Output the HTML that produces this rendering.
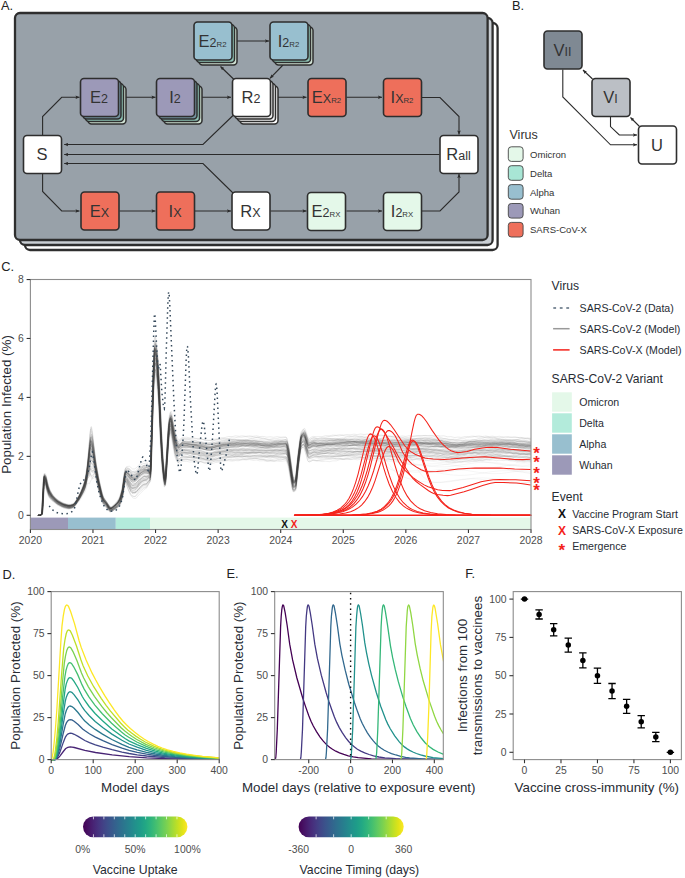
<!DOCTYPE html>
<html><head><meta charset="utf-8"><style>
html,body{margin:0;padding:0;background:#fff;}
svg{display:block;}
text{font-family:"Liberation Sans", sans-serif;}
</style></head><body>
<svg width="685" height="878" viewBox="0 0 685 878">
<rect width="685" height="878" fill="#fff"/>
<rect x="25" y="23" width="472.6" height="227" rx="5" fill="#ffffff" stroke="#2e2e2e" stroke-width="2.3"/>
<rect x="20" y="18" width="472.6" height="227" rx="5" fill="#c9ced3" stroke="#2e2e2e" stroke-width="2.3"/>
<rect x="15" y="13" width="472.6" height="227" rx="5" fill="#98a1a9" stroke="#2e2e2e" stroke-width="2.3"/>
<defs><marker id="ah" viewBox="0 0 10 10" refX="10" refY="5" markerWidth="4.4" markerHeight="4" orient="auto-start-reverse" markerUnits="userSpaceOnUse"><path d="M0,0.5 L10,5 L0,9.5 L2,5 z" fill="#2a2a2a"/></marker></defs>
<path d="M42.6,135L42.6,116.5L61.7,97.3L79.5,97.3" fill="none" stroke="#2a2a2a" stroke-width="1.1" marker-end="url(#ah)"/>
<path d="M42.6,174L42.6,191.5L61.7,211L79.5,211" fill="none" stroke="#2a2a2a" stroke-width="1.1" marker-end="url(#ah)"/>
<path d="M119,97.3L155.5,97.3" fill="none" stroke="#2a2a2a" stroke-width="1.1" marker-end="url(#ah)"/>
<path d="M195,97.3L231,97.3" fill="none" stroke="#2a2a2a" stroke-width="1.1" marker-end="url(#ah)"/>
<path d="M270.5,97.3L306.5,97.3" fill="none" stroke="#2a2a2a" stroke-width="1.1" marker-end="url(#ah)"/>
<path d="M346.5,97.3L382,97.3" fill="none" stroke="#2a2a2a" stroke-width="1.1" marker-end="url(#ah)"/>
<path d="M422,97.5L440,97.5L459,116.5L459,134.5" fill="none" stroke="#2a2a2a" stroke-width="1.1" marker-end="url(#ah)"/>
<path d="M234,79.5L220.5,66.5" fill="none" stroke="#2a2a2a" stroke-width="1.1" marker-end="url(#ah)"/>
<path d="M283,65L270,78.3" fill="none" stroke="#2a2a2a" stroke-width="1.1" marker-end="url(#ah)"/>
<path d="M233,41L269,41" fill="none" stroke="#2a2a2a" stroke-width="1.1" marker-end="url(#ah)"/>
<path d="M119.5,211L155.5,211" fill="none" stroke="#2a2a2a" stroke-width="1.1" marker-end="url(#ah)"/>
<path d="M195,211L231,211" fill="none" stroke="#2a2a2a" stroke-width="1.1" marker-end="url(#ah)"/>
<path d="M270.5,211L306.5,211" fill="none" stroke="#2a2a2a" stroke-width="1.1" marker-end="url(#ah)"/>
<path d="M346.5,211L382,211" fill="none" stroke="#2a2a2a" stroke-width="1.1" marker-end="url(#ah)"/>
<path d="M422,211L440,211L459,192L459,174" fill="none" stroke="#2a2a2a" stroke-width="1.1" marker-end="url(#ah)"/>
<path d="M233,115.5L203,144.5L64.2,144.5" fill="none" stroke="#2a2a2a" stroke-width="1.1" marker-end="url(#ah)"/>
<path d="M439.5,154.5L64.2,154.5" fill="none" stroke="#2a2a2a" stroke-width="1.1" marker-end="url(#ah)"/>
<path d="M233,193L203,163.5L64.2,163.5" fill="none" stroke="#2a2a2a" stroke-width="1.1" marker-end="url(#ah)"/>
<rect x="23.5" y="135.5" width="38" height="38" rx="3.5" fill="#ffffff" stroke="#2e2e2e" stroke-width="1.6"/>
<text x="42" y="160.3" fill="#333333" text-anchor="middle"><tspan font-size="16.5">S</tspan></text>
<rect x="88" y="86" width="38" height="38" rx="3.5" fill="#cddfd1" stroke="#2e2e2e" stroke-width="1.5"/>
<rect x="85.5" y="83.5" width="38" height="38" rx="3.5" fill="#8ec3b5" stroke="#2e2e2e" stroke-width="1.5"/>
<rect x="83" y="81" width="38" height="38" rx="3.5" fill="#728f9b" stroke="#2e2e2e" stroke-width="1.5"/>
<rect x="80.5" y="78.5" width="38" height="38" rx="3.5" fill="#9c99b8" stroke="#2e2e2e" stroke-width="1.6"/>
<text x="99" y="103.3" fill="#333333" text-anchor="middle"><tspan font-size="16.5">E</tspan><tspan font-size="12.5">2</tspan></text>
<rect x="164" y="86" width="38" height="38" rx="3.5" fill="#cddfd1" stroke="#2e2e2e" stroke-width="1.5"/>
<rect x="161.5" y="83.5" width="38" height="38" rx="3.5" fill="#8ec3b5" stroke="#2e2e2e" stroke-width="1.5"/>
<rect x="159" y="81" width="38" height="38" rx="3.5" fill="#728f9b" stroke="#2e2e2e" stroke-width="1.5"/>
<rect x="156.5" y="78.5" width="38" height="38" rx="3.5" fill="#9c99b8" stroke="#2e2e2e" stroke-width="1.6"/>
<text x="175" y="103.3" fill="#333333" text-anchor="middle"><tspan font-size="16.5">I</tspan><tspan font-size="12.5">2</tspan></text>
<rect x="240" y="86" width="38" height="38" rx="3.5" fill="#ffffff" stroke="#2e2e2e" stroke-width="1.5"/>
<rect x="237.5" y="83.5" width="38" height="38" rx="3.5" fill="#f0f0f0" stroke="#2e2e2e" stroke-width="1.5"/>
<rect x="235" y="81" width="38" height="38" rx="3.5" fill="#e8e8e8" stroke="#2e2e2e" stroke-width="1.5"/>
<rect x="232.5" y="78.5" width="38" height="38" rx="3.5" fill="#ffffff" stroke="#2e2e2e" stroke-width="1.6"/>
<text x="251" y="103.3" fill="#333333" text-anchor="middle"><tspan font-size="16.5">R</tspan><tspan font-size="12.5">2</tspan></text>
<rect x="199" y="27" width="38" height="38" rx="3.5" fill="#cddfd1" stroke="#2e2e2e" stroke-width="1.5"/>
<rect x="196.5" y="24.5" width="38" height="38" rx="3.5" fill="#8ec3b5" stroke="#2e2e2e" stroke-width="1.5"/>
<rect x="194" y="22" width="38" height="38" rx="3.5" fill="#98bfcf" stroke="#2e2e2e" stroke-width="1.6"/>
<text x="212.5" y="46.8" fill="#333333" text-anchor="middle"><tspan font-size="16.5">E</tspan><tspan font-size="12.5">2</tspan><tspan font-size="7.8">R2</tspan></text>
<rect x="275" y="27" width="38" height="38" rx="3.5" fill="#cddfd1" stroke="#2e2e2e" stroke-width="1.5"/>
<rect x="272.5" y="24.5" width="38" height="38" rx="3.5" fill="#8ec3b5" stroke="#2e2e2e" stroke-width="1.5"/>
<rect x="270" y="22" width="38" height="38" rx="3.5" fill="#98bfcf" stroke="#2e2e2e" stroke-width="1.6"/>
<text x="288.5" y="46.8" fill="#333333" text-anchor="middle"><tspan font-size="16.5">I</tspan><tspan font-size="12.5">2</tspan><tspan font-size="7.8">R2</tspan></text>
<rect x="308" y="78.5" width="38" height="38" rx="3.5" fill="#ee6f5b" stroke="#2e2e2e" stroke-width="1.6"/>
<text x="326.5" y="103.3" fill="#333333" text-anchor="middle"><tspan font-size="16.5">E</tspan><tspan font-size="12.5">X</tspan><tspan font-size="7.8">R2</tspan></text>
<rect x="383.5" y="78.5" width="38" height="38" rx="3.5" fill="#ee6f5b" stroke="#2e2e2e" stroke-width="1.6"/>
<text x="402" y="103.3" fill="#333333" text-anchor="middle"><tspan font-size="16.5">I</tspan><tspan font-size="12.5">X</tspan><tspan font-size="7.8">R2</tspan></text>
<rect x="440" y="135.5" width="38" height="38" rx="3.5" fill="#ffffff" stroke="#2e2e2e" stroke-width="1.6"/>
<text x="458.5" y="160.3" fill="#333333" text-anchor="middle"><tspan font-size="16.5">R</tspan><tspan font-size="12.5">all</tspan></text>
<rect x="81" y="192" width="38" height="38" rx="3.5" fill="#ee6f5b" stroke="#2e2e2e" stroke-width="1.6"/>
<text x="99.5" y="216.8" fill="#333333" text-anchor="middle"><tspan font-size="16.5">E</tspan><tspan font-size="12.5">X</tspan></text>
<rect x="156.5" y="192" width="38" height="38" rx="3.5" fill="#ee6f5b" stroke="#2e2e2e" stroke-width="1.6"/>
<text x="175" y="216.8" fill="#333333" text-anchor="middle"><tspan font-size="16.5">I</tspan><tspan font-size="12.5">X</tspan></text>
<rect x="232" y="192" width="38" height="38" rx="3.5" fill="#ffffff" stroke="#2e2e2e" stroke-width="1.6"/>
<text x="250.5" y="216.8" fill="#333333" text-anchor="middle"><tspan font-size="16.5">R</tspan><tspan font-size="12.5">X</tspan></text>
<rect x="307.5" y="192.5" width="38" height="38" rx="3.5" fill="#e4f8e9" stroke="#2e2e2e" stroke-width="1.6"/>
<text x="326" y="217.3" fill="#333333" text-anchor="middle"><tspan font-size="16.5">E</tspan><tspan font-size="12.5">2</tspan><tspan font-size="7.8">RX</tspan></text>
<rect x="383.5" y="192.5" width="38" height="38" rx="3.5" fill="#e4f8e9" stroke="#2e2e2e" stroke-width="1.6"/>
<text x="402" y="217.3" fill="#333333" text-anchor="middle"><tspan font-size="16.5">I</tspan><tspan font-size="12.5">2</tspan><tspan font-size="7.8">RX</tspan></text>
<path d="M562.8,69.5L562.8,97L610.5,144.8L637,144.8" fill="none" stroke="#2a2a2a" stroke-width="1.1" marker-end="url(#ah)"/>
<path d="M610.5,117L610.5,126.6L619.3,135L637,135" fill="none" stroke="#2a2a2a" stroke-width="1.1" marker-end="url(#ah)"/>
<path d="M592.5,79L583,70" fill="none" stroke="#2a2a2a" stroke-width="1.1" marker-end="url(#ah)"/>
<path d="M639.5,126.5L630.5,117.5" fill="none" stroke="#2a2a2a" stroke-width="1.1" marker-end="url(#ah)"/>
<rect x="544" y="31" width="38" height="38" rx="3.5" fill="#7f8993" stroke="#2e2e2e" stroke-width="1.6"/>
<text x="562.5" y="55.8" fill="#333333" text-anchor="middle"><tspan font-size="16.5">V</tspan><tspan font-size="12.5">II</tspan></text>
<rect x="592" y="78.5" width="38" height="38" rx="3.5" fill="#bbbfc5" stroke="#2e2e2e" stroke-width="1.6"/>
<text x="610.5" y="103.3" fill="#333333" text-anchor="middle"><tspan font-size="16.5">V</tspan><tspan font-size="12.5">I</tspan></text>
<rect x="638.5" y="126" width="38" height="38" rx="3.5" fill="#ffffff" stroke="#2e2e2e" stroke-width="1.6"/>
<text x="657" y="150.8" fill="#333333" text-anchor="middle"><tspan font-size="16.5">U</tspan></text>
<text x="509.5" y="139" font-size="12.5" fill="#333333" text-anchor="start" >Virus</text>
<rect x="508.3" y="146.8" width="14.8" height="14.6" rx="3" fill="#e4f8e9" stroke="#444" stroke-width="0.9"/>
<text x="530" y="157.7" font-size="9.55" fill="#333333" text-anchor="start" >Omicron</text>
<rect x="508.3" y="165.7" width="14.8" height="14.6" rx="3" fill="#a8e6d5" stroke="#444" stroke-width="0.9"/>
<text x="530" y="176.6" font-size="9.55" fill="#333333" text-anchor="start" >Delta</text>
<rect x="508.3" y="184.6" width="14.8" height="14.6" rx="3" fill="#98bfcf" stroke="#444" stroke-width="0.9"/>
<text x="530" y="195.5" font-size="9.55" fill="#333333" text-anchor="start" >Alpha</text>
<rect x="508.3" y="203.5" width="14.8" height="14.6" rx="3" fill="#9c99b8" stroke="#444" stroke-width="0.9"/>
<text x="530" y="214.4" font-size="9.55" fill="#333333" text-anchor="start" >Wuhan</text>
<rect x="508.3" y="222.4" width="14.8" height="14.6" rx="3" fill="#ee6f5b" stroke="#444" stroke-width="0.9"/>
<text x="530" y="233.3" font-size="9.55" fill="#333333" text-anchor="start" >SARS-CoV-X</text>
<text x="1" y="9.6" font-size="12.8" fill="#222" text-anchor="start" >A.</text>
<text x="512" y="9.6" font-size="12.8" fill="#222" text-anchor="start" >B.</text>
<text x="1.2" y="271.4" font-size="12.8" fill="#222" text-anchor="start" >C.</text>
<text x="2.6" y="578.7" font-size="12.8" fill="#222" text-anchor="start" >D.</text>
<text x="226.5" y="578.2" font-size="12.8" fill="#222" text-anchor="start" >E.</text>
<text x="465.2" y="578.2" font-size="12.8" fill="#222" text-anchor="start" >F.</text>
<g>
<rect x="30.4" y="517.6" width="37.6" height="11.9" fill="#9c99b8"/>
<rect x="68" y="517.6" width="47.8" height="11.9" fill="#98bfcf"/>
<rect x="115.8" y="517.6" width="34.2" height="11.9" fill="#b3ebdb"/>
<rect x="150" y="517.6" width="381" height="11.9" fill="#e4f8e9"/>
<path d="M37.9,515.3L40.4,515.3L41.4,514.9L41.9,514.3L42.4,511.6L43.9,481.6L44.4,476.9L45.4,478L45.9,479.1L47.4,485.9L49.4,492L51.9,496L56.4,500.6L58.4,502.1L63.4,504.7L68.4,506.1L70.4,506.2L73,505.5L74,504.9L75.5,503.1L78.5,498.7L80.5,495L84,487.1L85.5,482.5L87,474.3L90.5,447L91,445.7L91.5,446.4L92,447.9L93.5,453.6L98.5,481.5L102,495.7L103,498.5L104,500.3L107,504.1L109.5,507.9L110.5,508.6L111.5,508.5L112.5,508L116,505L118.5,502.4L120,500L121,497.3L122.5,491.7L124.5,478L125.5,473.5L126,473.4L126.5,473.7L129,475.8L132,479.7L133.5,480.2L134.5,480.2L136,479.5L139,476.2L144,472.5L145,472.3L148.5,473.2L150,474.3L150.5,473.5L151,464.1L153.5,377.6L154.5,357.4L155,353L155.5,353.4L156.1,355.3L157.1,361.4L157.6,366.1L159.1,388.9L161.1,434.3L162.6,459.9L164.1,475.3L164.6,478.7L165.1,480.1L165.6,478L166.1,471.9L169.1,426.1L170.1,420.6L170.6,419.2L171.1,419.3L171.6,420.9L174.6,437.8L175.6,442.2L177.1,445.8L178.1,447.3L178.6,447.7L179.6,447.5L182.1,445.7L186.1,445.4L189.6,446.3L193.1,446.3L196.6,447.3L200.1,447.5L204.1,449L207.1,449.2L210.1,449.9L211.6,449.6L214.6,448.6L217.6,448.2L221.1,447L224.6,446.7L228.1,445.5L231.6,445.5L235.1,444.8L238.6,445.1L242.2,444.6L245.7,445.2L249.2,444.8L252.7,445.4L256.2,445L259.2,445.7L262.7,445.7L266.7,446.7L269.7,446.4L273.2,446.9L276.7,446.3L280.2,446.7L283.7,446.2L286.2,446.5L286.7,446.9L287.2,448.1L288.7,453.8L292.7,480.6L293.2,482.7L293.7,483.5L294.7,483.1L295.7,481.9L296.2,479.6L298.2,460.2L300.7,441L301.2,438.6L301.7,437.5L302.7,436L303.7,435.1L304.2,435L304.7,435.5L305.7,438L307.7,444.6L308.7,446.3L309.2,446.4L311.7,445.1L313.2,444.8L321.2,445.6L325.3,444.9L328.8,445.3L332.3,444.8L335.8,445.4L339.3,444.9L342.8,445.5L346.3,444.9L349.8,445.3L353.3,444.4L356.8,444.5L360.3,443.7L363.8,443.8L367.3,443.2L370.8,443.7L374.3,443.3L377.8,444.1L380.8,443.9L384.3,444.7L387.8,444.5L391.3,445.3L394.8,445L398.3,445.6L401.8,445.2L405.3,445.8L408.9,445.2L412.4,445.6L415.9,445L419.4,445.3L422.9,444.6L425.9,444.9L429.4,444.2L433.4,444.6L436.9,444.1L440.4,444.8L443.4,444.8L446.9,445.9L450.4,446.1L453.9,447.1L457.4,446.8L460.9,447.2L464.4,446.6L467.9,446.8L471.4,446.2L474.9,446.5L478.4,445.9L481.9,446.3L485.4,445.6L488.9,445.7L492.5,444.9L495.5,445.1L499,444.4L502.5,444.8L506,444.4L509.5,445.1L513.5,445.1L516.5,445.9L520,445.9L523.5,446.7L527,446.6L531,447.5" fill="none" stroke="#404040" stroke-opacity="0.104" stroke-width="0.9"/>
<path d="M37.9,515.3L40.9,515.3L41.9,514.9L42.4,514.3L42.9,511.8L44.4,481.3L44.9,476.1L45.4,476.4L46.4,478.2L47.9,485.1L49.9,491.3L52.4,495.4L56.9,500.2L58.9,501.7L63.9,504.4L66.4,505.2L69.4,505.8L71.4,505.7L73.5,505.1L74.5,504.5L76,502.8L79,498.3L81,494.4L84.5,486.3L86,481.5L87.5,473L90.5,446.3L91,442.6L91.5,441.2L92,442L92.5,443.7L93.5,448.1L96,464.1L98.5,478L100,485.1L102.5,495L103.5,497.8L104.5,499.7L107.5,503.6L110,507.4L111,508.2L112,508.2L113,507.6L116.5,504.6L119,501.9L120.5,499.5L121.5,496.7L123,491.2L125,477.4L126,472.6L126.5,472.5L127,472.6L129.5,474.3L132.5,477.9L133,478.2L134,478.3L135,478L136.5,477.2L139.5,473.6L144.5,469.3L145.5,469.1L146.5,469.4L149,471L150.5,472.6L151,472L151.5,462.9L154,373.9L155,353.2L155.5,348.5L156.1,349L156.6,351.1L158.1,362.7L159.6,386.1L161.6,432.4L163.1,458.5L164.6,474.3L165.1,477.8L165.6,479.4L166.1,477.5L166.6,471.5L169.6,425.2L170.6,419.5L171.1,418L171.6,418.1L172.1,419.7L175.1,436.6L176.1,441.1L177.6,444.7L178.6,446.2L179.1,446.5L180.1,446.4L182.6,444.5L186.1,443.9L190.1,444.6L193.6,444.3L197.1,445.1L200.6,445L204.1,446.2L207.1,446.3L210.6,447L214.6,446L217.6,445.9L221.6,445L224.6,445.1L228.1,444.2L231.6,444.4L235.1,443.7L238.6,443.9L242.2,443.1L245.7,443.4L249.2,442.8L252.7,443.2L256.7,442.9L259.7,443.6L263.2,443.6L266.7,444.6L270.2,444.4L273.7,444.9L276.7,444.3L280.2,444.5L284.2,444L286.7,444.3L287.2,444.8L287.7,445.9L289.2,451.8L292.7,476.2L293.7,481.4L294.2,482.3L295.2,481.9L296.2,480.7L296.7,478.5L299.2,454.9L300.7,443.2L301.7,437.4L303.2,434.5L304.2,433.6L304.7,433.5L305.7,435L308.2,442.9L309.2,444.6L309.7,444.6L312.2,443.5L313.7,443.2L321.7,444L325.3,443.3L329.3,443.6L332.8,443L336.3,443.2L339.8,442.5L343.3,442.7L346.3,442L349.8,442.2L353.3,441.5L356.8,442L360.3,441.5L363.8,442.2L367.3,441.9L370.8,442.7L374.3,442.4L377.8,443.1L381.3,442.6L384.8,443.1L388.3,442.6L391.8,443.1L395.3,442.5L398.8,443L402.3,442.4L405.8,442.9L408.9,442.4L412.4,442.9L416.4,442.5L419.4,443.1L422.9,442.8L426.4,443.4L429.9,443L433.4,443.5L436.9,443L440.4,443.5L443.4,443.2L447.4,444L450.4,443.8L453.9,444.6L457.9,444.3L460.9,444.8L464.4,444.3L467.9,444.7L471.4,444.1L474.9,444.5L478.4,443.9L481.9,444.2L485.4,443.4L488.9,443.6L492.5,442.8L496,443.2L499.5,442.6L503,443.2L506.5,442.9L510,443.6L513.5,443.5L517,444.3L520,444.1L523.5,444.9L527,444.8L531,445.5" fill="none" stroke="#404040" stroke-opacity="0.125" stroke-width="0.9"/>
<path d="M37.9,515.3L40.9,515.2L41.9,514L42.4,509.1L43.9,484L44.4,482.3L45.4,483.5L45.9,484.9L47.4,491.4L48.9,495.7L49.9,497.3L51.4,499.1L56.9,503.8L61.9,506.5L63.9,507.4L66.9,508.1L68.9,508.4L70.4,508.4L73.5,507.3L75,505.8L79,500.4L83,493.6L84.5,490.6L85.5,487.9L87,480.5L88,477.5L89,477L90,474.9L90.5,474.4L91.5,475.9L92,476.1L92.5,475.8L93.5,474L94,473.7L94.5,473.7L95.5,475.1L96,476.7L99,490.6L101,497.8L102.5,502.2L104,504.6L107,507.7L109.5,511.1L110.5,511.7L112,511.2L117.5,507.4L119,506L120,504.5L121,502L122.5,497L124.5,483.9L125,481.8L125.5,481.3L131,492L132,493.3L133,493.7L134.5,493.5L136,492.7L139,489.3L143.5,485.2L144.5,484.8L146.5,484.9L147,484.5L148.5,482L150,480.7L150.5,478L153,401.1L154,381.2L154.5,374.4L155,372.4L155.5,373.1L156.6,376.9L157.6,383.8L159.1,405.4L160.6,438.4L162.1,463.2L163.6,478.9L164.6,485.3L165.1,485.9L165.6,482.4L166.1,475.9L168.6,439.9L169.6,433.8L170.1,432.2L170.6,431.5L171.1,432.3L171.6,434.5L175.1,454.4L175.6,456.2L177.1,459.6L178.1,461L178.6,461.3L179.6,461.1L182.1,459.3L185.6,458.8L189.1,459.5L192.6,459.3L196.1,460.1L199.6,459.9L203.1,460.8L206.6,460.8L209.6,461.2L210.6,461.1L213.6,459.9L217.1,459.5L220.1,458.5L224.1,458.4L227.6,457.6L231.1,457.9L234.6,457.5L238.1,458L241.2,457.6L244.7,458.3L248.2,458L251.7,458.6L255.2,458.3L258.7,459L262.2,458.9L265.7,459.6L269.2,459.2L272.7,459.4L276.2,458.5L279.7,458.7L283.2,458L286.2,458.3L287.2,459.9L288.7,464.5L292.2,486L293.2,490.3L293.7,490.7L295.2,489.7L295.7,488.7L296.2,486L298.2,466.8L300.7,449L301.2,447.1L301.7,446.4L303.2,445L303.7,445L304.2,445.4L304.7,446.3L307.7,456.8L308.2,457.9L308.7,458.5L309.2,458.6L313.2,457.6L317.2,457.9L320.7,458.4L324.8,457.8L328.3,458.3L331.8,457.9L334.8,458.5L338.8,458.1L342.3,458.6L345.8,458.1L349.3,458.4L352.8,457.7L356.3,458L359.8,457.2L363.3,457.5L366.3,456.9L369.8,457.2L373.3,456.6L376.8,457.1L380.3,456.5L383.8,457L387.3,456.5L390.8,457.1L394.3,456.8L397.8,457.5L401.3,457.1L404.8,457.7L408.4,457.3L411.9,457.8L415.4,457.4L418.4,458.1L421.9,457.8L425.4,458.5L428.9,458.3L432.4,458.9L435.9,458.6L439.4,459.2L442.9,459L446.4,459.8L449.9,459.5L453.4,460.1L456.9,459.4L460.4,459.5L463.9,458.6L467.4,458.6L470.9,457.7L474.4,457.9L477.9,457.3L481.4,457.6L484.9,457.1L487.9,457.6L491.5,457.2L495,457.9L498.5,457.6L502,458.4L505.5,458.2L509,459L512.5,458.7L516,459.4L519.5,459.1L523,459.8L526.5,459.4L529.5,460L531,459.9" fill="none" stroke="#404040" stroke-opacity="0.106" stroke-width="0.9"/>
<path d="M37.9,515.3L40.4,515.2L41.4,514.2L41.9,511.3L43.4,484.5L43.9,481.5L44.9,482.8L45.4,484L46.9,490.6L48.4,495.2L49.4,497L50.9,498.8L56.4,503.5L61.9,506.4L63.9,507.2L67.9,508L69.4,508L70.9,507.7L73,506.9L75,504.8L79,499.1L83.5,490.9L84.5,488.5L85.5,485.1L87.5,474.2L89.5,469.1L90,468.3L90.5,469.1L91.5,471.9L92,472.5L93,472.3L94,472.8L95.5,475.5L99,490.9L101,498.1L102.5,502.1L104,504.2L106.5,506.7L109,510.2L110,510.9L110.5,510.9L112,510.2L117,506.6L118.5,505.2L119.5,503.8L120.5,501.4L122,496.5L124,483.8L124.5,481.2L125,480.1L126,481.3L131,491.7L132,492.7L133,492.9L134.5,492.6L136,491.6L143,483.9L144,483.3L146.5,483.3L148.5,480.8L149.5,480L150,478.6L150.5,468.7L153,388.6L154,371.6L154.5,368.2L155,368.9L155.5,370.6L156.6,375.6L157.6,385.5L158.6,400.5L160.1,433.6L161.6,459.8L163.1,476.7L164.1,483.7L164.6,485L165.1,482.7L165.6,476.8L168.1,439.6L168.6,434.7L169.6,430.4L170.1,429.4L170.6,429.8L171.1,431.7L174.1,449.1L175.1,453.5L176.6,457L177.6,458.5L178.1,458.8L179.1,458.7L182.1,456.4L185.1,455.8L188.6,456.3L192.1,456L195.6,457L198.6,457.1L202.6,458.6L205.6,459.1L208.6,460L209.6,460.1L213.1,459.1L216.1,458.9L220.1,457.5L223.1,457.3L226.6,456L230.1,455.9L233.6,455.1L237.1,455.5L240.7,455.1L244.2,455.9L247.7,455.8L251.2,456.5L254.7,456.1L257.7,456.6L261.7,456.3L265.2,456.8L268.7,456.1L272.2,456.2L275.7,455.4L279.2,455.8L282.2,455.6L285.7,456.5L286.2,456.9L286.7,458L288.2,463L292.2,487.5L292.7,489.4L293.2,490.1L294.2,489.7L295.2,488.6L295.7,486.4L297.7,467.7L300.2,449.1L300.7,446.9L301.2,445.8L302.2,444.5L303.2,444L303.7,444.2L304.7,446.2L306.7,453.3L307.7,456L308.2,456.7L308.7,456.8L312.7,455.5L315.7,455.4L320.2,455.9L324.3,455.3L327.3,456L331.3,455.8L334.3,456.4L338.3,455.8L341.3,456.1L344.8,455.2L348.8,455.1L351.8,454.3L355.3,454.5L358.8,453.9L362.3,454.6L365.8,454.5L369.3,455.4L372.8,455.3L376.3,456.1L379.8,455.6L383.3,456L386.8,455.3L390.3,455.5L393.8,454.9L397.3,455.3L400.8,454.9L404.3,455.6L407.4,455.3L411.4,456L414.9,455.7L417.9,456.2L421.4,455.7L424.9,456L428.4,455.3L431.9,455.6L435.4,455L438.9,455.6L442.4,455.6L445.9,456.8L449.4,457.1L452.9,458.1L456.4,457.9L459.4,458.3L463.4,457.3L466.9,457.2L470.4,456.1L473.4,456.1L477.4,455.2L480.4,455.6L483.9,455.2L487.4,455.9L491,455.7L494.5,456.5L498,456.2L501.5,456.8L505,456.2L508.5,456.5L512,455.8L515.5,456.1L519,455.6L522.5,456.3L526,456.3L529,457.3L531,457.3" fill="none" stroke="#404040" stroke-opacity="0.091" stroke-width="0.9"/>
<path d="M37.9,515.3L40.9,515.1L41.9,513.7L42.4,507.9L43.9,479L44.4,477.9L45.4,479.4L47.4,487.6L48.9,492L50.4,494.7L51.9,496.7L55.4,500.1L57.9,502L60.4,503.5L63.9,505L67.4,506L69.9,506.1L72.5,505.5L73.5,505.1L75,503.5L78.5,498.3L80.5,494.7L83.5,488.1L85,483.8L86.5,476.8L89,459.8L90,451.1L90.5,448.4L91,448L91.5,449L93,454.3L98.5,482.9L102,496.8L103.5,500.1L107,504.5L109,507.7L110,508.7L111,508.7L112,508.2L116,505.2L118.5,502.4L120,499.8L121,497.1L122.5,491.6L124.5,477.5L125,475L125.5,474.2L126,474.5L127,475.4L131,480.8L132,481.4L132.5,481.4L135,481.2L136,480.8L137,479.6L139.5,475.6L144.5,472.1L146,471.7L147.5,472L150,474.1L150.5,470.4L151,456.9L153.5,371.2L154.5,353.3L155,351.9L156.1,356.3L157.1,363.7L158.1,376.8L159.1,394.1L160.6,429.2L162.6,463.6L164.1,477.8L164.6,480.5L165.1,480.6L166.1,469.3L168.6,430L169.6,423.5L170.1,421.8L170.6,421.2L171.1,422.2L171.6,424.5L175.1,442.9L177.1,448.3L178.1,449.7L178.6,449.9L179.6,449.2L181.1,447.3L182.1,446.6L185.1,446.7L188.1,446.1L191.6,446.7L195.6,446.7L198.6,447.7L202.1,448.2L206.1,449.9L212.1,450.3L216.1,449L219.6,448.7L223.1,447.4L226.6,447L229.6,445.9L233.6,445.8L236.6,445.2L240.7,445.7L243.7,445.5L247.7,446.5L250.7,446.4L254.7,447.2L257.7,446.9L261.7,447.6L264.7,447.2L268.2,447.4L271.7,446.4L275.2,446.3L278.7,445.4L282.2,446L285.2,445.7L286.2,446L287.2,448.5L288.7,455.3L292.2,479.5L293.2,483.7L293.7,484.1L295.2,483.3L295.7,482.3L296.2,479.3L298.2,459.5L300.7,441.1L301.2,439.4L301.7,438.7L302.7,437.6L303.7,437.1L304.2,437.3L305.2,439.1L307.7,446.6L308.2,447.6L308.7,448.1L309.2,448.1L310.2,447.8L312.7,445.8L313.7,445.5L317.2,446.1L320.7,445.3L323.8,445.4L327.3,444.9L330.8,445.6L334.3,445.4L337.8,446.3L341.3,446L344.8,446.4L348.3,445.6L351.8,445.7L355.3,444.6L358.8,444.6L362.3,443.7L365.8,444.2L369.3,443.9L372.3,444.7L376.3,444.9L379.3,445.9L382.8,445.9L386.8,446.7L389.8,446.3L393.3,446.6L396.8,445.8L400.3,445.8L403.8,444.9L407.4,445L410.9,444.4L414.4,445.1L417.9,445L420.9,445.9L424.9,445.9L428.4,446.7L431.9,446.3L434.9,446.7L438.4,446L441.9,446.4L445.4,445.9L448.9,446.6L452.4,446.5L455.9,447.3L459.4,447.1L462.9,447.8L466.4,447.4L469.9,447.9L473.4,447.2L476.9,447.3L480.4,446.4L483.9,446.3L486.9,445.4L491,445.4L494,444.9L498,445.5L501,445.4L504.5,446.4L508,446.5L512,447.4L515,447.2L518.5,447.8L522,447.3L525.5,447.6L529,447L531,447.2" fill="none" stroke="#404040" stroke-opacity="0.120" stroke-width="0.9"/>
<path d="M37.9,515.3L40.4,515.3L40.9,515L41.4,514.4L41.9,512.6L43.9,473.8L44.4,474L45.4,475.9L46.9,483L48.9,489.3L50.4,492.2L52.4,495.2L54.4,497.6L55.9,498.9L58.9,501L61.4,502.4L66.4,504.2L68.4,504.6L70.9,504.2L73.5,503.3L75,501.6L76.5,499.3L79.5,493.9L82,488.2L84,482.6L85.5,476.6L87.5,462L90,432.9L90.5,429.7L91,429.2L91.5,430.6L92.5,436.3L95,459.5L96,466.7L98,477.6L100.5,489L102,494.6L103,497.1L104,498.7L106.5,501.9L109.5,506.6L110.5,506.9L111.5,506.5L115.5,503L117.5,500.6L119.5,497L122,488.5L124.5,471.1L125,469L125.5,468.4L127,468.1L128.5,468.6L131.5,471.6L132,471.7L135.5,470.9L137,469.7L139.5,466.2L141,464.8L143,463.7L146,463.2L146.5,463.2L147.5,464.3L149.5,468.8L150,469.3L150.5,461.3L151,445L153,367.7L154,343.6L154.5,337.4L155,337.4L155.5,339.7L157.1,353.1L158.6,378.1L160.6,425.5L162.1,453.2L163.6,470.7L164.1,474.6L164.6,476.7L165.1,475.3L165.6,469.4L168.6,420.3L169.6,414L170.1,412.4L170.6,412.4L171.1,414.1L172.6,422.8L175.1,434.8L177.1,439.7L178.1,441.2L178.6,441.4L179.6,440.8L181.6,438.6L182.6,438.3L186.1,438.9L189.1,438.5L193.1,439L196.6,438.7L199.6,439.3L203.1,439.4L206.1,440.4L207.6,440.6L210.1,440.3L213.6,440.3L217.1,439.4L220.6,439.6L224.1,438.8L227.6,438.8L231.1,438L234.6,438L238.1,437.1L241.7,437.2L245.2,436.6L248.7,437L252.2,436.7L255.2,437.4L258.7,437.4L262.7,438.7L265.7,438.8L269.2,439.4L272.7,438.7L276.2,438.7L279.7,437.8L283.2,437.8L285.7,437.2L286.2,437.4L286.7,438.6L288.2,445.3L291.7,471.6L292.7,477.1L293.2,478.1L294.2,477.7L295.2,476.8L295.7,474.9L298.2,451.2L299.7,438.9L300.7,432.8L301.2,431.6L302.2,430.2L303.2,429.5L303.7,429.4L304.7,430.6L307.7,438.5L308.2,439.2L308.7,439.4L310.2,439.1L313.7,437.6L314.7,437.6L317.2,438.5L318.2,438.6L321.7,437.5L325.3,437.4L328.8,436.4L331.8,436.4L335.3,435.6L338.8,435.9L342.3,435.4L345.8,436.1L349.3,435.8L352.8,436.5L356.3,436.1L359.8,436.7L363.3,436.1L366.8,436.5L370.3,435.8L373.8,436.1L376.8,435.5L380.8,435.9L383.8,435.5L387.3,436.3L390.8,436.3L394.3,437.3L397.8,437.2L401.3,437.9L404.8,437.3L408.4,437.6L411.9,436.6L415.4,436.6L418.9,435.7L422.4,435.9L425.9,435.4L429.4,436L432.9,435.9L436.4,436.9L439.4,437L443.4,438.4L446.4,438.6L450.4,439.6L453.4,439.3L456.9,439.5L460.4,438.5L464.4,438.2L467.4,437.2L470.9,437.3L474.4,436.6L477.9,437.1L481.4,436.8L484.9,437.5L488.4,437.3L492,438L495.5,437.6L498.5,438L502.5,437.4L505.5,437.8L509,437.1L512.5,437.5L516,437L519.5,437.8L523,437.7L526.5,438.7L529.5,438.8L531,439.1" fill="none" stroke="#404040" stroke-opacity="0.109" stroke-width="0.9"/>
<path d="M37.9,515.3L40.4,515.2L41.4,514.1L41.9,509.8L43.4,481L43.9,478.7L44.9,480L45.4,481.4L46.9,488.2L47.9,491.6L48.9,493.9L51.4,497.4L55.4,501.4L57.4,502.9L61.9,505.4L63.9,506.2L67.4,507L68.9,507.2L70.4,507L73,506L74,505.1L77,500.9L79,497.6L83,489.5L84.5,485.4L85.5,481.5L90,454.4L90.5,454.2L93,460.5L98.5,486.3L100.5,494.3L102,499.2L103,501.2L104,502.7L106.5,505.5L109,509.2L110,509.9L111.5,509.5L116.5,505.6L118.5,503.5L119.5,501.7L122,493.7L124,480.3L124.5,477.7L125,476.6L125.5,476.9L126.5,477.9L128.5,480.5L131,484.6L132,485.3L133.5,485L135.5,483.9L141.5,477.7L143,476.5L144,476.3L146.5,476.8L148,476.3L149.5,476.5L150,474.4L150.5,462.8L153,380L154,362.1L154.5,359.4L155,360.4L156.1,365.3L157.1,373.6L158.6,396.7L160.1,431L161.6,457.5L163.1,474.6L164.1,481.6L164.6,482.5L165.1,479.3L165.6,472.7L168.1,434L169.1,426.6L169.6,424.6L170.1,423.7L170.6,424.4L171.1,426.5L174.6,445.9L175.1,447.6L176.6,450.9L177.6,452.4L178.1,452.8L179.1,452.7L181.6,450.6L184.1,450.1L188.1,451L191.6,450.9L195.1,451.8L198.6,451.8L202.1,452.8L205.1,452.9L208.6,453.6L212.6,452.5L215.6,452.2L219.1,451.2L222.6,451.3L226.1,450.5L229.6,450.8L233.1,450.3L236.6,450.7L240.2,450.2L243.7,450.5L247.2,449.9L250.7,450.1L254.2,449.5L257.7,449.9L260.7,449.6L264.2,450.4L267.7,450.3L271.2,450.9L274.7,450.5L278.2,451L281.7,450.7L285.7,451.2L286.2,451.8L286.7,453L288.2,458.4L291.7,481.6L292.7,486L293.2,486.5L294.2,485.9L295.2,484.4L295.7,481.8L297.7,462.6L300.2,443.8L300.7,441.7L301.2,440.7L302.2,439.4L303.2,438.9L303.7,439.1L304.2,439.9L307.2,449.1L308.2,450.6L312.7,449.6L314.7,449.5L319.7,450.5L323.3,449.9L326.8,450.4L330.3,450L333.8,450.4L337.3,449.7L340.8,450L344.3,449.1L347.8,449.2L351.3,448.4L354.8,448.7L358.3,448.1L361.8,448.6L365.3,448.3L368.8,449L372.3,448.8L375.8,449.6L379.3,449.3L382.8,449.9L386.3,449.5L389.8,450L392.8,449.6L396.3,450.1L399.8,449.7L403.8,450L406.9,449.4L410.4,449.8L413.9,449.1L417.4,449.5L420.9,448.9L424.4,449.4L427.9,449L430.9,449.6L434.4,449.4L438.4,450.2L441.4,450.1L444.9,451.2L448.4,451.3L452.4,452.2L455.4,451.8L458.9,452.1L462.4,451.2L465.9,451.1L469.4,450.1L472.9,450.2L476.4,449.5L479.9,449.9L483.4,449.4L486.9,450L490.5,449.8L493.5,450.4L497.5,450.2L501,450.8L504.5,450.4L508,450.8L511.5,450.2L515,450.5L518,450L521.5,450.5L525,450.2L528.5,451L531,450.9" fill="none" stroke="#404040" stroke-opacity="0.094" stroke-width="0.9"/>
<path d="M37.9,515.3L40.9,515.2L41.9,514.2L42.4,510.9L43.9,483.9L44.4,480.1L45.4,481.2L45.9,482.4L47.4,489.1L49.4,494.7L51.4,497.5L56.4,502.1L58.4,503.5L62.9,505.7L67.9,506.9L69.9,507L71.4,506.7L73.5,505.8L74.5,504.9L78,500L79.5,497.5L83.5,489.3L85,485.4L86.5,478.9L90,457.3L90.5,454.9L91,454.4L93,458.7L94,461.8L99,486.5L101,494.5L102.5,499.4L103.5,501.5L104.5,503L107,505.9L109.5,509.6L110.5,510.3L112,510L117,506.3L119,504.4L120,502.9L121,500.3L122.5,495.2L124.5,481.9L125,479.3L125.5,478.2L126.5,479.1L131.5,486.3L132,486.8L133,487L134.5,486.6L136,485.5L139,481.6L143,477.3L144,476.5L145,476.2L147,476.3L148.5,475.6L150,476L150.5,474.7L151,464.5L153.5,381.1L154.5,362.1L155,358.4L155.5,358.9L156.1,360.7L157.1,366.5L157.6,371.2L159.1,394L161.1,438.5L162.6,463.1L164.1,477.8L164.6,481L165.1,482.3L165.6,479.8L166.1,473.7L168.6,435.3L169.1,430.3L170.1,425.4L170.6,424.3L171.1,424.7L171.6,426.6L174.6,444.1L175.6,448.5L177.1,452.2L178.1,453.7L178.6,454.1L179.6,454.1L182.1,452.4L185.1,452.1L189.1,452.9L192.6,452.7L196.1,453.5L199.6,453.2L203.1,454L206.6,453.9L209.6,454.3L211.1,454L213.6,452.9L217.1,452.5L220.1,451.6L224.1,451.6L227.6,450.9L231.1,451.3L234.6,451L238.1,451.5L241.7,451.2L245.2,451.7L248.2,451.2L252.2,451.5L255.7,450.8L258.7,451.1L262.2,450.7L266.2,451.1L269.2,450.5L272.7,450.7L276.2,449.9L279.7,450.2L283.2,449.9L286.2,450.6L286.7,451.2L287.2,452.3L288.7,457.8L292.2,481.2L293.2,486.2L293.7,486.9L294.7,486.6L295.7,485.4L296.2,483.1L298.2,464.2L300.7,445.9L301.2,443.7L301.7,442.8L302.7,441.6L303.7,441.1L304.2,441.3L305.2,443.4L307.7,452.1L308.7,453.9L309.2,454L312.7,452.9L320.7,452.6L324.8,451.1L328.3,450.8L331.8,449.6L335.3,449.4L338.8,448.4L342.3,448.5L345.8,447.7L349.3,448.1L352.8,447.7L356.3,448.4L359.3,448.3L363.3,449.5L366.8,449.7L370.3,450.9L373.3,450.9L376.8,452L380.3,451.8L383.8,452.5L387.3,452L390.8,452.3L394.3,451.5L397.8,451.5L401.3,450.5L404.8,450.4L408.4,449.3L411.9,449.3L415.4,448.5L418.9,448.9L422.4,448.6L425.9,449.4L428.9,449.2L432.4,450.2L435.9,450.3L439.4,451.3L442.9,451.5L446.4,452.6L449.9,452.6L453.4,453.4L456.9,452.8L460.4,453L463.9,452L467.4,452L470.9,451L474.4,451.1L477.9,450.4L481.4,450.7L484.9,450.2L488.4,450.8L491.5,450.5L495,451.2L498.5,451L502,451.8L505.5,451.5L509,452.1L512.5,451.7L516,452.1L519.5,451.5L523,451.8L526.5,451.2L529.5,451.5L531,451.4" fill="none" stroke="#404040" stroke-opacity="0.091" stroke-width="0.9"/>
<path d="M37.9,515.3L40.4,515.3L41.4,514.9L41.9,514.2L42.4,511.3L43.9,478.8L44.4,474.3L45.4,475.6L45.9,476.9L47.4,483.9L49.4,490L52.4,495.1L53.9,497L55.9,498.9L58.4,500.8L61.4,502.7L64.4,503.9L68.4,505L70.4,504.9L73.5,504L74.5,503.2L76,501.2L79.5,495.2L82,489.7L84.5,482.7L86,476.7L87.5,466L90,438.3L90.5,433.5L91,431.4L91.5,431.9L92.5,436.9L96,465.2L98.5,478.8L101.5,492.2L102.5,495.6L103.5,497.9L110,507.2L111,507.5L112,507L116,503.6L118,501.2L120,497.6L122.5,489L125,471.5L125.5,469.6L126,469.1L127.5,469L129,469.8L131,472.1L132,472.8L136,472.2L137,471.5L139.5,468L141,466.6L143.5,465.5L146,465.1L146.5,465.2L147.5,466L150,470.5L150.5,469.8L151,459.8L153.5,367.6L154.5,345.6L155,341.3L155.5,342.2L156.1,344.8L157.6,358.5L159.1,383.1L161.1,429.6L162.6,456.5L164.1,472.8L164.6,476.3L165.1,477.8L165.6,475.4L166.1,469L169.1,421L170.1,415.4L170.6,414.2L171.1,414.5L171.6,416.3L173.1,424.9L175.6,436.6L177.6,441.4L178.6,442.6L179.1,442.7L179.6,442.4L181.6,440.1L182.6,439.5L186.1,440.1L189.6,439.9L193.1,440.7L196.6,440.7L199.6,441.7L203.1,442L206.1,443L207.6,443.2L213.6,442.6L217.1,441.1L220.6,441L224.1,439.9L227.6,440L231.1,439.3L234.6,439.8L238.1,439.3L241.7,439.8L245.2,439.3L248.7,439.7L251.7,439.1L255.2,439.5L258.7,439.1L262.2,439.9L265.7,439.9L269.7,440.6L272.7,440.1L276.2,440.3L279.7,439.6L283.2,440L286.2,439.5L286.7,440L287.2,441.4L288.7,448.2L292.2,473.8L293.2,478.8L293.7,479.6L294.7,479.2L295.7,478.2L296.2,475.9L298.7,452.1L300.7,436.6L301.2,434.2L301.7,433.1L302.7,431.9L303.7,431.1L304.2,431.1L305.2,432.4L307.7,439.3L308.7,440.9L309.2,441.1L310.7,440.7L313.2,439.1L314.2,438.8L318.2,439.7L321.7,438.8L325.3,438.8L328.3,438.2L331.8,438.7L335.3,438.3L338.8,438.9L342.3,438.3L345.8,438.7L349.3,437.9L352.8,438.1L356.3,437.3L359.8,437.7L362.8,437.2L366.8,438L370.3,437.8L373.8,438.5L377.3,438.2L380.8,438.7L384.3,438.2L387.8,438.6L390.8,438.2L394.3,438.8L398.3,438.5L401.8,439.1L404.8,438.7L408.4,439.2L411.9,438.5L415.4,438.7L418.9,438L422.4,438.4L425.9,437.9L429.4,438.5L432.9,438.4L436.4,439.2L439.9,439.1L442.9,440L446.9,439.9L450.4,440.7L453.4,440.3L457.4,440.6L460.9,440L463.9,440.4L467.4,439.8L470.9,440.2L474.4,439.6L477.9,440L481.4,439.2L484.9,439.4L488.4,438.6L492,438.9L495,438.5L499,439.2L502,439L505.5,439.8L509.5,439.6L512.5,440.2L516.5,439.7L520,440.2L523,439.8L526.5,440.4L529.5,440.2L531,440.5" fill="none" stroke="#404040" stroke-opacity="0.095" stroke-width="0.9"/>
<path d="M37.9,515.3L40.4,515.3L40.9,515.1L41.4,514.5L41.9,513.2L43.9,476.7L44.4,476.1L45.4,477.8L47.4,486.4L48.9,490.8L51.9,495.7L55.4,499.4L58.4,501.7L61.4,503.5L63.9,504.5L67.9,505.7L69.9,505.7L73,504.8L74,504.1L75.5,502.2L79,496.5L81.5,491.3L84,484.8L85.5,479.4L87.5,466L90,442.1L90.5,439L91,438.5L92,441.5L93,447L95,462.4L97,474.1L99,484.1L101.5,494.5L102.5,497.6L103.5,499.5L106.5,503.3L109,507.3L110,508.3L110.5,508.3L111.5,508L116,504.3L118,501.9L119.5,499.3L121,495L122.5,489.1L124.5,474.6L125,472.3L125.5,471.5L126.5,471.5L128,472.5L129,473.4L131,476.2L132,476.8L136,476.2L137,475.4L139.5,472.1L140.5,471.2L142,470.2L144,469.6L146,469.3L147,469.4L148,470.1L149.5,472.3L150,472.6L150.5,467.1L151,452.5L153.5,365.6L154.5,347.9L155,346.9L155.5,348.7L156.6,355.4L157.6,366.5L158.6,382.6L160.6,428L162.1,455.1L163.1,467.7L164.1,476.5L164.6,478.9L165.1,478.5L165.6,473.6L168.6,425.9L169.6,419.4L170.1,417.7L170.6,417.4L171.1,418.7L175.1,439.5L177.1,444.7L178.1,446.2L178.6,446.4L179.6,445.9L181.6,443.6L182.6,443.2L186.1,443.6L189.6,443.2L193.1,443.9L196.1,443.8L200.1,445.1L203.1,445.4L206.1,446.6L207.6,446.9L213.6,446.2L217.1,444.8L220.6,444.5L224.1,443.2L227.6,443.2L231.1,442.5L234.6,443L238.1,442.7L241.7,443.4L245.2,443L248.7,443.5L251.7,442.9L255.2,443.1L258.7,442.5L262.7,443.2L266.2,443.1L269.7,443.8L272.7,443.4L276.2,443.8L279.7,443.3L283.2,443.8L285.7,443.3L286.2,443.4L287.2,446L288.7,452.9L290.7,468.2L292.2,477.7L293.2,481.5L293.7,481.6L295.2,480.5L295.7,479.1L298.2,455.9L300.7,437.3L301.2,435.8L301.7,435L303.2,433.7L303.7,433.6L304.2,434L304.7,434.8L307.7,443.1L308.2,444L309.2,444.4L310.7,444.2L313.7,442.7L314.7,442.7L317.2,443.6L318.2,443.7L321.7,442.7L325.3,442.6L328.8,441.7L331.8,442L335.8,441.5L338.8,442.1L342.3,441.8L346.3,442.4L349.3,441.8L352.8,442.1L356.3,441.3L359.8,441.4L363.3,440.7L366.8,441.2L370.3,440.9L373.8,441.7L376.8,441.6L380.3,442.4L384.3,442.2L387.3,442.7L391.3,442.2L394.8,442.5L398.3,441.9L401.3,442.3L405.3,441.8L408.4,442.3L411.9,441.9L415.4,442.5L418.9,442.1L422.4,442.5L425.9,441.9L429.4,442.2L432.9,441.7L436.4,442.3L439.9,442.1L442.9,443.1L446.9,443.5L450.4,444.6L453.4,444.4L456.9,444.8L460.9,443.9L464.4,443.9L467.9,442.9L470.9,443.1L474.4,442.5L477.9,443.1L481.4,442.7L484.9,443.3L488.4,442.8L492,443.1L495.5,442.4L499,442.6L502.5,442.1L506,442.7L509.5,442.5L512.5,443.3L516,443.3L520,444.2L523,443.9L527,444.5L529.5,444.1L531,444.1" fill="none" stroke="#404040" stroke-opacity="0.090" stroke-width="0.9"/>
<path d="M37.9,515.3L40.4,515.3L40.9,515L41.4,514.5L41.9,512.9L43.4,488L43.9,483L44.4,483.1L45.4,484.7L46.9,491L48.4,495.5L49.9,498.2L51.4,499.9L57.4,504.8L60.9,506.7L63.9,508L66.4,508.6L68.4,508.8L70.4,508.6L73,507.8L74,507L78.5,500.8L81,496.6L83.5,491.9L85,488.4L86,484.7L87.5,477.1L88,476.1L89,475.1L90,473.2L90.5,473.6L91.5,476.6L92,477.4L92.5,477.3L93.5,476.5L94.5,476.1L95,476.3L95.5,476.9L99,492L102,502.2L103.5,504.7L106.5,507.8L109,511.1L110,511.9L111.5,511.5L116.5,508L119,505.7L120,504.1L121.5,500.1L122.5,496.4L124,486.1L125,481.6L125.5,481.8L126,482.7L129,490.5L130.5,493.7L132,495.6L134,496.5L135,496.7L136,496.3L139.5,491.8L141.5,490.4L144,488.1L145,487.6L146.5,487.2L147,486.6L148.5,483.9L150,481.9L150.5,474.8L153,396.4L154,379L154.5,374.4L155,374.5L156.6,380.2L157.6,388.1L158.6,401.4L160.6,442.9L162.1,466.8L163.6,481.2L164.6,486.3L165.1,485.3L165.6,480.2L168.6,438.2L169.1,435.6L170.1,432.7L170.6,432.7L171.1,434.2L175.1,455.8L176.6,460.1L177.6,461.9L178.1,462.3L178.6,462.4L179.1,462.1L181.1,460.2L182.1,459.7L184.1,459.9L187.1,459.6L190.6,460.4L194.1,460.4L197.6,461.4L201.1,461.5L204.1,462.5L205.6,462.6L208.1,462.4L211.1,462.5L215.1,460.9L218.6,460.7L222.1,459.9L225.6,460.2L229.1,459.7L232.6,460.3L236.1,459.8L239.2,460L242.7,459.2L246.2,459.2L250.2,458.2L253.2,458.5L257.2,458.3L260.2,459.3L263.7,459.7L267.7,461L270.7,460.8L274.2,461.1L277.7,460.1L281.2,459.9L284.7,458.8L285.7,458.8L286.2,459L287.2,461.3L288.7,466.5L292.2,487.4L293.2,490.9L293.7,491L295.2,490.2L295.7,488.6L298.2,466L299.7,454.9L300.7,449.4L301.2,448.3L301.7,447.8L303.2,447.1L303.7,447.3L304.2,447.9L304.7,449L307.7,460L308.2,461.2L308.7,461.7L309.2,461.9L310.2,461.7L312.2,460.6L313.2,460.3L316.7,460.6L319.7,459.8L322.8,459.4L326.8,458.3L329.8,458.5L333.3,458.1L336.8,458.9L340.3,458.8L343.8,459.6L347.3,459.1L350.8,459.4L353.8,458.6L357.8,458.6L361.3,457.8L364.8,458.2L367.8,457.8L371.8,458.5L375.3,458.3L378.3,459L381.8,458.7L385.8,459.3L388.8,458.9L392.3,459.5L396.3,459.2L399.3,459.8L402.8,459.4L406.4,459.8L409.9,459.1L413.4,459.2L416.9,458.4L420.4,458.6L423.9,458L427.4,458.6L430.9,458.5L434.4,459.5L437.9,459.7L440.9,460.7L444.4,460.7L447.9,461.4L451.4,460.9L454.9,461L458.4,459.9L461.9,460L465.4,459.3L468.9,459.9L472.4,459.8L475.9,460.7L479.4,460.4L482.9,460.8L486.4,459.8L490,459.6L493.5,458.5L496.5,458.5L500,457.9L504,458.7L507,458.7L510.5,459.9L514,460.1L517.5,461L521,460.7L524.5,461.1L528,460.4L531,460.7" fill="none" stroke="#404040" stroke-opacity="0.106" stroke-width="0.9"/>
<path d="M37.9,515.3L40.9,515.3L41.4,515L41.9,514.5L42.4,513L43.9,484.8L44.4,477.9L44.9,477.6L45.9,479.3L47.4,486.1L49.4,492.3L51.9,496.2L55.9,500.5L58.4,502.3L62.4,504.7L68.4,506.4L70.4,506.4L73.5,505.4L74.5,504.7L75.5,503.5L78.5,499L81.5,493.3L84,487.7L85.5,483.1L87,475.5L90.5,451.1L91,449.1L91.5,449.1L92,450L93.5,454.7L98.5,481.8L101,492.3L102.5,497.6L104,500.8L107,504.3L109.5,508.1L110.5,509L111,509.1L112,508.7L117,504.8L118.5,503.2L120,500.8L121.5,496.6L123,490.9L124.5,480.2L125.5,475L126,474.7L127.5,475.7L129.5,478L131.5,481.3L132.5,482.1L136,480.9L137,480.3L141.5,474.9L143.5,473.4L144.5,473.1L148.5,473.1L150,474.3L150.5,474.5L151,468L151.5,453.1L153.5,382.3L154.5,360.6L155,354.6L155.5,354L156.1,355.7L157.1,361.8L158.1,372.6L159.1,388.4L161.1,433L162.6,458.8L164.1,475.1L165.1,481L165.6,480.2L166.1,475.1L169.1,428.8L170.1,422.8L170.6,421.1L171.1,421L171.6,422.4L173.1,431.2L175.6,443.3L177.6,447.9L178.6,449.3L179.1,449.5L180.1,449.2L182.1,447.2L183.6,446.7L185.1,446.8L187.6,447.6L191.1,447.7L194.6,448.7L198.1,448.8L201.6,449.8L205.1,449.8L208.6,450.5L212.1,449.5L215.1,449.2L219.1,448L222.6,448.2L226.1,447.4L229.6,447.7L232.6,447.2L236.1,447.4L239.7,446.7L243.2,446.9L246.7,446.3L250.2,446.7L253.7,446.4L257.2,447.1L260.2,447L264.7,448.1L267.7,447.8L271.2,448.1L274.7,447.2L278.2,447.2L281.2,446.6L286.7,447.2L287.7,449.6L289.2,456.3L292.2,477.7L293.2,483.1L293.7,484.3L294.7,484L295.7,483.2L296.2,481.6L298.7,458.8L300.7,443.3L301.7,439.1L302.7,437.7L303.7,437.1L304.2,437.1L304.7,437.6L305.2,438.5L307.7,446L308.7,447.8L309.2,448L310.7,447.7L313.7,446.5L315.2,446.2L319.2,447.1L323.3,446.4L326.8,446.9L330.3,446.5L333.8,446.9L336.8,446.2L340.3,446.4L343.8,445.6L347.3,445.8L351.3,445.1L354.3,445.6L358.3,445.2L361.3,445.9L364.8,445.5L368.3,446.1L371.8,445.6L375.3,446L378.8,445.4L382.3,445.9L385.8,445.6L388.8,446.4L392.8,446.3L396.3,447.1L399.8,446.7L403.3,447.1L406.9,446.3L410.4,446.4L413.4,445.6L416.9,445.9L420.4,445.5L423.9,446.3L427.9,446.2L430.9,446.9L434.4,446.6L437.9,447.1L441.4,446.7L444.9,447.4L448.4,447.2L451.9,448.1L455.4,447.9L458.9,448.6L462.4,448.1L465.9,448.4L468.9,447.7L472.4,447.7L475.9,446.8L479.4,447L483.4,446.2L486.4,446.6L490,446.2L494,446.9L497,446.6L500.5,447.2L504,446.8L507.5,447.3L511,446.7L514.5,447.2L518,446.8L521.5,447.6L525,447.6L528.5,448.5L531,448.4" fill="none" stroke="#404040" stroke-opacity="0.118" stroke-width="0.9"/>
<path d="M37.9,515.3L40.4,515.2L40.9,514.9L41.4,514.3L41.9,511.5L43.4,481.2L43.9,476.4L44.4,476.8L45.4,478.9L46.9,486L48.9,492L51.9,496.7L55.4,500.3L58.4,502.5L61.4,504.1L63.9,505L67.9,506L69.9,505.8L73,504.8L75,502.8L78.5,497.2L81,492.3L83.5,486.3L85,481.5L86.5,473.4L90,446.2L90.5,444.6L91,445.1L91.5,446.5L92.5,450.5L95,466L97.5,479.3L101.5,496L102.5,498.8L103.5,500.5L106.5,504L109,507.9L110,508.6L111.5,508.1L116,504.3L118,502L119.5,499.3L122,491.2L124,477.6L125,472.9L125.5,472.7L126,472.8L127,473.6L128.5,475.3L131,479.3L132,479.8L136,479.3L137,478.4L140,474.4L141.5,473.1L143,472.2L147,471.3L148,471.6L149.5,473.3L150,472.7L150.5,463.3L153,374.9L154,353.5L154.5,348.8L155,349.3L155.5,351.4L157.1,363.7L158.6,387.3L160.6,432.7L162.1,458.8L163.6,474.8L164.1,478.3L164.6,479.9L165.1,477.8L165.6,471.7L168.6,425.6L169.6,420.3L170.1,419.1L170.6,419.5L171.1,421.4L172.6,430.4L175.1,442.5L177.1,447.4L178.1,448.7L178.6,448.9L179.6,448.2L181.1,446.4L182.1,445.7L186.1,445.9L189.6,445.2L193.1,445.6L196.6,445.3L200.1,446.2L203.1,446.5L207.1,448.1L210.6,448L213.1,448.2L214.6,448L217.1,447.2L221.1,447L224.1,445.9L227.6,445.6L231.1,444.5L234.6,444.5L238.1,443.7L241.7,444.2L245.2,444L248.7,444.8L252.2,444.8L255.7,445.5L259.2,445.3L262.7,446.1L266.2,445.6L269.2,445.8L272.7,444.8L276.2,444.8L279.7,444.2L283.2,444.8L285.7,444.6L286.2,445L286.7,446.3L288.2,452.6L291.7,477.3L292.7,482.3L293.2,483.1L294.2,482.7L295.2,481.8L295.7,479.6L298.2,456.2L300.2,440.9L300.7,438.5L301.2,437.4L302.2,436.1L303.2,435.5L303.7,435.6L304.2,436.1L305.2,438.4L307.2,444.2L308.2,445.8L308.7,446L310.2,445.7L313.2,444L314.2,443.8L317.7,444.8L321.7,444.1L325.3,444.5L328.8,444.1L332.3,444.6L335.8,444.1L339.3,444.4L342.3,443.7L345.8,443.8L349.3,443L352.8,443.3L356.3,442.7L359.8,443.3L363.3,443L366.8,443.8L370.3,443.5L373.8,444.2L377.3,443.7L380.8,444.1L384.3,443.4L387.8,443.9L391.3,443.4L394.3,444.1L397.8,443.9L401.3,444.7L404.8,444.4L408.4,444.9L411.9,444.3L415.4,444.5L418.9,443.7L422.4,443.8L425.9,443.1L429.4,443.6L432.9,443.3L436.4,444.2L439.9,444.4L443.4,445.7L446.9,445.9L449.4,446.8L450.9,446.9L453.9,446.6L457.4,446.7L460.4,445.7L463.9,445.5L467.9,444.3L470.9,444.5L474.4,444L477.9,444.7L481.9,444.7L484.9,445.4L488.4,445.1L492,445.6L495.5,444.9L499,444.9L502.5,444L506,444.2L509.5,443.6L513,444.3L516.5,444.3L519.5,445.4L523,445.7L527,447L531,447.1" fill="none" stroke="#404040" stroke-opacity="0.099" stroke-width="0.9"/>
<path d="M37.9,515.3L40.9,515.2L41.9,514.1L42.4,510.3L43.9,479.1L44.4,475.7L45.4,477L45.9,478.4L47.4,485.2L49.4,491L52.4,495.9L56.4,500L58.9,501.9L61.4,503.3L64.9,504.8L67.9,505.5L70.4,505.5L73,504.8L74,504.1L75.5,502.3L78.5,497.5L81,492.6L84,485.2L85.5,480.2L87,471.8L90,444.4L90.5,440.6L91,439.4L91.5,440.3L92,442.4L93,447.7L95.5,464.9L98,478.5L101.5,493.7L102.5,496.9L103.5,499L107,503.5L109,506.6L110,507.7L111,507.8L112,507.3L116,504L118.5,501L120,498.4L121,495.7L122.5,490.2L124.5,476.1L125,473.3L125.5,471.8L126,471.7L127,472.3L131,476.8L132,477.5L132.5,477.6L135,477.3L136,476.9L137,475.8L139,472.3L140,471L143.5,468.4L145,467.6L146,467.4L147,467.7L148,468.7L150,471.9L150.5,470.3L151,459.2L153.5,369.5L154.5,349.2L155,346L155.5,347.2L156.1,350L157.6,363.3L159.1,387.5L161.1,433.5L162.6,459.6L164.1,475L164.6,478.2L165.1,479.3L165.6,476.4L166.1,469.7L168.6,428.7L169.6,420.5L170.1,418.3L170.6,417.2L171.1,417.6L171.6,419.5L174.6,435.3L175.6,439.5L177.1,443.3L178.1,444.9L178.6,445.2L179.6,444.8L181.1,443.2L182.1,442.5L185.1,443.2L188.6,443.4L192.1,444.4L195.6,444.4L199.1,444.9L202.6,444.5L206.1,445.2L209.1,444.7L212.6,444.7L216.1,443.9L219.6,444.4L223.1,444.1L227.1,444.5L230.1,443.7L233.6,443.6L237.1,442.3L240.7,442L244.2,441.1L247.7,441.6L251.2,441.5L254.2,442.5L257.7,442.7L260.7,443.6L262.2,443.9L264.7,443.7L268.2,444L271.7,443L275.2,442.9L278.7,442.2L282.2,442.8L286.2,442.7L286.7,443.4L287.2,444.9L288.7,451.7L292.2,476.3L293.2,481.1L293.7,481.8L294.7,481.4L295.7,480.2L296.2,477.6L298.2,457.8L300.7,438.2L301.2,436.1L301.7,435.1L302.7,433.8L303.7,433L304.2,432.9L305.2,434.2L307.7,441.5L308.7,443.2L309.2,443.4L310.2,443.2L312.7,441.8L313.7,441.6L317.7,443.4L320.7,443.2L324.3,443.5L327.8,442.6L330.8,442.5L334.8,441L337.8,440.8L341.8,439.9L344.8,440.5L348.3,440.4L351.8,441.5L355.3,441.6L358.8,442.3L362.3,441.6L365.8,441.7L369.3,440.7L372.8,440.9L376.3,440.3L379.8,441.1L383.3,441.1L386.8,442.1L390.3,441.9L393.3,442.5L397.3,441.8L400.8,442L404.3,441.3L407.4,441.7L410.9,441.4L414.4,442.2L417.9,442L421.4,442.6L424.9,441.9L428.4,442L431.9,440.9L435.4,441.1L438.4,440.6L439.4,440.8L442.4,441.9L445.4,442.4L449.4,444.2L452.4,444.5L455.9,445.4L459.9,444.5L462.9,444.2L466.4,442.7L469.9,442.4L473.4,441.4L476.9,442L480.4,441.8L483.9,442.7L487.4,442.5L490.5,442.9L494.5,442.2L498,442.4L501.5,441.8L505,442.3L508.5,442.2L511.5,443L515,443L519,443.8L522,443.4L526,443.6L529,442.9L531,443.1" fill="none" stroke="#404040" stroke-opacity="0.121" stroke-width="0.9"/>
<path d="M37.9,515.3L40.9,515.2L41.9,514L42.4,509.7L43.9,482.2L44.4,479.8L45.4,481.1L45.9,482.5L47.4,489.1L48.9,493.4L51.4,497.3L54.9,500.8L57.9,503.1L60.4,504.7L62.9,505.8L66.9,507.2L68.9,507.5L70.9,507.2L73.5,506.4L74.5,505.5L80,497.4L83,491.6L84.5,488L86,482.9L87.5,474.5L89,468.4L90.5,460L91,459.4L93,462.4L94.5,466.7L96,472.7L99,487L101,495.1L102.5,499.8L103.5,501.7L107,505.9L109,509L110,510.1L110.5,510.2L112,509.7L117,506.1L119,503.9L120,502.3L121,499.8L122.5,494.9L124.5,481.4L125,478.9L125.5,477.9L126,478.3L127,479.7L130.5,486.2L131.5,487.4L132.5,487.8L135.5,487.6L136.5,487.1L139.5,482.7L141,481.3L142.5,480.3L144.5,479.3L146.5,478.7L148.5,477.5L150,477.7L150.5,475.5L151,464L153.5,382.6L154.5,364.7L155,362.1L155.5,363.1L156.1,365.3L157.1,371.4L157.6,376.2L159.1,398.5L160.6,432L162.6,465.5L164.1,479.6L164.6,482.5L165.1,483.4L165.6,480.1L166.1,473.5L168.6,435.2L169.6,428.3L170.1,426.5L170.6,425.8L171.1,426.6L171.6,428.7L175.1,447.4L177.1,453.1L178.1,454.8L178.6,455.2L179.6,454.8L181.6,452.5L182.6,452.1L185.6,452.7L189.1,452.6L192.6,453.5L196.1,453.6L199.1,454.5L202.6,454.7L205.6,455.7L207.1,455.9L213.1,455.3L216.6,453.8L220.1,453.5L223.6,452.4L227.1,452.4L230.6,451.7L234.1,452.1L237.6,451.7L241.2,452.3L244.7,452.1L248.2,452.7L251.7,452.4L255.2,452.9L258.7,452.4L262.2,453.1L265.7,452.6L269.2,452.9L272.2,452.1L276.2,452.1L279.2,451.4L282.7,451.9L286.2,451.7L286.7,452.3L287.2,453.6L288.7,459.6L292.2,482.4L293.2,486.8L293.7,487.4L295.2,486.8L295.7,486L296.7,479.4L298.2,464.2L300.7,445.7L301.2,443.8L301.7,443L303.2,441.9L304.2,442.1L304.7,442.9L308.2,453.2L308.7,453.9L309.7,454.2L310.7,454L313.7,452.1L314.7,452L317.7,452.7L321.2,451.7L324.8,451.6L328.3,450.9L331.8,451.3L335.3,450.8L338.8,451.5L342.3,451.2L345.8,451.8L349.3,451.4L352.3,451.9L355.8,451.3L359.3,451.6L362.8,450.9L366.3,451.2L369.8,450.6L373.3,451.1L376.8,450.6L380.3,451.2L383.8,450.9L387.3,451.7L390.3,451.4L393.8,452.1L397.8,451.9L400.8,452.4L404.8,451.8L408.4,452.1L411.9,451.4L414.9,451.8L418.9,451.2L421.9,451.7L425.4,451.3L428.9,451.9L432.4,451.5L435.9,452.2L439.4,451.9L442.9,452.7L445.9,452.5L449.9,453.4L453.4,453.1L456.9,453.7L460.4,453.1L463.9,453.4L467.4,452.8L470.4,453.2L473.9,452.6L477.4,453.1L480.9,452.5L484.4,452.7L487.9,452L491.5,452.2L495,451.4L498.5,451.7L502,451.2L505.5,451.7L509,451.5L512.5,452.2L516,452.2L519.5,453.1L523,453.2L526,454L529.5,453.9L531,454.1" fill="none" stroke="#404040" stroke-opacity="0.123" stroke-width="0.9"/>
<path d="M37.9,515.3L41.4,515.2L42.4,514L42.9,508.9L44.4,478.7L44.9,476.9L45.9,478.4L46.4,479.9L47.9,486.8L49.4,491.4L50.9,494.2L52.4,496.4L55.9,500.1L58.9,502.4L61.4,503.8L64.4,505.1L67.9,506.1L69.9,506.1L73,505.4L74,505L75.5,503.4L79,498L81.5,493.2L84,487.3L86,481L87,475.8L88,468.8L90.5,447.9L91,444.8L91.5,444.2L92,445.2L93.5,451.6L98,477.6L99.5,484.9L102,495.2L103,498.3L104,500.2L107.5,504.6L109.5,507.8L110.5,508.8L111.5,508.8L112.5,508.3L116.5,505L118.5,502.7L120.5,499.3L123,490.9L125,476.5L125.5,473.7L126,472.6L127,472.8L128,473.7L132,478.7L132.5,479.1L136,479.5L136.5,479.4L137.5,478.7L139.5,476L140.5,475L145,473.1L147,472.7L148.5,472.9L150.5,474.6L151,472.1L151.5,459.5L154,373.3L155,354.2L155.5,351.9L156.1,353.1L157.1,358.8L158.1,368.1L159.6,391.9L161.1,426.9L162.6,454.3L164.1,472.2L165.1,479.3L165.6,479.9L166.1,476.1L166.6,469L169.1,428.6L170.1,421.4L170.6,419.5L171.1,418.8L171.6,419.6L172.1,421.8L175.6,440.7L177.6,446.6L178.6,448.4L179.1,448.8L180.1,448.5L181.6,446.9L182.6,446.3L185.6,447.1L189.1,447L192.6,447.6L196.1,447.1L199.6,447.5L203.1,447.2L207.1,448L210.1,447.6L213.6,447.7L217.1,446.8L220.6,447.2L224.1,446.7L227.1,447L231.1,446.4L234.1,446.6L238.1,445.7L241.7,445.7L244.7,444.8L248.2,445L251.7,444.4L255.2,444.9L258.7,444.7L262.2,445.9L265.7,446.1L269.2,447L272.7,446.6L276.2,446.9L279.7,446.1L283.2,446.3L286.7,445.5L287.2,446.3L287.7,447.7L289.2,454.1L292.7,478.2L293.7,482.6L294.2,482.9L295.7,482.1L296.2,481.2L296.7,478.4L298.7,458.5L301.2,439.6L301.7,437.8L302.2,437L303.2,436L304.2,435.5L304.7,435.6L305.7,437.4L308.7,446.2L309.2,446.8L310.2,447L314.2,445.4L317.7,446.6L318.7,446.7L321.7,446.1L325.3,446L328.3,445.1L331.8,445L335.3,444L338.8,444.1L342.3,443.3L345.8,443.8L349.3,443.5L352.3,444.3L356.3,444.3L359.8,445.1L363.3,444.8L366.3,445.2L370.3,444.4L373.8,444.5L376.8,443.7L380.3,443.8L383.8,443.2L387.3,443.9L390.8,444L394.3,445.1L397.8,445.3L400.8,446.2L401.8,446.3L404.8,445.9L408.4,446.2L411.9,445.1L415.4,444.9L418.9,443.8L422.4,443.9L425.9,443.3L429.4,444L432.9,444L435.9,445.1L439.9,445.5L442.9,446.6L446.4,446.8L449.9,447.7L453.4,447.2L456.9,447.3L460.4,446.2L463.9,446.1L467.4,445.1L470.9,445.3L473.9,444.8L477.9,445.6L480.9,445.3L484.4,446L488.4,445.7L491.5,446.2L495.5,445.5L499,445.7L502.5,445L505.5,445.3L509,444.7L512.5,445.2L516,444.9L519.5,445.8L523,445.8L526.5,446.9L529.5,446.9L531,447.2" fill="none" stroke="#404040" stroke-opacity="0.087" stroke-width="0.9"/>
<path d="M37.9,515.3L40.9,515.3L41.4,515L41.9,514.3L42.4,512.3L43.9,479.7L44.4,474L44.9,474.4L45.9,476.2L48.4,486.7L50.4,491.7L51.9,494.2L53.4,496.1L55.9,498.7L58.4,500.8L61.4,502.6L64.9,504.2L67.9,504.9L70.4,505L72.5,504.5L74,503.7L75.5,501.9L78,497.9L80.5,493L83,486.6L84.5,482.2L86,476.3L87.5,465.2L90,434.8L90.5,429.8L91,427.6L91.5,428.6L92.5,434.6L96,464.2L98.5,478.5L101,490.1L102.5,495.6L103.5,497.9L109,506.1L110,507.3L111,507.5L112,507.1L115,504.5L118,500.9L120,497.3L121,494.4L122.5,488.5L125,470.5L125.5,468.4L126,467.8L127,467.7L129,468.2L130,468.9L131.5,470.6L132.5,471.4L134.5,471.9L135.5,471.9L136.5,471.4L139.5,468L142,466.8L144,465.5L145.5,465.2L146.5,465.5L147,465.9L150,470.6L150.5,470.5L151,461.8L151.5,445L153.5,368.8L154.5,346.5L155,341.4L155.5,341.9L156.1,344.3L157.6,356.7L159.1,380.6L161.1,427.9L162.6,455.2L164.1,471.9L164.6,475.6L165.1,477.3L165.6,475.6L166.1,469.5L169.1,421.1L170.1,415.1L170.6,413.6L171.1,413.5L171.6,415L175.6,435.8L177.1,439.6L178.1,441.2L178.6,441.5L179.6,441.2L182.1,439L187.1,439L191.1,440.2L194.6,440.5L198.1,441.8L201.1,441.9L204.1,442.9L205.6,443L211.1,442.3L215.6,440.1L218.6,439.5L222.1,438.5L225.6,438.9L229.1,438.8L232.6,439.9L236.1,440L239.7,440.7L243.2,440L246.7,439.9L250.2,438.5L253.7,438.2L257.2,437.3L260.7,438L263.7,438.2L267.7,439.6L270.7,439.7L274.2,440.5L277.7,440L281.2,440.3L284.7,439.5L286.2,439.5L286.7,440L287.2,441.4L288.7,447.8L292.2,472.9L293.2,478.4L293.7,479.4L294.7,479.1L295.7,478L296.2,475.9L298.7,451.8L300.2,439.9L301.2,434.1L301.7,432.9L302.7,431.3L303.7,430.3L304.2,430L304.7,430.3L305.2,431.1L308.2,439.6L308.7,440.3L309.2,440.4L312.2,438.4L313.2,438L316.7,438.6L319.7,438.4L323.3,438.7L326.3,438.3L329.8,439L333.3,438.7L336.8,439.1L340.3,438.3L343.8,438.1L347.3,436.8L350.8,436.5L354.3,435.6L357.8,436.2L361.3,436.3L364.8,437.7L368.3,438.1L370.8,439L372.3,439.2L375.3,438.9L378.8,439L382.3,437.8L385.3,437.7L389.3,436.6L392.8,437L395.8,436.8L399.3,437.9L402.8,438.1L406.9,439.1L409.9,438.8L413.4,439.2L416.9,438.3L420.4,438.4L423.9,437.5L427.4,437.9L430.9,437.4L433.9,438.1L437.9,437.9L441.4,438.7L444.9,438.7L448.4,439.5L451.4,439.4L454.9,440.2L458.4,440L462.4,440.7L465.4,440.3L468.9,440.6L472.4,439.7L475.9,439.6L479.4,438.3L482.9,438L485.4,437.2L486.9,437L490,437.4L493.5,437.3L497,438.6L500,439L503,440.1L504.5,440.4L507.5,440.2L511,440.6L514,439.7L517.5,439.5L521.5,438.4L524.5,438.7L528,438.5L531,439.5" fill="none" stroke="#404040" stroke-opacity="0.123" stroke-width="0.9"/>
<path d="M37.9,515.3L41.4,515.1L42.4,513.7L42.9,507.6L44.4,477.3L44.9,476L45.9,477.4L47.9,485.9L48.9,489.3L49.9,491.7L52.4,495.7L56.9,500.3L58.9,501.7L63.9,504.3L66.9,505.1L69.4,505.6L71.4,505.4L73.5,504.7L74.5,503.9L76,502.1L79,497.4L81,493.4L84.5,484.9L86,479.7L87.5,470L90.5,441.4L91,438.6L91.5,438.6L92.5,442.3L93.5,447.5L96,465L98,476.2L99.5,483.7L102,493.9L103,497L104,499.1L107.5,503.8L109.5,506.9L110.5,508L111.5,508.1L112.5,507.6L116,504.6L119,501.3L120.5,498.5L121.5,495.4L123,489.5L125,475.1L125.5,472.6L126,471.7L127,471.9L129.5,473.4L132,476.5L132.5,476.9L133.5,477.1L134.5,477L136,476.3L139.5,472.5L143.5,469.2L144.5,468.6L145.5,468.6L146.5,469L148.5,470.4L150,472.2L150.5,472.4L151,468.6L151.5,454.8L154,367.6L155,349.3L155.5,347.7L156.6,351.8L157.6,359.3L158.6,372.7L159.6,390.7L161.1,426.8L163.1,461.6L164.6,475.9L165.1,478.5L165.6,478.6L166.6,467L169.1,426.7L170.1,419.5L170.6,417.5L171.1,416.7L171.6,417.6L172.1,419.7L175.6,438.8L176.1,440.4L177.6,443.7L178.6,444.9L179.1,445.1L180.1,444.7L182.6,442.9L186.1,442.5L189.6,443.2L193.1,443.1L196.6,444L200.1,444.1L204.1,445.3L207.1,445.5L210.1,446.1L211.6,445.9L214.1,445L217.6,444.7L221.1,443.8L224.6,443.8L228.1,443L231.6,443.3L235.1,442.7L238.6,443.1L242.2,442.6L245.7,443.1L249.2,442.6L252.7,443.1L256.2,442.6L259.7,443.2L263.2,443L266.7,443.7L269.7,443.2L273.2,443.5L276.7,442.7L280.7,442.8L283.7,442.3L286.7,442.9L287.7,445.4L289.2,451.8L292.7,477.1L293.7,481.4L294.2,481.6L295.7,480.4L296.2,479.2L296.7,476.1L298.7,456.2L301.2,437.8L301.7,436L302.2,435.1L303.2,433.6L304.2,432.9L304.7,433.1L305.2,433.8L308.2,442.7L308.7,443.6L309.2,443.9L312.2,442.4L313.7,442.1L321.7,442.7L325.3,441.9L328.8,442.3L332.8,441.7L335.8,442.2L339.3,441.7L342.8,442.1L346.3,441.6L349.8,442L353.3,441.3L356.8,441.7L359.8,441.1L363.8,441.5L367.3,440.9L370.8,441.5L374.3,441L377.8,441.6L381.3,441.2L384.8,441.8L387.8,441.4L391.3,442L394.8,441.5L398.3,442.1L401.8,441.6L405.3,441.9L408.9,441.3L412.4,441.6L415.9,441L419.4,441.5L422.9,441.2L426.4,441.8L429.9,441.6L433.4,442.3L436.9,442.1L439.9,442.8L443.4,442.7L446.9,443.7L450.4,443.7L454.4,444.4L457.4,444L460.9,444.3L464.4,443.6L467.9,443.8L471.4,443L474.9,443.2L478.4,442.5L481.9,442.8L485.4,442.1L488.9,442.4L492,441.8L496,442.2L499.5,441.7L503,442.3L506.5,441.9L510,442.5L513.5,442.3L517,442.9L520,442.7L523.5,443.5L527.5,443.4L531,444.1" fill="none" stroke="#404040" stroke-opacity="0.090" stroke-width="0.9"/>
<path d="M37.9,515.3L40.9,515.1L41.9,513.9L42.4,508.6L43.9,480.2L44.4,478.7L45.4,480L45.9,481.5L47.4,488.3L48.9,492.9L51.4,496.7L55.9,501.2L57.9,502.6L62.9,505.3L68.4,506.8L70.4,506.8L73,505.9L74,505.3L75,504.2L78,499.9L80,496.3L83.5,489L85,484.8L86,480.7L90.5,452.7L91,452.6L91.5,453.4L93.5,458.7L98.5,484.1L102,497.7L103,500.2L104,501.9L107,505.4L109,508.5L110,509.5L111,509.6L112,509.1L116.5,505.5L118.5,503.5L120,500.9L122.5,492.5L124.5,478.7L125,476.4L125.5,475.6L126.5,476.3L129,479.2L131.5,483.3L132,483.8L133,484.1L134,483.9L136,483.1L142.5,476.8L143.5,476.1L144.5,475.9L146.5,476.2L148.5,475.4L150,475.9L150.5,472.9L151,460L153.5,377.2L154.5,359.3L155,357.2L155.5,358.2L156.6,363.2L157.6,372.1L159.1,396.2L160.6,431L162.1,457.4L163.1,469.9L164.1,478.4L164.6,481.2L165.1,481.7L166.1,471L168.6,432.3L169.6,425.4L170.1,423.5L170.6,422.7L171.1,423.6L171.6,425.9L175.1,445.4L177.1,450.2L178.1,451.6L178.6,451.9L179.6,451.7L182.1,449.6L185.1,448.9L188.6,449.6L192.1,449.4L195.6,450.4L199.1,450.6L202.6,452L205.6,452.2L209.1,453L210.1,452.9L213.1,451.8L216.1,451.3L219.6,450L223.1,449.8L226.6,448.9L230.1,449.2L233.6,448.8L237.1,449.4L240.7,449.1L244.2,449.5L247.7,448.8L251.2,449.1L254.7,448.4L258.2,448.8L261.2,448.6L265.2,449.7L268.2,449.6L271.7,450.2L275.2,449.6L279.2,449.8L282.2,449.1L286.2,449.3L287.2,451.2L288.7,456.8L292.2,480.7L293.2,485.1L293.7,485.3L295.2,484.3L295.7,483.2L296.2,480.3L298.2,461L300.7,442.8L301.2,440.9L301.7,440.1L303.2,438.6L303.7,438.5L304.2,438.9L304.7,439.8L307.2,448L308.2,450.2L308.7,450.6L313.7,449.2L316.2,449L320.2,449.2L324.3,448.1L327.3,448.4L331.3,448L334.3,448.6L337.8,448.3L341.3,448.9L344.8,448.2L348.3,448.4L351.8,447.5L355.3,447.6L358.8,446.9L362.3,447.4L365.8,447.2L369.3,448L372.8,447.9L376.3,448.6L379.3,448.2L382.8,448.6L386.3,448L389.8,448.4L393.3,447.9L396.8,448.6L400.8,448.4L403.8,449.1L407.4,448.6L410.9,449L414.4,448.2L417.9,448.4L421.4,447.6L424.9,448.1L428.4,447.7L431.9,448.5L435.4,448.4L438.9,449.3L442.4,449.3L445.4,450.1L449.4,449.9L452.4,450.5L456.4,449.9L459.9,450.2L462.9,449.6L466.4,450L469.9,449.5L473.4,449.9L476.9,449.3L480.4,449.5L483.9,448.7L487.4,448.8L491,448.1L494.5,448.5L498,448.2L501,449L505,448.9L508.5,449.7L511.5,449.3L515,449.8L518.5,449.2L522,449.7L525.5,449.3L529,450.1L531,450.1" fill="none" stroke="#404040" stroke-opacity="0.095" stroke-width="0.9"/>
<path d="M37.9,515.3L40.4,515.2L40.9,514.9L41.4,514.3L41.9,511.9L43.4,481.1L43.9,475.6L44.4,475.9L45.4,477.9L46.9,484.9L48.9,491L51.9,495.8L55.4,499.6L57.9,501.5L61.4,503.5L63.4,504.3L67.9,505.6L69.9,505.5L73,504.6L74,503.8L75,502.6L78,497.9L81,492.1L83.5,486.1L85,481.1L86,476.2L87,469.3L90,443.2L90.5,441.2L91,441.4L91.5,442.6L92.5,446.8L95,464.1L96.5,472.9L98.5,482.9L101.5,495.2L102.5,498.1L103.5,499.9L106.5,503.5L109,507.5L110,508.2L111.5,507.8L116,504L118,501.5L119.5,498.8L122,490.4L124,476.6L125,471.6L125.5,471.2L126,471.2L127.5,471.7L129,472.9L131,475.7L132,476.2L136,475.1L137,474.3L139,471.7L140.5,470.3L142,469.2L143,468.9L146,469L147,469.2L148,469.9L149.5,472.3L150,472L151,446.9L153,374.3L154,352.5L154.5,347.5L155,347.8L155.5,350L157.1,362.3L158.6,386.1L160.6,431.7L162.1,457.8L163.6,474L164.1,477.6L164.6,479.3L165.1,477.5L165.6,471.5L168.6,424.4L169.6,418.7L170.1,417.3L170.6,417.5L171.1,419.3L172.6,428.2L175.1,440.1L177.1,444.8L178.1,446.2L178.6,446.3L179.6,445.9L181.6,443.7L182.6,443.4L186.6,444.2L189.6,444L193.1,444.7L196.6,444.4L200.6,445.2L203.6,445L207.1,445.8L211.1,444.9L214.1,444.6L217.6,443.4L221.1,443.5L224.6,442.7L228.1,443.1L231.6,442.8L235.1,443.4L238.6,443L242.2,443.6L245.2,443.1L249.2,443.5L252.2,443L255.7,443.3L259.2,443L262.7,443.7L266.2,443.6L269.7,444.1L273.2,443.4L276.7,443.7L280.2,443L283.7,443.4L285.7,443L286.2,443.3L286.7,444.5L288.2,450.7L291.7,475.6L292.7,480.7L293.2,481.5L294.2,481.1L295.2,480L295.7,477.9L298.2,454.4L299.7,442.2L300.7,436.3L301.7,434.3L303.2,433L303.7,433L304.2,433.5L305.2,435.7L307.2,441.5L308.2,443.1L308.7,443.3L310.2,443L313.7,441.7L315.2,441.9L318.2,443.1L322.2,442.6L325.3,443.1L328.8,442.7L332.3,443.2L335.8,442.6L339.8,442.8L342.8,442.1L346.3,442.3L349.8,441.4L353.3,441.6L356.8,440.9L360.3,441.3L363.8,440.8L367.3,441.3L370.8,441L374.3,441.6L377.8,441.2L381.3,441.7L384.8,441.2L387.8,441.7L391.3,441.3L394.8,441.9L398.3,441.5L401.8,442.1L405.3,441.8L408.9,442.4L412.4,442.1L415.9,442.8L419.4,442.4L422.9,443.1L426.4,442.6L429.9,443.1L433.4,442.5L436.9,442.9L440.4,442.4L443.4,443L446.9,442.8L450.4,443.5L453.9,443.3L457.4,443.8L460.9,443.3L464.4,443.6L467.9,442.9L471.4,443.2L474.9,442.5L478.4,442.8L481.9,442.2L485.4,442.5L488.9,442L492.5,442.5L496,442.3L499,443L502.5,442.9L506,443.7L509.5,443.5L513,444.2L516.5,443.9L520.5,444.4L523.5,443.9L527,444.3L531,443.7" fill="none" stroke="#404040" stroke-opacity="0.107" stroke-width="0.9"/>
<path d="M37.9,515.3L40.4,515.1L41.4,513.6L41.9,507.6L43.4,477L43.9,475.3L44.9,476.6L46.9,485.3L48.9,491.3L50.4,494L51.9,496.1L54.4,498.9L56.4,500.7L58.4,502.1L62.9,504.4L65.9,505.2L68.4,505.5L70.4,505.3L72.5,504.5L74,503.2L75.5,501.1L78,497.1L80.5,491.9L83.5,484.4L85,479.1L87,465.9L89.5,441L90,437.7L90.5,437.1L91.5,440.2L92.5,445.4L95,464.2L97,476.3L98.5,483.9L100.5,492.3L102,497.2L103,499.3L106.5,503.9L108.5,507L109.5,508L110.5,508L111.5,507.5L114.5,504.9L117,502.2L119,499.1L120.5,494.7L122,488.6L124,473.9L124.5,471.5L125,470.5L126,470.6L128.5,471.5L131.5,475L133,475.4L134.5,475.1L135.5,474.7L138.5,471.8L143.5,468.7L145,468.9L147.5,470.2L149.5,472.3L150,468.4L150.5,454.8L153,367.8L154,348.9L154.5,346.9L155,348L156.1,353.6L157.1,363.6L158.6,389.3L160.1,425.4L161.6,453L162.6,466L163.6,474.9L164.1,477.6L164.6,477.8L165.6,466.2L168.1,425.5L169.1,418.1L169.6,416L170.1,415.1L170.6,416L171.1,418.2L174.6,437.7L176.6,442.8L177.6,444.2L178.1,444.5L179.1,444.3L181.6,443L185.1,443.1L189.1,444.1L192.1,443.8L195.6,444.3L199.6,443.7L202.6,444.3L206.1,444L209.6,444.3L213.1,443.2L216.6,443.3L220.1,442.8L223.6,443.3L227.1,442.9L230.6,443.4L234.1,442.7L237.6,442.8L240.7,441.8L244.7,441.7L247.7,440.8L251.7,441L254.7,440.6L258.7,441.5L261.7,441.8L265.7,443.1L268.7,443.1L271.7,443.6L273.2,443.5L275.7,442.9L279.2,443L282.7,442.1L285.7,442.3L286.7,444.6L288.2,450.9L291.7,476.3L292.7,480.7L293.2,480.9L294.7,479.7L295.2,478.4L296.2,470.7L297.7,455.4L300.2,437.1L300.7,435.3L301.2,434.4L302.2,433.1L303.2,432.4L303.7,432.6L304.2,433.4L307.2,442.6L307.7,443.4L308.2,443.8L311.7,442.3L320.2,442.6L324.3,441.4L327.8,441.3L331.8,440.3L334.8,440.5L338.3,439.9L341.8,440.5L345.3,440.3L348.8,441L352.3,440.7L355.8,441.2L359.3,440.6L362.8,440.9L366.3,440.1L369.8,440.3L373.3,439.7L376.8,440.2L380.3,439.9L383.3,440.7L387.3,440.8L390.3,441.7L393.8,441.6L397.3,442.3L400.8,441.7L404.3,441.8L407.9,440.8L411.4,440.8L414.9,439.9L418.4,440.3L421.4,440L425.4,440.9L428.9,440.9L432.4,441.9L435.4,441.8L438.9,442.6L442.4,442.3L446.4,443L449.4,442.5L453.4,442.8L456.9,442.1L459.9,442.4L463.4,441.9L466.9,442.4L470.4,442.1L473.9,442.8L477.4,442.5L480.9,442.9L484.4,442.1L487.9,442.1L491.5,441.1L495,441.1L498.5,440.4L501.5,440.8L505.5,440.7L508.5,441.7L512.5,442L515.5,443L519,443.1L522.5,444L526,443.6L529.5,444L531,443.7" fill="none" stroke="#404040" stroke-opacity="0.087" stroke-width="0.9"/>
<path d="M37.9,515.3L40.9,515.1L41.9,513.9L43.9,483.5L44.4,482.3L45.4,483.5L45.9,484.9L47.4,491.2L48.9,495.4L49.9,497L51.4,498.8L57.4,503.9L62.9,506.8L64.9,507.6L67.9,508.2L69.9,508.3L71.4,508L73.5,507.2L75.5,504.9L79.5,499.2L83.5,491.7L85.5,486.6L87.5,476.6L88,475L89,472.9L90,469.4L90.5,468.6L92,471.3L92.5,471.6L93.5,471.3L94,471.5L94.5,472.1L95.5,474.1L99,490.2L101,497.8L102.5,502.1L104,504.5L107,507.7L109,510.6L110,511.5L111,511.5L112,511L116.5,507.7L118.5,505.9L120,503.7L121,501.2L122.5,495.9L124.5,482.4L125,480.2L125.5,479.8L131.5,490.8L132.5,491.8L134,492.4L135,492.4L136,492.1L139,489.1L141,488L144,485.6L145,485.3L146.5,485.4L147,485L148.5,482.5L150,481L150.5,477.6L153,399.5L154,379.8L154.5,373.3L155,371.6L155.5,372.4L156.6,376.2L157.6,383.1L159.1,404.7L160.6,437.8L162.1,462.8L163.1,474.3L164.1,482.2L164.6,484.7L165.1,485.1L165.6,481.3L168.6,438.3L169.6,432.5L170.1,430.9L170.6,430.4L171.1,431.3L171.6,433.6L175.1,453.6L177.1,459L178.1,460.4L178.6,460.6L179.6,460.2L182.1,458.3L186.6,457.4L190.1,457.5L193.6,456.8L197.1,457.3L200.6,457.3L204.1,458.9L207.1,459.5L209.6,460.5L211.1,460.8L214.6,460.2L218.1,460.3L221.1,459.4L224.6,459L228.1,457.6L231.6,457.3L235.6,456.2L238.6,456.5L242.2,456.1L245.7,456.9L249.2,456.9L252.7,457.6L256.2,457.1L259.2,457.4L263.2,456.8L266.7,457.1L270.2,456.3L273.2,456.6L276.7,456.3L280.7,457.4L283.7,457.6L286.2,458.5L287.2,460.5L288.7,465.6L292.2,486.8L293.2,491L293.7,491.3L295.2,490.4L295.7,489.3L296.2,486.4L298.2,466.9L300.7,448.9L301.2,447.2L301.7,446.4L302.7,445.2L303.7,444.7L304.2,444.9L304.7,445.8L307.7,455.7L308.7,457.3L309.7,457.2L312.2,455.9L313.2,455.7L321.7,457.3L325.3,457L329.3,457.6L332.8,456.9L335.8,457L339.3,456.1L342.8,456.1L346.3,455.4L349.8,456L353.3,455.9L356.8,456.9L360.3,456.8L363.3,457.5L364.3,457.5L367.3,457L370.8,457L374.3,455.8L377.8,455.6L380.3,454.8L381.8,454.7L384.8,455.1L388.3,455L391.8,456.2L395.3,456.6L398.3,457.7L401.8,457.7L405.3,458.2L408.9,457.3L412.4,457.2L415.9,456.1L419.4,456.2L422.9,455.8L426.4,456.6L429.9,456.6L433.4,457.7L436.9,457.5L439.9,458.1L443.9,457.6L447.4,457.9L450.4,457.2L454.4,457.4L457.9,456.8L460.9,457.4L464.4,457.3L467.9,458.3L471.4,458.3L474.9,459.1L478.4,458.6L481.9,458.6L485.4,457.4L488.9,457.1L492,456.1L493,455.9L496,456.2L499.5,455.8L503,456.8L506.5,456.8L510,457.8L513.5,457.5L517,457.9L520,457.3L523.5,457.4L527,456.8L531,457.5" fill="none" stroke="#404040" stroke-opacity="0.116" stroke-width="0.9"/>
<path d="M37.9,515.3L40.4,515.3L40.9,515L41.4,514.5L41.9,513.1L43.9,477.9L44.4,477.5L45.4,479.1L46.9,485.6L48.9,491.7L51.4,495.8L54.9,499.4L57.4,501.4L59.9,502.9L63.9,504.7L66.9,505.6L69.4,505.8L71.4,505.5L73,505.1L74.5,503.8L78,498.8L80,495.3L83,488.8L85,483.3L86.5,476L90,450.5L90.5,448.5L91,448.7L91.5,450L93,455.5L98.5,483.6L101.5,495.6L102.5,498.4L103.5,500.2L106.5,503.9L109,507.7L110,508.5L111,508.5L112,507.9L116,504.7L118.5,501.7L120,499L121.5,494.4L122.5,490.2L124.5,475.8L125,473.7L125.5,473.2L126.5,473.8L131.5,479.4L132,479.6L133.5,479.7L135,479.5L136,479L139.5,474L144.5,470.4L146,470.2L147,470.6L148,471.2L149.5,473.1L150,473.3L150.5,467.2L151,452.3L153,379.1L154,356.7L154.5,350.6L155,350.1L155.5,352.1L156.6,358.6L157.6,369.3L158.6,385.1L160.6,430.5L162.1,457.5L163.6,474.3L164.6,480.4L165.1,479.7L165.6,474.7L168.6,428.7L169.6,422.9L170.1,421.4L170.6,421.2L171.6,424.9L175.1,443.7L176.6,447.9L177.6,449.8L178.1,450.2L178.6,450.3L179.1,450L181.1,447.8L182.1,447.1L184.6,447.1L187.6,446.3L191.1,446.4L194.6,445.7L198.1,446.2L201.1,446L205.1,447.4L208.6,447.6L211.6,448L215.6,447.1L219.1,447.2L222.6,446.4L226.1,446.4L229.6,445.4L232.6,445.5L236.6,444.7L239.7,445L243.2,444.6L246.7,445.4L250.2,445.4L253.7,446.4L257.2,446.5L260.7,447.5L264.2,447.5L267.2,447.9L268.2,447.8L271.2,446.7L274.7,446.3L278.2,444.8L281.7,444.5L284.2,443.8L285.7,443.6L286.2,443.9L286.7,445L288.2,451.1L292.2,478.3L293.2,482.2L293.7,482.4L295.2,481.5L295.7,480L298.2,456.8L299.7,445.1L300.7,439.1L301.2,437.8L301.7,437.1L302.7,436.1L303.7,435.7L304.2,436.1L305.2,438.2L307.7,446.3L308.2,447.3L308.7,447.7L309.2,447.7L313.2,445.8L316.2,446.5L317.2,446.5L319.7,445.9L323.3,445.7L326.8,444.7L330.3,444.9L333.8,444.4L337.3,445L340.8,444.7L344.3,445.5L347.8,445.1L351.3,445.4L354.8,444.6L357.8,444.6L361.3,443.4L364.8,443.3L368.3,442.2L371.8,442.4L375.3,441.9L378.8,442.8L382.3,442.9L385.8,444.2L389.3,444.7L392.8,446L396.3,446.1L399.8,446.9L403.3,446.3L406.9,446.3L409.9,445.3L413.4,445.1L416.9,444.1L420.4,444.3L423.9,443.8L427.4,444.6L431.4,444.5L434.4,445.3L437.9,445.2L441.4,446L444.9,445.7L448.4,446.2L451.9,445.6L455.4,445.8L458.9,444.9L462.4,445.1L465.9,444.6L469.4,445.3L472.9,445.3L475.9,446.3L479.4,446.4L483.4,447.3L486.4,446.9L490.5,447.1L493.5,446.3L497,446.2L500.5,445.1L504,445.1L507.5,444.3L511,444.7L514,444.4L518,445.3L521.5,445.3L525,446.4L528.5,446.4L531,447" fill="none" stroke="#404040" stroke-opacity="0.117" stroke-width="0.9"/>
<path d="M37.9,515.3L41.4,515.2L42.4,514L42.9,509.6L44.4,480.8L44.9,478.9L45.9,480.3L46.4,481.9L47.9,488.7L49.4,493.1L51.9,496.9L55.4,500.6L57.9,502.5L61.9,504.9L67.9,506.7L69.4,506.9L71.4,506.6L74,505.8L75,504.9L78.5,500L80.5,496.6L83.5,490.8L85,487.1L86.5,481.8L89.5,467.4L91,457.7L91.5,456.8L92,456.9L92.5,457.5L93.5,459.1L94,460.4L99,484.4L102.5,498L104,501.3L107.5,505.3L109.5,508.5L110.5,509.6L111,509.7L112,509.4L117,505.8L119,503.8L120.5,501.3L123,493.5L125,480L125.5,477.6L126,476.7L127.5,478.1L131.5,484.6L132.5,485.5L133,485.5L136.5,484.5L137,484.2L138,483.1L140.5,479.5L143,477.2L144.5,476.6L146.5,476.2L148.5,475.1L149,475.1L150.5,476.1L151,473.9L151.5,461.8L154,379.2L155,360.5L155.5,358.1L156.1,359.1L157.1,364.4L158.1,373.3L159.6,396.9L161.1,431.1L162.6,457.5L164.1,474.8L165.1,481.9L165.6,482.7L166.1,479.3L166.6,472.6L169.1,433.9L170.1,427L170.6,425.1L171.1,424.3L171.6,425.3L172.1,427.5L173.6,436.4L175.6,446.2L177.6,451.3L178.6,453L179.1,453.3L180.1,453L182.6,450.2L183.6,449.9L187.1,450.3L190.6,450.1L194.1,451L197.1,451.1L201.1,452.4L204.1,452.7L208.1,454L214.6,453L218.1,451.5L221.6,451.1L225.1,449.9L228.6,449.9L232.1,449.3L235.6,449.9L239.2,449.6L242.7,450.4L246.2,450.3L249.7,450.9L253.2,450.4L256.7,450.6L260.2,450.1L263.7,450.6L267.2,450.2L270.7,450.6L274.2,450L277.2,450.4L281.2,450.1L284.7,450.8L286.7,450.5L287.2,451L287.7,452.3L289.2,458.1L292.7,481.5L293.7,485.8L294.2,486.1L295.7,485.2L296.2,484.3L296.7,481.6L298.7,462.2L301.2,443.2L301.7,441.2L302.2,440.4L303.7,439.1L304.2,439L304.7,439.3L305.2,440.1L307.7,447.5L308.7,449.8L309.2,450.4L310.2,450.5L311.7,450.2L313.7,449.3L314.7,449.1L315.7,449.2L318.2,450.3L319.2,450.6L322.8,450.1L326.3,450.6L329.8,450L333.3,450.3L336.3,449.6L339.8,449.7L343.3,448.8L346.8,449L350.3,448.3L353.8,448.8L357.8,448.5L360.8,449.1L364.3,448.8L367.8,449.5L371.3,449L374.8,449.3L378.3,448.6L381.8,448.9L385.3,448.3L388.8,448.9L392.3,448.7L395.3,449.5L399.3,449.5L402.8,450.3L405.8,449.9L409.9,450.3L412.9,449.6L416.4,449.7L419.9,448.9L423.4,449.2L426.9,448.7L430.4,449.4L433.9,449.2L437.4,450.1L440.9,450.2L444.4,451.2L447.9,451.2L451.4,451.9L454.9,451.4L458.4,451.5L461.4,450.6L464.9,450.6L468.9,449.7L471.9,450.1L475.4,449.7L479.4,450.4L482.4,450L485.9,450.6L489.5,450L493,450.3L496.5,449.6L500,449.9L503.5,449.3L507,449.9L510.5,449.7L514,450.5L517,450.4L520.5,451.4L524.5,451.3L527.5,452L531,451.6" fill="none" stroke="#404040" stroke-opacity="0.123" stroke-width="0.9"/>
<path d="M37.9,515.3L40.4,515.2L41.4,514.1L41.9,509.8L43.4,479.7L43.9,477L44.9,478.3L45.4,479.7L46.9,486.5L48.9,492.2L51.4,496.3L55.4,500.3L57.9,502.3L60.4,503.8L63.9,505.3L66.9,506.2L69.4,506.3L71.9,505.8L73,505.3L74.5,503.8L78,498.6L80,495L83,488.3L85,482.3L86.5,474L89.5,451L90,447.9L90.5,447.2L91,448.1L92.5,453.7L98,482.4L101.5,496.5L102.5,499L103.5,500.6L106.5,504.4L108.5,507.5L109.5,508.6L110.5,508.7L111.5,508.2L115.5,505.1L118,502.2L119.5,499.7L120.5,497L122,491.5L124,477.4L124.5,474.6L125,473.4L125.5,473.5L126.5,474.3L131,479.8L132,480.3L134,480.6L135,480.6L136,480L139,476L144,473.2L145,473.1L146.5,473.3L148,473.9L149.5,475L150,472.9L150.5,461.2L153,375.6L154,356.9L154.5,354.2L155,355.4L155.5,357.8L156.6,364.4L157.1,369.6L158.6,392.7L160.1,427.4L162.1,462.4L163.6,477L164.1,480L164.6,480.8L165.1,477.5L165.6,470.7L168.1,430.8L169.1,423.2L169.6,421.1L170.1,420.2L170.6,420.8L171.1,422.7L174.1,438.7L175.1,442.9L176.6,446.7L177.6,448.2L178.1,448.4L179.1,447.9L181.1,445.7L182.1,445.5L184.1,445.8L187.1,445.6L191.1,446.6L194.1,446.6L197.6,447.7L201.1,448.1L205.1,449.7L211.1,450.1L212.6,449.8L215.1,448.9L218.6,448.8L222.1,447.9L225.6,447.8L229.1,446.9L232.6,447L236.1,446.1L239.7,446.3L242.7,445.5L246.7,445.7L250.2,445L253.7,445.4L257.2,444.9L260.7,445.7L264.2,445.8L267.7,446.6L270.7,446.3L274.7,446.8L277.7,446.4L281.2,447.1L284.2,446.9L285.7,447L286.7,449.3L288.2,455.5L291.7,479.1L292.7,483.8L293.2,484.4L294.7,483.6L295.2,482.8L295.7,480.1L297.7,460.4L300.2,441.6L300.7,439.6L301.2,438.7L302.2,437.5L303.2,436.8L303.7,436.9L304.2,437.4L305.2,439.8L307.2,446.1L308.2,447.8L308.7,447.9L309.7,447.6L312.2,445.7L313.2,445.4L316.7,446L319.7,445.3L323.3,445.2L326.3,444.5L329.8,444.8L333.3,444.3L336.8,444.9L340.8,444.5L343.8,445.2L347.3,444.8L350.8,445.5L354.3,445.1L357.8,445.7L361.3,445.3L364.8,445.8L368.3,445.4L371.3,445.8L375.3,445.3L378.8,445.7L381.8,445L385.8,445.4L388.8,444.8L392.3,445.2L396.3,444.7L399.3,445.1L403.3,444.6L406.4,445.1L409.9,444.6L413.4,445.2L416.9,444.9L420.4,445.7L423.9,445.5L427.4,446.3L430.9,446.1L434.4,446.8L437.4,446.5L441.4,447.2L444.9,446.9L448.4,447.6L451.4,447.2L455.4,447.5L458.4,446.8L461.9,446.8L465.4,445.9L468.9,446L472.4,445.3L475.9,445.7L479.4,445.3L482.9,445.8L486.4,445.5L490,446.2L493.5,446L497,446.7L500.5,446.5L504,447.2L507.5,446.9L511,447.4L514.5,446.9L517.5,447.4L521.5,446.8L524.5,447.3L528,446.7L531,447.2" fill="none" stroke="#404040" stroke-opacity="0.100" stroke-width="0.9"/>
<path d="M37.9,515.3L40.9,515.3L41.9,514.6L42.4,513.7L43.4,502.3L44.4,485.1L44.9,483.9L45.9,485.1L46.4,486.6L47.4,491.1L48.9,495.7L49.9,497.6L51.9,499.9L57.9,504.6L62.9,507.1L64.9,507.8L67.9,508.5L69.9,508.7L71.4,508.5L73.5,507.8L74.5,507.1L80,500.1L85,491.8L86,489.2L87.5,483.5L88,483L89.5,483.8L91,480.1L92,479.2L92.5,478.3L94,473.8L94.5,473.1L95,473.1L95.5,473.9L96,475.4L99,489.2L102.5,501.3L103.5,503.3L104.5,504.7L107.5,507.8L110,511.2L111,511.6L112.5,511.1L118,507.6L119.5,506.4L120.5,505L121.5,502.6L123,497.8L125,485.1L125.5,483.4L126,483.5L129,491.2L131.5,496.2L132.5,497.6L134,498.4L135.5,498.4L136.5,497.8L139.5,494.1L141.5,492.4L144,489.5L145,488.8L146.5,488.2L147.5,486.6L149,483.1L149.5,482.4L150.5,481.9L151,478.4L153.5,403.1L154.5,383.2L155,376.3L155.5,374.3L156.1,374.7L157.1,377.8L158.1,384.7L159.6,406.7L161.1,439.3L162.6,463.8L163.6,475.2L164.6,483.1L165.1,485.6L165.6,485.8L166.1,481.9L169.1,440L170.1,434.4L170.6,432.7L171.1,432.2L171.6,433.3L172.1,435.7L175.6,455.9L177.6,461.4L178.6,462.8L179.1,463.1L180.1,462.8L181.6,461.8L182.6,461.4L186.6,461.3L190.1,462.1L193.6,461.7L197.6,462.1L200.6,461.6L204.1,462.3L207.6,462.1L210.6,462.4L215.1,461.2L218.1,461.3L221.6,460.7L225.1,461.1L228.1,460.7L232.1,461.2L235.6,460.6L238.6,460.8L242.7,459.8L246.2,459.8L249.2,459L252.7,459.1L256.2,458.5L260.2,459.4L263.2,459.5L266.7,460.7L270.2,460.8L273.7,461.5L277.2,461.1L280.7,461.5L284.2,460.9L286.7,460.8L287.7,462.3L289.2,466.7L293.2,490L293.7,491.6L294.2,491.8L295.7,490.9L296.2,489.6L297.2,482.1L298.7,467.2L301.2,449.7L301.7,448.1L302.7,446.9L303.7,446.2L304.2,446.2L304.7,446.7L305.2,447.7L308.2,458.5L309.2,460.3L310.2,460.3L313.2,459.5L316.2,460.4L322.2,461.6L325.8,461.2L329.3,461.7L332.8,460.9L336.3,460.9L339.8,459.6L343.3,459.3L346.8,458.1L350.3,458L353.8,457.2L357.3,457.7L360.8,457.6L364.3,458.7L367.8,458.9L370.8,460L374.3,460.1L378.3,461L381.3,460.5L384.8,460.8L388.3,459.9L391.8,459.9L395.3,459L398.8,459.2L402.3,458.5L405.8,459L409.4,458.7L412.9,459.5L416.4,459.4L419.9,460.3L423.4,460.1L426.4,460.7L430.4,460.1L433.9,460.4L437.4,459.6L440.4,459.9L443.9,459.4L447.4,460.2L450.9,460.2L454.4,461.2L457.9,461.2L461.4,462L464.9,461.7L468.4,462.2L471.9,461.5L475.4,461.6L478.9,460.5L482.4,460.3L485.9,459.1L489.5,459L493,458.1L496,458.5L500,458.4L503,459.3L507,459.7L510,460.9L513.5,461.1L517,462.1L520.5,461.9L524,462.3L527.5,461.6L531,461.7" fill="none" stroke="#404040" stroke-opacity="0.097" stroke-width="0.9"/>
<path d="M37.9,515.3L40.9,515.3L41.4,515.1L41.9,514.6L42.4,513.3L44.4,475.8L44.9,475L45.9,476.7L47.9,485.5L49.4,490L52.4,495.1L53.9,497L55.9,499L58.4,500.9L61.9,503L64.4,504L68.4,505.2L70.4,505.2L73.5,504.3L74.5,503.6L76,501.8L79,496.8L82,490.6L84.5,484.1L86,478.5L87.5,468.7L90.5,438.9L91,435.9L91.5,435.7L92,437.1L93,442.4L95.5,461.8L97,470.7L99,481.1L102,493.9L103,497L104,499L107,502.9L109.5,506.9L110.5,507.9L111.5,507.9L112.5,507.3L116.5,503.9L118.5,501.5L120,498.8L121.5,494.5L123,488.5L125,473.9L125.5,471.4L126,470.4L127,470.2L128.5,470.8L129.5,471.6L131.5,474.2L132.5,474.7L136,473.7L137,473.1L140,469.1L142,467.4L143.5,466.7L146,466.4L147,466.7L148,467.6L150,470.9L150.5,471.3L151,466L151.5,451.3L154,362.3L155,344.4L155.5,343.5L156.1,345.4L157.1,352.6L158.1,364L159.1,380.4L161.1,426.3L162.6,453.8L163.6,466.7L164.6,475.5L165.1,478L165.6,477.6L166.1,472.8L169.1,424.2L170.1,417.4L170.6,415.6L171.1,415.2L171.6,416.5L172.1,418.9L173.1,425L175.6,437.2L177.6,442.3L178.6,443.9L179.1,444.2L180.1,443.8L182.1,441.6L183.1,441.3L186.6,442.1L190.6,442.1L193.6,442.9L197.1,442.9L200.6,443.9L204.1,444.1L207.6,445L211.1,444.4L214.1,444.2L217.6,442.8L221.6,442.5L225.1,441.4L228.1,441.5L232.1,440.6L235.6,440.9L238.6,440.3L242.2,440.7L245.7,440.2L249.2,440.7L252.7,440.3L256.2,440.9L259.2,440.7L263.2,441.7L266.7,441.6L270.2,442.2L273.7,441.7L277.2,442L280.2,441.4L283.7,441.9L286.2,441.7L286.7,441.8L287.7,444.5L289.2,451.7L291.2,467.3L292.7,477L293.7,480.8L294.2,480.9L295.7,479.8L296.2,478.4L297.2,470.7L298.7,455.3L301.2,436.5L301.7,434.9L302.2,434L303.2,432.9L304.2,432.4L304.7,432.6L305.2,433.4L308.2,441.2L308.7,442L309.2,442.3L310.7,442.1L313.7,440.4L314.7,440.2L318.7,441L322.2,440.1L325.8,440.2L329.3,439.5L332.8,439.9L336.3,439.4L339.8,439.8L343.3,439.3L346.8,439.7L350.3,439.2L353.8,439.7L356.8,439.2L360.3,439.7L364.3,439.4L367.8,440L370.8,439.7L374.3,440.4L377.8,440.1L381.3,440.7L384.8,440.3L388.3,440.8L391.8,440.4L395.3,440.9L398.8,440.3L402.3,440.6L405.8,439.9L409.4,440.2L412.9,439.4L416.4,439.8L419.9,439.2L423.4,439.7L426.4,439.3L429.9,439.9L433.4,439.7L436.9,440.4L440.4,440.3L443.9,441.3L447.4,441.4L450.9,442.5L454.4,442.4L457.9,443L461.4,442.4L464.9,442.6L468.4,441.9L471.9,442.1L474.9,441.4L478.4,441.6L481.9,440.9L485.4,441.2L488.9,440.5L492.5,440.8L496,440.2L499.5,440.6L503.5,440.2L506.5,440.7L510,440.3L513.5,440.9L517,440.7L520.5,441.4L524,441.3L527.5,442.1L531,442" fill="none" stroke="#404040" stroke-opacity="0.118" stroke-width="0.9"/>
<path d="M37.9,515.3L40.9,515.2L41.9,514.2L42.4,511.4L43.9,483.4L44.4,479L45.4,480.1L45.9,481.3L47.4,487.9L49.4,493.7L51.9,497.5L56.4,501.8L58.4,503.3L61.9,505.1L64.4,506.2L66.9,506.9L68.9,507.2L70.9,507.1L73.5,506.2L74.5,505.3L78,500.5L80,497.1L83.5,489.8L85,486L86.5,479.7L90.5,454.6L91,453.5L91.5,454.1L93,457.6L94,460.9L99,485.4L101,493.6L102.5,498.5L104.5,502.1L107,505.1L109.5,508.8L110.5,509.5L112,509.2L116,506.3L118.5,504L120,502L121,499.5L122.5,494.4L124.5,481.2L125,478.4L125.5,477.2L126.5,478.1L131.5,486.1L132.5,486.9L134.5,487.3L136,486.8L139.5,482.3L144.5,478L147,477.6L148.5,476.7L150,476.8L150.5,475.8L151,466.3L153.5,382.6L154.5,363.5L155,359.3L155.5,359.7L156.1,361.4L157.1,366.9L157.6,371.2L159.1,393L161.1,437.3L162.6,462.3L164.1,477.2L164.6,480.4L165.1,481.8L165.6,479.6L166.1,473.5L168.6,434.5L169.1,429.1L170.1,424.1L170.6,422.8L171.1,423L171.6,424.7L175.6,446.2L177.1,450.1L178.1,451.7L178.6,452.1L179.6,451.9L181.6,450.4L182.6,450.2L187.1,450.5L190.1,451.6L194.1,451.9L197.6,452.9L201.1,453L204.6,454.2L207.6,454L210.6,454.2L212.1,453.8L215.1,452.5L218.6,452.1L221.6,451L225.1,450.9L228.6,450.1L232.1,450.4L235.6,449.9L239.2,450.3L242.7,449.9L246.2,450.4L249.7,450L253.2,450.4L256.7,449.8L260.2,450.3L263.7,450.1L267.2,450.6L270.7,450L274.2,450.2L277.7,449.5L280.7,450L284.2,449.8L286.2,450.2L286.7,450.8L287.2,452L288.7,457.6L292.7,483.6L293.2,485.7L293.7,486.6L294.7,486.4L295.7,485.4L296.2,483.2L298.2,464.1L300.7,445.5L301.2,443.3L301.7,442.3L302.7,441.1L303.7,440.5L304.2,440.6L305.2,442.3L307.7,450.9L308.7,452.9L309.2,453L313.2,451L316.7,451.2L319.2,450.7L322.2,450.4L326.3,449L329.3,449L333.3,448L336.3,448.2L340.3,447.5L343.3,448.1L347.3,447.8L350.8,448.5L353.8,448.4L357.3,449.3L360.8,449.3L364.3,450.2L367.8,450.1L371.3,450.9L374.8,450.5L378.3,450.9L381.8,450.2L385.3,450.4L388.8,449.6L392.3,449.7L395.3,449L398.8,449.2L402.3,448.5L405.8,448.8L409.4,448.3L412.9,448.8L416.4,448.5L419.9,449.3L423.4,449.1L426.9,450L430.4,449.8L433.9,450.6L437.4,450.3L440.9,451L443.9,450.7L447.4,451.5L451.4,451.3L454.9,451.9L458.4,451.4L461.9,451.7L465.4,451L468.9,451.2L471.9,450.6L475.4,451L478.9,450.4L482.4,450.8L485.9,450.1L489.5,450.3L493,449.6L496.5,449.8L500,449.1L503.5,449.5L507,449L510,449.5L513.5,449.2L517.5,450.1L520.5,450L524,451.1L528,451.4L531,452.4" fill="none" stroke="#404040" stroke-opacity="0.118" stroke-width="0.9"/>
<path d="M37.9,515.3L40.4,515.2L41.4,514L41.9,509.6L43.4,478.8L43.9,476.1L44.9,477.4L45.4,478.9L46.9,485.8L48.9,491.5L51.9,496.4L55.4,500L57.9,501.9L60.9,503.7L63.9,504.9L67.4,505.9L69.4,505.9L72.5,505.1L73.5,504.4L75,502.6L78,497.8L80.5,493L83,487L85,480.6L87,468.4L90,442.5L90.5,441.3L91,442L92,446.1L96.5,473.9L98.5,484L101,494.4L102,497.6L103,499.6L106.5,504.1L108.5,507.3L109.5,508.3L110.5,508.4L111.5,507.9L115.5,504.6L117.5,502.3L119.5,498.8L122,490.5L124,476.2L124.5,473.4L125,472.1L126,472.2L127,473L131,477.8L132,478.2L135,478.3L135.5,478.3L136.5,477.4L139.5,473.5L141.5,472.2L144.5,470.9L146,470.6L147,470.8L148,471.5L149.5,473.3L150,471.2L150.5,459.3L153,371.4L154,351.4L154.5,348.5L155,349.6L155.5,352.1L156.6,359.4L157.1,365L158.6,389.2L160.1,424.5L162.1,460.3L163.6,475.6L164.1,478.7L164.6,479.5L165.1,476.2L165.6,469.3L168.1,428.8L169.1,421.2L169.6,419.2L170.1,418.3L170.6,419L171.1,421.1L174.6,439.9L176.6,445.6L177.6,447.3L178.1,447.6L179.1,447.2L181.1,445L182.1,444.5L184.6,444.9L188.1,444.5L191.6,445L195.1,444.7L198.6,445.7L202.1,446L206.1,447.6L211.6,447.8L213.1,447.6L216.1,446.5L219.6,446.3L223.1,445L226.6,444.6L229.6,443.6L233.6,443.6L236.6,443L240.7,443.6L244.2,443.5L247.7,444.4L250.7,444.3L254.7,445L258.2,444.6L261.2,445.1L264.7,444.6L268.2,444.8L271.7,443.9L275.2,444L278.2,443.5L279.2,443.5L282.2,444.2L285.7,444.1L286.2,444.9L286.7,446.4L288.2,453.1L291.7,477.6L292.7,482.3L293.2,482.8L294.7,482L295.2,481.1L295.7,478.5L297.7,458.7L300.2,439.5L300.7,437.4L301.2,436.6L302.2,435.3L303.2,434.7L303.7,434.7L304.2,435.3L305.2,437.5L307.2,443.4L308.2,444.9L308.7,445L309.7,444.8L312.2,443.1L313.2,442.8L314.2,442.9L317.2,444L320.7,443.7L324.3,444.2L327.3,443.9L330.8,444.4L334.3,443.7L337.8,443.8L341.3,442.7L344.8,442.7L348.3,441.8L351.8,442L354.8,441.6L358.8,442.4L362.3,442.3L365.8,443.3L369.3,443.1L372.3,443.7L376.3,443.1L379.8,443.4L382.8,442.7L386.3,443L389.8,442.5L393.3,443.2L396.8,443.1L400.3,443.9L403.8,443.7L407.4,444.2L410.9,443.4L414.4,443.5L417.9,442.7L421.4,442.8L424.9,442.2L428.4,442.8L431.9,442.7L435.4,443.8L438.9,443.9L442.4,445.1L445.4,445.1L449.4,446L452.4,445.5L455.9,445.6L459.4,444.6L462.9,444.5L466.4,443.7L469.9,444L473.4,443.7L476.9,444.4L480.4,444.2L483.9,444.7L487.4,444.1L491,444.4L494.5,443.5L498,443.7L501.5,443.1L504.5,443.6L508.5,443.4L511.5,444.3L515,444.3L519,445.3L522,445.1L525.5,445.8L529,445.3L531,445.5" fill="none" stroke="#404040" stroke-opacity="0.121" stroke-width="0.9"/>
<path d="M37.9,515.3L40.4,515.3L40.9,515L41.4,514.4L41.9,512.5L43.4,483.2L43.9,477.6L44.4,477.9L45.4,479.6L46.9,486.2L48.9,492.3L51.4,496.1L55.9,500.6L58.4,502.3L62.9,504.6L64.9,505.3L67.9,506L69.9,506.1L72.5,505.5L73.5,504.9L75,503.2L78,498.8L80,495.1L83.5,487.3L85,482.7L86.5,474.7L90,446.2L90.5,444.4L91,444.8L91.5,446.2L93,452.1L98,480.8L101.5,495.3L102.5,498.1L103.5,500L106.5,504L109,507.9L110,508.7L111,508.7L112,508.2L115.5,505.5L118,503L119.5,500.7L120.5,498.1L122,492.8L124.5,476.1L125,474.3L125.5,474.1L126,474.4L129,477L131.5,479.7L132.5,480L134,479.7L135.5,478.8L139,474.4L143,471.4L144,470.9L145,471L146,471.4L148,472.5L149.5,474L150,474L150.5,465.8L153,378.9L154,358.5L154.5,353.5L155,353.9L156.1,358.6L157.1,366.3L157.6,372.6L158.6,388.5L160.6,433.9L162.1,459.7L163.6,475.3L164.1,478.8L164.6,480.6L165.1,479L165.6,473.2L168.6,426.9L169.6,421.1L170.1,419.5L170.6,419.3L171.6,423.2L175.1,441.5L176.6,445.1L177.6,446.6L178.1,446.9L179.1,446.7L181.6,444.9L185.6,445L189.6,446.6L193.1,447.1L196.6,448.5L200.1,448.6L204.1,449.7L207.1,449.3L210.1,449.3L214.1,447.5L217.6,446.9L221.1,445.9L224.6,446.1L227.6,445.7L231.1,446.4L234.6,446.2L238.6,446.6L241.7,445.9L245.2,446L248.7,444.9L252.2,444.8L255.7,444L259.2,444.6L262.7,444.8L266.2,446L269.7,446.2L273.2,447.1L276.7,446.7L280.2,447.2L283.7,446.4L285.7,446.5L286.2,446.9L286.7,448L288.7,456L292.2,480L292.7,482.3L293.2,483.4L294.2,483L295.2,482L295.7,479.9L298.2,456.3L300.2,441.3L300.7,438.9L301.2,437.7L302.2,436.2L303.2,435.4L303.7,435.3L304.2,435.8L304.7,436.8L307.2,445.1L308.2,447.2L308.7,447.4L312.2,446.1L315.7,446.6L321.2,446.4L325.3,445L328.8,444.7L332.3,443.6L335.8,443.7L339.3,443.1L342.8,443.9L346.3,443.8L349.8,444.8L352.8,444.7L356.8,445.4L359.8,444.9L363.3,445.1L366.8,444.2L370.3,444.3L373.8,443.6L377.3,444.1L380.8,443.8L384.3,444.8L387.8,445L391.3,446L394.8,445.9L397.8,446.4L401.8,445.5L404.8,445.4L408.9,444L411.9,443.9L415.9,443L419.4,443.6L422.4,443.5L425.9,444.6L429.9,445L432.9,446.1L436.4,446L439.9,446.7L443.4,446.3L446.9,446.7L450.4,446.2L453.9,446.6L457.4,446L460.9,446.6L464.4,446.3L467.4,446.9L471.4,446.6L474.4,447L478.4,446.2L481.4,446.2L484.9,445L488.4,444.8L492,443.8L495.5,444.1L498.5,443.8L500,444L502.5,444.8L506,445.1L509.5,446.3L513,446.4L516.5,447.3L520,446.9L523.5,447.2L527,446.5L531,446.7" fill="none" stroke="#404040" stroke-opacity="0.101" stroke-width="0.9"/>
<path d="M37.9,515.3L40.9,515.3L41.4,515L41.9,514.3L42.4,512.4L43.9,481.9L44.4,476.4L44.9,476.7L45.9,478.6L47.4,485.6L49.4,491.6L52.4,496.4L55.9,500L58.4,502L61.4,503.7L64.4,505L67.9,506L69.9,506L73,505.3L74,504.7L75.5,503L78.5,498.3L81,493.6L83.5,487.8L85.5,481.7L87,473.8L89,458.6L90.5,444.8L91,442.8L91.5,443.2L92,444.7L93,449.2L95.5,465L98,478.5L102,495.7L103,498.5L104,500.2L107,503.9L109.5,507.9L110.5,508.6L112,508.2L116.5,504.5L118.5,502.1L120,499.6L121.5,495.3L123,489.2L124.5,477.9L125.5,472.8L126,472.4L127,472.8L129,474.9L131.5,478.2L132.5,478.6L136,478.5L136.5,478.3L137.5,477.3L140,473.8L142,472.5L145,471.3L146.5,471.1L147.5,471.3L148.5,471.9L150,473.6L150.5,473.6L151,465.2L153.5,376.6L154.5,355.3L155,350.2L155.5,350.6L156.1,352.8L157.6,364.4L159.1,387.1L161.1,432.3L162.6,458.5L164.1,474.7L164.6,478.3L165.1,480.1L165.6,478.4L166.1,472.6L169.1,425.8L170.1,420.4L170.6,419L171.1,419.2L171.6,420.8L173.1,429.4L175.6,441.5L177.6,446.7L178.6,448L179.1,448.1L179.6,447.8L181.6,445.6L182.6,445L185.6,445.5L189.1,445.2L192.6,445.9L196.1,445.6L199.6,446.5L203.1,446.6L206.1,447.7L207.6,447.9L210.1,447.6L213.1,447.8L217.1,446.6L220.1,446.7L224.1,445.7L227.1,445.7L231.1,444.8L234.6,445L237.6,444.3L241.2,444.6L244.7,444.2L248.2,444.8L251.7,444.4L255.2,445.1L258.7,444.8L262.2,445.6L265.7,445.4L268.7,445.8L272.7,444.9L276.2,445L279.2,444.2L283.2,444.7L286.2,444.3L286.7,444.7L287.2,446L288.7,452.3L292.2,476.6L293.2,481.8L293.7,482.8L294.7,482.6L295.7,481.8L296.2,479.9L298.7,456.3L300.7,441L301.2,438.6L301.7,437.4L302.7,436.2L303.7,435.6L304.2,435.5L304.7,435.9L305.2,436.8L307.7,444.1L308.7,446L309.2,446.3L310.7,446L313.2,444.3L314.2,444L317.7,444.9L321.2,444.2L324.8,444.3L328.3,443.8L331.3,444.4L335.3,444L338.8,444.4L342.3,443.8L345.8,444.1L349.3,443.2L352.8,443.3L355.8,442.6L359.3,442.9L362.8,442.4L366.3,443L369.8,442.8L373.3,443.7L376.8,443.5L380.3,444.2L383.8,443.9L387.3,444.4L390.8,443.9L394.3,444.3L397.8,443.8L401.3,444.3L404.3,443.8L408.4,444.3L411.9,443.8L415.4,444.3L418.9,443.9L421.9,444.3L425.4,443.8L428.9,444.1L432.4,443.6L435.9,444L439.4,443.7L442.9,444.6L446.4,444.7L449.9,445.8L453.4,445.8L456.9,446.6L460.4,446L463.9,446.2L466.9,445.4L470.9,445.3L473.9,444.5L477.4,444.8L481.4,444.2L484.4,444.6L488.4,444.2L491.5,444.8L495,444.4L498.5,445L502,444.5L505.5,445L509,444.4L512.5,444.9L516,444.4L519.5,445L523,444.8L526.5,445.7L529.5,445.6L531,446" fill="none" stroke="#404040" stroke-opacity="0.119" stroke-width="0.9"/>
<path d="M37.9,515.3L40.9,515.2L41.9,514.1L42.4,510L43.9,479.2L44.4,476.2L45.4,477.5L45.9,479L47.4,485.9L49.4,491.6L52.4,496.3L55.4,499.4L58.4,501.7L61.4,503.4L64.4,504.6L67.9,505.6L69.9,505.7L73,504.9L74,504.3L75.5,502.5L78.5,497.8L81,493.1L83.5,487.2L85.5,480.8L86.5,475.7L87.5,468.6L90.5,442.8L91,441.5L91.5,442.2L92,443.8L93,448.5L95.5,465.4L97,473.6L99,483.6L101.5,494L102.5,497.2L103.5,499.3L107,503.8L109,507.1L110,508.2L111,508.3L112,507.8L116,504.5L118,502.3L120,498.8L122.5,490.4L124.5,476.2L125,473.3L125.5,471.9L126.5,471.8L127.5,472.4L129,473.8L131,476.5L132,477.2L135.5,476.9L136.5,476.6L140,472.2L142,470.9L144,470.2L146,470L147.5,470.4L148.5,471.2L150,473.2L150.5,471.4L151,460L153.5,372.1L154.5,352L155,348.9L155.5,350L156.1,352.5L157.6,365.4L159.1,389.5L160.6,424.5L162.6,460.2L164.1,475.5L164.6,478.6L165.1,479.6L165.6,476.5L166.1,469.7L168.6,428.8L169.6,420.7L170.1,418.5L170.6,417.6L171.1,418.2L171.6,420.2L175.1,438.5L177.1,444L178.1,445.7L178.6,446.1L179.6,445.8L181.6,443.5L182.6,443L186.1,443.7L189.6,443.8L193.1,444.8L196.1,444.9L199.6,446L203.1,446.3L207.1,447.6L213.6,446.9L217.1,445.5L220.6,445.3L224.1,444.1L227.6,444L231.1,443.1L234.6,443.4L237.6,442.8L241.7,443.2L245.2,442.8L248.7,443.4L252.2,443.1L255.7,443.8L258.7,443.6L262.2,444.6L265.7,444.5L269.2,445.1L272.7,444.4L276.2,444.5L279.7,443.7L283.2,443.9L286.2,443.4L286.7,444L287.2,445.4L288.7,452L292.2,476.6L293.2,481.3L293.7,481.8L295.2,481L295.7,480.2L296.2,477.7L298.2,458.1L300.7,438.7L301.2,436.6L301.7,435.7L302.7,434.5L303.7,434L304.2,434.1L304.7,434.7L307.7,442.9L308.7,444.6L309.2,444.7L310.7,444.5L313.7,443L314.7,443.1L317.2,444.1L318.2,444.3L321.7,443.6L325.3,443.8L328.3,443.2L332.3,443.5L335.3,442.8L338.8,443L342.3,442.2L345.8,442.4L349.3,441.6L352.8,441.8L356.3,441.2L359.8,441.7L363.3,441.3L366.8,442L370.3,441.8L373.8,442.7L376.8,442.5L380.3,443.2L383.8,442.9L387.8,443.5L390.8,443.1L394.3,443.5L397.8,442.9L401.3,443.2L404.8,442.4L408.4,442.6L411.9,441.9L415.4,442.2L418.9,441.8L422.4,442.4L425.9,442.2L429.4,443L432.9,442.9L436.4,443.7L439.9,443.6L442.9,444.4L446.4,444.3L450.4,445.2L453.4,444.8L456.9,445.1L460.4,444.3L463.9,444.4L467.4,443.5L470.9,443.6L474.4,442.9L477.9,443.3L481.4,442.9L484.9,443.4L488.4,443L491.5,443.6L495.5,443.4L498.5,444L502.5,443.6L505.5,444.2L509,443.7L513,444.1L516,443.6L519.5,444.1L523,443.7L526.5,444.3L529.5,444L531,444.2" fill="none" stroke="#404040" stroke-opacity="0.115" stroke-width="0.9"/>
<path d="M37.9,515.3L40.4,515.3L40.9,515L41.4,514.4L41.9,512.7L43.4,486.6L43.9,482L44.4,482.3L45.4,483.9L46.9,490.5L48.4,495.1L49.4,496.9L51.4,499.1L56.4,503.3L61.9,506.4L63.9,507.1L67.9,508L69.4,508.1L70.9,507.8L73.5,506.7L75.5,504.5L79,499.3L83.5,491.2L85.5,485.4L87.5,474.6L90,467.7L90.5,467.6L91.5,469.7L92,470.2L93,470.2L94,471.2L95.5,474.6L99,490.4L101,497.8L102.5,502.1L104,504.4L107,507.6L109,510.6L110,511.4L110.5,511.4L111.5,511.1L117.5,506.8L119,505.2L120,503.4L121.5,499L122.5,495.2L124,484.9L125,480.5L125.5,480.7L126.5,482.2L131,491.5L132,492.5L132.5,492.6L133.5,492.5L136,491.6L142,485.4L143,484.6L144,484.3L146.5,484.1L148.5,481.2L150,479.9L150.5,472.1L153,391.9L154,373.8L154.5,369L155,369L155.5,370.4L156.6,375.1L157.6,384.2L158.6,398.7L160.6,441.2L162.1,465L163.6,479.6L164.6,484.8L165.1,483.5L165.6,478.2L168.6,435L169.6,430.2L170.1,429L170.6,429.1L171.1,430.8L174.1,448.3L175.1,452.9L177.1,457.6L178.1,459L178.6,459.2L179.6,458.9L182.1,456.8L184.1,456.5L187.6,457.2L191.1,457L194.6,457.9L198.1,458.1L201.6,459.4L205.1,459.9L208.6,460.9L212.1,459.9L215.1,459.5L218.6,458L222.6,457.5L225.6,456.4L229.6,456.4L232.6,455.8L236.6,456.3L240.2,455.8L243.7,456.3L246.7,455.8L250.7,456.1L253.7,455.4L257.2,455.8L260.2,455.6L264.2,456.6L267.7,456.7L271.2,457.4L274.7,457L278.2,457.5L281.7,456.9L286.2,457.4L287.2,459.5L288.7,464.9L292.2,486.9L292.7,489L293.2,490L294.2,489.6L295.2,488.7L295.7,487L298.2,464.5L300.2,449.8L300.7,447.3L301.2,446.1L302.7,444.6L303.7,444.8L304.2,445.5L307.7,456.8L308.2,457.6L309.2,457.9L310.7,457.7L314.7,456.7L316.2,456.6L319.2,456.9L323.3,455.5L326.8,455.6L330.3,455L333.8,455.5L337.3,455.2L340.8,455.8L344.3,455.4L347.8,455.7L350.8,455.1L354.8,455.3L358.3,454.6L361.8,455.2L365.3,455L368.3,455.9L371.8,455.8L375.3,456.7L378.8,456.4L382.3,456.8L385.8,456.2L389.3,456.5L392.8,455.9L396.3,456.4L399.8,455.9L403.3,456.4L406.9,455.9L410.4,456.2L413.4,455.4L417.4,455.5L420.4,454.8L424.4,455.1L427.4,454.7L431.4,455.5L434.9,455.5L438.4,456.6L441.4,456.6L444.9,457.7L448.4,457.7L451.9,458.4L455.4,457.9L458.9,458.3L462.4,457.6L465.9,458L469.4,457.4L472.9,457.8L476.4,457.2L479.4,457.4L483.4,456.4L486.9,456.4L490,455.5L494,455.7L497,455.2L500.5,455.9L504.5,455.7L507.5,456.5L511,456.2L514.5,456.7L518,456.3L521.5,456.8L525,456.5L528.5,457.3L531,457.3" fill="none" stroke="#404040" stroke-opacity="0.108" stroke-width="0.9"/>
<path d="M37.9,515.3L40.4,515.3L40.9,515.1L41.4,514.5L41.9,513.3L43.9,477.4L44.4,476.8L45.4,478.5L47.4,487.1L48.9,491.5L51.4,495.8L54.9,499.6L57.9,501.9L60.4,503.4L63.4,504.7L67.4,505.8L69.9,505.8L73,505L74,504.2L75,503.1L78.5,497.6L80.5,493.9L83,488.2L85,482.4L86,478L87,471.6L90,447.2L90.5,444.6L91,444.4L91.5,445.6L92.5,449.6L97.5,477.9L101.5,495.2L102.5,498.1L103.5,500L106.5,503.7L109,507.6L110,508.5L110.5,508.5L111.5,508.2L116,504.7L118.5,501.7L120,498.9L121.5,494.3L122.5,490.3L124.5,476L125,473.8L125.5,473.1L126,473.2L127,474L130.5,478.5L131.5,479.4L132,479.6L135.5,479.1L136,478.9L137,477.8L139,474.5L140,473.4L142,471.9L144.5,470.5L146,470.2L147,470.3L148,470.9L149.5,472.9L150,473.2L150.5,467.9L151,453.4L153.5,367.5L154.5,350.2L155,349.4L155.5,351.2L156.6,357.9L157.6,368.6L158.6,384.4L160.6,429.5L162.1,456.5L163.1,469L164.1,477.6L164.6,480L165.1,479.6L165.6,474.8L168.6,427.9L169.6,421.7L170.1,420L170.6,419.7L171.1,420.9L171.6,423.3L175.1,441.5L177.1,446.6L178.1,448L178.6,448.2L179.6,447.5L181.6,445.1L182.6,444.7L185.1,445.1L188.6,444.8L192.1,445.6L195.6,445.8L199.1,447L202.6,447.5L205.6,448.7L206.6,448.9L212.6,448.4L216.6,446.6L220.1,446.1L223.1,444.9L227.1,444.7L230.1,444L234.1,444.6L237.6,444.4L241.2,445.2L244.7,445L247.7,445.6L251.2,445.1L254.7,445.3L258.2,444.6L261.7,445.1L265.2,444.8L268.7,445.4L272.2,444.9L275.7,445.4L279.2,445.1L282.7,445.8L285.7,445.4L286.2,445.5L287.2,448.2L288.7,454.9L292.2,479L293.2,482.8L293.7,482.9L295.2,481.9L295.7,480.5L296.7,472.6L298.2,457.1L300.7,438.6L301.2,437L301.7,436.3L302.7,435.2L303.7,434.7L304.2,434.9L305.2,436.8L307.7,444.1L308.2,445.1L308.7,445.5L309.2,445.6L310.2,445.4L312.7,444.1L313.7,443.9L317.7,445.4L321.2,445L324.3,445.3L327.8,444.6L331.3,444.8L334.8,443.9L338.3,443.9L341.8,443.1L345.3,443.5L348.8,443L352.3,443.6L355.3,443.3L358.8,443.9L362.8,443.5L365.8,444L369.3,443.3L373.3,443.5L376.3,442.9L379.8,443.2L383.3,442.8L386.8,443.6L390.3,443.6L393.8,444.7L397.3,444.6L400.8,445.3L404.3,444.7L407.9,444.9L411.4,443.9L414.9,443.9L418.4,443.1L421.9,443.6L425.4,443.3L428.9,444.1L432.4,444.1L435.4,445L438.9,444.8L442.4,445.6L445.9,445.3L449.4,445.9L452.9,445.3L456.4,445.7L459.9,445L463.4,445.4L466.9,445L469.9,445.5L473.9,445.2L477.4,445.8L480.9,445.2L484.4,445.3L487.4,444.5L491,444.5L495,443.8L498,444.2L501.5,443.9L505,444.7L509,444.8L512,445.6L515.5,445.4L519,446.1L522.5,445.6L526,446L529,445.4L531,445.6" fill="none" stroke="#404040" stroke-opacity="0.098" stroke-width="0.9"/>
<path d="M37.9,515.3L40.9,515.2L41.9,514.1L42.4,509.9L43.9,483.1L44.4,480.5L45.4,481.7L45.9,483.1L47.4,489.9L48.9,494.2L50.9,497.2L53.9,500.3L57.9,503.4L60.9,505.1L63.4,506.2L68.9,507.5L70.4,507.4L73,506.6L74,506L75,505L78.5,500L81.5,494.9L84,489.9L85.5,485.5L87.5,475.4L89,470.5L90.5,463.4L91,462.9L93,464.3L93.5,465L94.5,467.6L96,473.3L99,487.4L101,495.2L102.5,500L104,502.7L107,506L109.5,509.8L110.5,510.5L112,509.9L117,506.5L118.5,505.1L120,502.9L122.5,495.4L124.5,482.3L125,479.8L125.5,478.8L126,479.2L127,480.5L131,487.7L132,488.6L132.5,488.6L136.5,487.1L137.5,486.1L140,482.6L142.5,480.4L144,479.9L146.5,479.6L148.5,478L150,478.2L150.5,476.2L151,465.1L153.5,385.1L154.5,367.3L155,364.5L155.5,365.2L156.1,367.2L157.1,373L157.6,377.8L159.1,400L160.6,433.2L162.1,459L163.6,476L164.6,483L165.1,484L165.6,480.9L166.1,474.5L168.6,436.3L169.6,429.2L170.1,427.3L170.6,426.5L171.1,427.2L171.6,429.3L173.1,438.3L175.1,448.2L177.1,453.4L178.1,455.1L178.6,455.6L179.6,455.4L182.1,452.8L183.1,452.6L187.1,453.4L190.6,453.5L194.1,454.5L197.1,454.6L200.6,455.8L204.1,456.1L207.6,457.1L214.1,455.9L218.1,454.2L221.6,453.9L225.6,452.9L228.6,453.1L232.1,452.7L235.1,453.4L239.2,453.2L242.7,453.9L246.2,453.4L249.7,453.6L252.7,452.8L256.2,452.8L259.7,452.2L263.2,453L266.7,453L270.7,453.9L273.7,453.6L277.2,454.2L280.7,453.7L284.2,454.1L286.2,453.6L286.7,454L287.2,455.1L288.7,460.4L292.2,482.8L293.2,487.2L293.7,487.6L295.2,486.7L295.7,485.9L296.2,483.4L298.2,464.3L300.7,445.5L301.2,443.5L301.7,442.6L302.7,441.7L303.2,441.5L304.2,441.8L304.7,442.7L308.2,453.2L308.7,453.9L310.2,454.3L311.2,454.2L314.2,453.1L315.7,453.3L318.2,454.2L319.2,454.2L322.2,453.4L325.8,453.4L329.3,452.6L332.8,452.8L336.3,452L339.8,452.3L343.3,451.7L346.8,452.1L350.3,451.7L353.8,452.2L357.3,451.9L360.8,452.5L364.3,452L367.3,452.5L371.3,451.9L374.3,452.2L377.8,451.5L381.3,451.9L384.8,451.6L388.3,452.4L392.3,452.5L395.3,453.5L398.8,453.3L402.3,453.9L405.8,453.1L409.4,453.1L412.9,452L416.4,452L419.9,451.3L423.4,451.9L426.9,451.9L429.9,452.8L433.9,452.9L436.9,453.7L440.4,453.5L444.4,454.2L447.4,453.9L450.9,454.4L454.4,453.9L457.9,454.3L461.4,453.7L464.9,454.1L468.4,453.6L471.9,454L475.4,453.5L478.9,453.9L482.4,453.2L485.9,453.4L488.9,452.7L493,452.9L496.5,452.2L500,452.7L503.5,452.3L507,453L510,452.8L513.5,453.7L517,453.7L520.5,454.5L524,454.2L527.5,454.8L531,454.2" fill="none" stroke="#404040" stroke-opacity="0.094" stroke-width="0.9"/>
<path d="M37.9,515.3L40.9,515.2L41.9,514.1L42.4,510L43.9,483.8L44.4,481.2L45.4,482.4L45.9,483.8L47.4,490.3L48.9,494.8L50.4,497.3L52.4,499.6L57.9,504.2L62.9,506.5L65.4,507.3L67.9,507.7L69.9,507.7L71.9,507.2L73.5,506.6L74.5,505.6L78,500.8L80.5,496.7L84,489.8L85.5,485.9L87.5,476.1L89,471.7L90.5,466L91,466.2L92.5,468.7L93.5,469.1L94,469.6L95.5,472.8L99,488.9L101,496.6L102.5,501.1L104,503.5L107,506.8L109,509.7L110,510.7L110.5,510.8L112,510.3L116.5,507.1L118.5,505.2L120,503.2L121,500.7L122.5,495.7L124.5,482.3L125,479.9L125.5,479L126.5,480.3L128.5,484.4L131,488.5L132.5,489.8L134.5,490.2L136,489.8L139.5,485.3L144,482.2L145,481.7L146.5,481.8L147,481.6L148.5,480.1L150,479.6L150.5,477.5L151,466.4L153.5,388.1L154.5,371.4L155,368.8L155.5,369.6L156.6,373.8L157.6,380.7L159.1,401.8L160.6,434.8L162.6,467.5L164.1,481L164.6,483.9L165.1,484.7L165.6,481.6L166.1,475.2L168.6,437.7L169.6,430.8L170.1,428.9L170.6,428L171.1,428.5L171.6,430.3L174.6,446.6L175.6,450.8L177.1,454.5L178.1,455.9L178.6,456.1L179.6,455.6L181.6,453.8L182.6,453.7L187.1,454.3L190.6,455.8L194.1,456.5L197.6,457.9L201.1,458.1L205.1,459.1L211.1,458.3L215.6,456.1L218.6,455.7L222.6,454.5L225.6,454.7L229.1,454.2L232.6,454.8L236.1,454.5L239.7,455.1L242.7,454.6L246.7,455.1L249.7,454.7L253.7,455.3L256.7,454.9L260.2,455.7L263.7,455.5L267.2,456L270.7,455.1L274.2,454.9L277.7,453.8L281.2,454L284.7,453.5L286.2,453.8L287.2,455.8L288.7,461.4L292.7,486.5L293.2,488.4L293.7,489.1L294.7,488.9L295.7,487.9L296.2,485.4L298.2,466.3L300.7,448.3L301.2,446.5L301.7,445.7L302.7,444.8L303.7,444.4L304.2,444.6L305.2,446.6L308.2,456.5L308.7,457.1L309.2,457.3L310.2,456.9L313.2,454.7L316.7,454.7L319.7,453.9L322.8,453.7L326.3,453L329.8,453.7L333.3,453.6L336.8,454.6L340.3,454.5L343.8,455.1L347.3,454.5L350.8,454.7L354.3,453.8L357.8,454L361.3,453.3L364.8,453.8L368.3,453.3L371.8,453.8L374.8,453.2L378.8,453.6L382.3,453.1L385.3,453.6L389.3,453.5L392.3,454.5L396.3,454.7L399.3,455.7L402.8,455.6L406.4,456.1L409.9,455.2L413.4,455L416.9,453.6L420.4,453.4L422.9,452.6L424.4,452.5L427.4,452.9L430.9,452.8L434.4,454L437.9,454.4L441.4,455.9L444.4,456.1L448.4,457.2L451.4,456.9L454.9,457.2L458.4,456.2L462.4,456L465.4,455.1L468.9,455.2L472.4,454.5L475.9,454.8L479.4,454.3L482.9,454.6L486.4,454L490,454.5L493.5,454.1L497,454.9L500.5,454.9L504,455.8L507,455.5L510.5,456.1L514,455.5L517.5,455.5L521.5,454.6L524.5,454.8L528,454.2L531,454.9" fill="none" stroke="#404040" stroke-opacity="0.106" stroke-width="0.9"/>
<path d="M37.9,515.3L40.9,515.1L41.9,513.8L42.4,508.3L43.9,478L44.4,476.6L45.4,478L45.9,479.6L47.4,486.6L48.9,491.2L50.4,493.9L51.9,496L55.9,500.2L58.4,502L62.4,504.2L68.4,505.9L70.4,505.8L73,505L74,504.3L75.5,502.5L78.5,497.8L81,492.9L83.5,487.2L85,482.6L86,478.3L87,471.8L90,447L90.5,444L91,443.4L92,445.8L93,449.9L95.5,466.2L97.5,477.3L99,484.4L101.5,494.6L102.5,497.7L103.5,499.8L107,504.2L109,507.4L110,508.5L111,508.6L112,508L116,504.7L118,502.6L119.5,500.2L121,496L122.5,490.3L124.5,476.2L125,473.6L125.5,472.6L127,473L128.5,474L131,477.5L132,478.4L133,478.3L136.5,476.9L141,472.1L143,470.7L144.5,470.6L148,471.3L150,473.4L150.5,470.3L151,457.1L153.5,371.1L154.5,352.2L155,350.2L155.5,351.4L156.6,357.4L157.6,367.4L159.1,392.5L160.6,427.8L162.1,454.8L163.1,467.7L164.1,476.6L164.6,479.4L165.1,479.8L166.1,468.7L168.6,428.4L169.6,421.1L170.1,419L170.6,418.3L171.1,419.2L171.6,421.5L173.1,430.4L175.1,440.2L177.1,445L178.1,446.6L178.6,446.9L179.6,446.7L182.1,444.3L183.6,444L187.6,444.8L191.1,444.8L194.6,445.8L197.6,445.8L201.1,446.9L204.6,447.3L207.1,448.1L208.6,448.3L211.6,447.6L215.1,447.2L218.6,446L222.1,445.9L225.6,444.8L229.1,444.8L232.6,444.1L236.1,444.3L239.2,443.8L243.2,444.2L246.7,443.7L250.2,444.3L253.7,444L256.7,444.6L260.2,444.5L263.7,445.4L267.2,445.2L270.2,445.7L274.2,444.9L277.7,445.1L281.2,444.4L284.2,444.8L286.2,444.6L286.7,445.3L287.2,446.7L288.7,453.1L292.2,478.1L293.2,482.3L293.7,482.5L295.2,481.4L295.7,480.4L296.2,477.4L298.2,457.9L300.7,439L301.2,437.1L301.7,436.2L302.7,435L303.7,434.6L304.2,434.8L304.7,435.6L307.2,442.9L308.2,445L308.7,445.4L310.2,445.2L314.7,444L319.2,444.9L323.3,444.1L326.3,444.4L330.3,443.8L333.3,444.1L336.8,443.4L340.3,443.7L343.8,443L347.3,443.3L350.8,442.5L354.3,442.9L357.8,442.3L361.3,442.7L364.8,442.4L368.3,443L371.8,442.8L374.8,443.5L378.3,443.3L381.8,443.9L385.3,443.6L388.8,444.2L392.3,443.8L395.8,444.3L399.3,443.7L402.8,444L406.4,443.3L409.9,443.6L413.4,442.9L416.9,443.3L420.4,442.9L423.9,443.5L426.9,443.2L430.9,444L433.9,443.7L437.4,444.5L440.9,444.3L444.4,445.2L447.9,445.1L451.9,445.9L454.9,445.5L458.4,445.9L461.9,445.1L465.4,445.2L468.9,444.4L472.4,444.6L475.9,444L479.4,444.4L482.9,443.8L485.9,444.3L490,443.9L493.5,444.4L496.5,444.1L500,444.6L503.5,444.3L507.5,444.8L510.5,444.4L514,444.9L517.5,444.5L521,445L524.5,444.7L528,445.4L531,445.2" fill="none" stroke="#404040" stroke-opacity="0.090" stroke-width="0.9"/>
<path d="M37.9,515.3L40.9,515.3L41.4,515L41.9,514.4L42.4,512.6L43.9,482.5L44.4,476.6L44.9,476.8L45.9,478.4L47.9,487L48.9,490.2L49.9,492.4L52.4,496L56.9,500.6L63.4,504.5L66.9,505.6L69.4,506L71.4,505.8L73.5,505L74.5,504.2L76,502.2L78.5,498.3L81,493.3L84,486.2L85.5,481.3L87,473L90,446.1L90.5,442.2L91,440.4L91.5,441.1L92,442.8L93,447.4L95.5,464L98,478.3L99.5,485.5L102,495.4L103,498.3L104,500.2L107,504L109.5,507.7L110.5,508.5L111.5,508.4L112.5,507.8L116,504.7L118.5,501.9L120,499.4L121.5,494.9L123,488.6L124.5,477.5L125.5,472.5L126,472.3L126.5,472.4L129,474.3L132,478.6L132.5,479L133.5,479.2L135,478.8L136.5,477.8L143,470.8L144.5,469.8L146,469.8L148,470.5L148.5,470.8L150,472.4L150.5,472.5L151,464.3L153.5,375.1L154.5,353.6L155,348.2L155.5,348.4L156.1,350.4L157.6,362L159.1,385.4L161.1,431.9L162.6,458.2L164.1,474.3L164.6,478L165.1,479.9L165.6,478.5L166.1,472.8L169.1,426.5L170.1,420.6L170.6,419L171.1,418.9L171.6,420.4L174.6,437.1L175.6,441.5L177.1,444.7L178.1,446.1L178.6,446.5L179.6,446.3L182.6,443.8L185.1,443.3L186.6,443.5L189.1,444.3L192.6,444.6L196.1,446.1L199.6,446.6L202.6,447.7L204.1,447.9L210.1,447.7L213.6,446L220.6,444.2L224.1,444.5L227.6,444.2L231.1,445L234.1,444.6L237.6,445L241.2,444L245.2,443.8L248.2,443L251.7,443.3L254.7,443L256.2,443.3L258.7,444.2L262.2,444.6L264.7,445.6L266.2,445.9L269.2,445.5L272.7,445.5L276.2,444.2L279.7,443.9L282.7,443.1L286.2,443.6L286.7,444L287.2,445.2L288.7,451.2L292.7,479.3L293.2,481.7L293.7,482.8L294.7,482.5L295.7,481.5L296.2,479.5L298.7,456.3L300.2,444.7L301.2,438.7L301.7,437.4L302.7,435.8L303.7,434.9L304.2,434.8L304.7,435.2L305.2,436.2L307.7,443.7L308.7,445.2L309.2,445.2L312.7,443.2L316.2,442.8L321.2,443.5L324.8,443.2L328.3,444.2L331.8,444L334.8,444.4L338.8,443.4L342.3,443.2L345.8,442.1L349.3,442.2L352.3,441.6L356.3,442.5L359.8,442.5L363.3,443.4L366.3,443.1L369.8,443.4L373.3,442.5L376.8,442.5L380.3,441.8L383.8,442.3L387.3,442.3L390.8,443.6L394.3,443.8L397.8,444.7L401.3,444.1L404.3,444.2L408.4,442.9L411.4,442.8L415.4,441.9L418.9,442.6L421.9,442.6L425.4,443.8L428.9,443.8L432.4,444.6L435.9,443.9L439.4,444L442.9,443.3L446.4,443.8L449.4,443.7L453.4,445L456.9,445.1L460.4,446.1L463.9,445.6L467.4,445.6L470.9,444.4L473.9,444.2L477.9,443L480.9,443.3L484.9,443L487.9,443.8L491.5,443.9L495.5,444.8L498.5,444.4L502,444.6L505.5,443.7L509,443.7L512.5,443.1L516,443.8L519,443.9L523,445.2L526,445.4L529.5,446.3L531,446.3" fill="none" stroke="#404040" stroke-opacity="0.098" stroke-width="0.9"/>
<path d="M37.9,515.3L40.9,515.3L41.4,515.1L41.9,514.6L42.4,513.5L44.4,474.1L44.9,473.1L45.9,474.6L48.4,485.2L49.4,488.4L50.4,490.6L51.9,493.2L53.4,495.2L55.4,497.5L57.9,499.7L64.4,503.3L67.9,504.2L70.4,504.5L73,503.9L74.5,502.9L78,497.9L80.5,493L84,484.1L85.5,479L86.5,474.2L87.5,466.1L90,435.3L91,426.6L91.5,426.7L92.5,432L96,462.1L98.5,476.5L101,488.2L102.5,493.9L104,497.5L109.5,505.7L110.5,506.7L111.5,506.8L112.5,506.3L116,503L119,499.1L120.5,495.9L123,486.2L125,471L125.5,468.2L126,467L127,466.5L129.5,466.3L132.5,468.9L134.5,468.9L136.5,467.8L139.5,464.2L143.5,461.4L145,460.8L146,461.1L147,462.2L149.5,467.4L150,468.4L150.5,468.8L151,464.1L151.5,449.3L154,356.6L155,338.1L155.5,337L156.1,338.9L157.1,346.3L158.1,357.7L159.6,384.7L161.1,422.2L162.6,450.9L163.6,464.2L164.6,473.2L165.1,475.8L165.6,475.6L166.1,470.9L169.1,421.4L170.1,413.9L170.6,411.9L171.1,411.2L171.6,412.1L172.1,414.2L175.6,433.2L177.6,438.2L178.6,439.4L179.1,439.6L182.6,437.4L186.6,437.2L190.1,438L193.6,437.9L197.1,438.8L200.6,438.8L204.6,440.1L207.6,440.1L210.6,440.5L212.1,440.2L214.6,439.2L218.1,438.8L221.6,437.7L225.1,437.5L228.6,436.5L232.1,436.6L235.6,435.9L239.2,436.3L242.2,435.8L245.7,436.3L249.7,435.9L252.7,436.3L256.7,435.9L259.7,436.5L263.2,436.4L266.7,437.2L270.2,436.8L273.7,437.3L277.2,436.7L280.7,437.2L284.2,436.9L286.2,437.3L286.7,437.7L287.2,438.8L288.7,445.2L289.7,451.3L292.7,474L293.7,478.3L294.2,478.5L295.7,477.2L296.2,475.8L297.2,467.9L298.7,452.4L301.2,433.7L302.2,431L303.2,429.4L304.2,428.5L304.7,428.5L305.2,429.2L308.2,437.5L308.7,438.3L309.2,438.5L311.7,437L313.2,436.4L316.2,436.7L321.7,436.7L325.8,435.7L329.3,435.8L332.8,435.1L336.3,435.3L339.8,434.7L343.3,435.1L346.8,434.5L350.3,434.8L353.8,434.2L357.3,434.6L360.8,434L363.8,434.5L367.8,434.1L371.3,434.7L374.3,434.5L377.8,435.3L381.3,435.1L384.8,435.9L388.3,435.7L391.8,436.4L395.3,436L398.8,436.5L402.3,436L405.8,436.4L408.9,435.8L412.9,436.1L416.4,435.5L419.4,436L423.4,435.5L426.9,435.9L429.9,435.4L433.9,435.9L436.9,435.4L440.4,436L443.9,435.8L447.4,436.8L450.9,436.7L454.9,437.5L457.9,437.1L461.4,437.4L464.9,436.6L468.4,436.8L471.9,436.1L475.4,436.4L478.9,435.9L482.4,436.5L485.9,436L488.9,436.6L492.5,436.2L496,436.7L499.5,436.3L503,436.9L507,436.6L510,437.2L513.5,436.9L517,437.6L520.5,437.4L524,438.1L527.5,437.8L531,438.4" fill="none" stroke="#404040" stroke-opacity="0.119" stroke-width="0.9"/>
<path d="M37.9,515.3L41.4,515.2L42.4,514L42.9,508.9L44.4,477.4L44.9,475.1L45.9,476.5L46.4,477.9L47.9,484.8L49.9,490.8L51.4,493.6L52.9,495.7L56.9,499.8L59.4,501.7L62.9,503.6L65.4,504.6L68.4,505.3L70.9,505.3L73.5,504.6L74.5,503.9L76,502L79,497.3L81,493.3L84,485.8L86,479.2L87.5,469.7L90.5,438.4L91,435L91.5,434.5L92.5,438.8L93.5,445.1L96,463.9L99,480.4L101.5,491.5L103,496.6L104,498.7L107.5,503.5L109.5,506.7L110.5,507.8L111.5,507.9L112.5,507.4L116,504.4L118.5,501.5L120.5,498L121.5,495L123,489.1L125,474.3L125.5,471.4L126,470.1L127,469.9L129.5,471.3L132.5,474.3L135.5,474.6L136.5,474.3L137,473.8L140,470.1L144.5,467.6L146,467.3L147.5,468.3L150.5,472L151,469.5L151.5,456.9L154,367L155,347.6L155.5,345.3L156.1,346.6L156.6,349.4L158.1,362.6L159.6,387.2L161.1,423.4L162.6,451.8L164.1,470.3L165.1,477.5L165.6,478.1L166.1,474.5L166.6,467.4L169.1,426.2L170.1,418.5L170.6,416.4L171.1,415.5L171.6,416.1L172.1,418.1L175.1,434.6L176.1,438.9L177.6,442.7L178.6,444.2L179.1,444.5L180.1,444L181.6,442.6L182.6,442.1L184.6,442.3L188.1,442.1L191.6,442.7L195.1,442.4L198.6,443L201.6,442.9L205.6,444.1L208.6,444.1L211.6,444.5L212.6,444.4L216.1,443.4L219.1,443.5L222.6,442.7L226.1,442.7L229.6,441.7L233.1,441.7L236.6,440.8L240.2,441L243.2,440.5L247.2,441L250.7,440.8L254.2,441.6L257.2,441.3L260.7,442.2L264.2,442.1L267.7,442.7L271.2,441.9L274.7,441.9L278.2,440.9L281.7,441.2L285.2,440.8L286.7,441.2L287.7,443.8L289.2,450.7L292.7,475.9L293.7,480.6L294.2,481.1L294.7,481L295.7,480.3L296.2,479.3L296.7,476.5L298.7,456.6L301.2,437.8L301.7,435.8L302.2,434.9L303.2,433.5L304.2,432.7L304.7,432.6L305.7,434.1L308.2,441.6L309.2,443L310.2,442.8L312.7,440.9L313.7,440.4L317.2,440.9L320.2,440.5L323.8,440.6L326.8,440.1L330.3,440.8L333.8,440.5L337.8,441.1L340.8,440.6L344.3,440.9L347.8,440L351.3,440L354.8,439.1L358.3,439.4L361.8,438.8L364.8,439.5L368.8,439.4L371.8,440.3L375.8,440.2L379.3,440.9L382.8,440.4L386.3,440.8L389.8,440.2L393.3,440.5L396.3,440L399.8,440.5L403.8,440.2L406.9,440.8L410.4,440.4L413.9,441L417.4,440.5L420.9,440.9L424.4,440.3L427.9,440.6L431.4,439.9L434.9,440.4L437.9,440.1L441.9,441L445.4,441.3L448.9,442.5L451.9,442.5L455.4,443.3L458.9,442.8L462.4,442.9L465.9,441.9L469.4,441.8L472.9,440.8L476.4,441.1L479.9,440.6L483.4,441.2L486.9,440.9L490,441.5L494,441.1L497,441.6L501,441L504,441.4L507.5,440.8L511,441.2L514.5,440.8L518,441.6L521.5,441.5L525.5,442.6L528.5,442.6L531,443.2" fill="none" stroke="#404040" stroke-opacity="0.122" stroke-width="0.9"/>
<path d="M37.9,515.3L40.4,515.2L41.4,514.1L41.9,510.5L43.4,480.9L43.9,477.6L44.9,478.8L45.4,480L46.9,486.7L48.9,492.5L51.4,496.4L55.9,500.9L58.4,502.7L62.4,504.8L64.4,505.6L67.4,506.3L69.9,506.4L71.9,505.9L73,505.5L74.5,503.9L78,498.9L80,495.2L83.5,487.3L85,482.7L86.5,474.5L89.5,451.6L90,448.5L90.5,447.7L91.5,450.2L93,455.8L98,482.3L101.5,496.4L102.5,499L103.5,500.7L109.5,508.7L110.5,508.9L111.5,508.6L115,505.9L118,502.9L119.5,500.6L120.5,498L122,492.6L124,478.7L124.5,476L125,474.7L126,475.2L131,481.3L132,481.9L133,482L134.5,481.8L135.5,481.2L139,476.4L144,472.4L145.5,472.3L147.5,473L149.5,474.4L150,472.8L150.5,462L153,375.8L154,356.5L154.5,353.3L155,354.2L155.5,356.5L156.6,362.9L157.1,368L158.6,391.2L160.6,436.5L162.1,461.9L163.6,476.8L164.1,479.9L164.6,481L165.1,478.2L165.6,471.7L168.1,432.4L169.1,424.6L169.6,422.5L170.1,421.5L170.6,421.9L171.1,423.7L174.1,440.5L175.1,444.9L176.6,448.6L177.6,450L178.1,450.2L179.1,449.8L181.6,447.7L186.1,447.2L190.1,447.7L193.6,447.3L197.1,448.1L200.1,448L204.1,449.4L207.1,449.6L210.6,450.2L214.6,449.2L218.1,449.2L221.6,448.4L224.6,448.5L228.1,447.5L231.6,447.6L235.1,446.7L238.6,446.8L242.2,446L245.2,446.3L249.2,445.8L252.7,446.4L256.2,446.2L259.2,447.1L262.7,447.3L266.7,448.3L270.2,448L273.2,448.3L276.7,447.5L280.2,447.7L283.7,446.9L285.7,447.1L286.2,447.7L286.7,449L288.2,454.8L291.7,478.4L292.7,483.3L293.2,484L294.2,483.6L295.2,482.3L295.7,479.8L297.7,460.2L300.2,441.5L300.7,439.4L301.2,438.4L302.2,437.1L303.2,436.4L303.7,436.4L304.2,437L305.2,439.6L307.2,446.4L308.2,448.2L308.7,448.3L311.7,446.9L312.7,446.7L315.7,447.5L321.7,447.6L325.3,446.8L328.8,446.9L332.3,446.1L336.3,446.2L339.3,445.4L342.8,445.6L346.3,444.9L349.8,445.3L353.3,444.9L356.8,445.5L360.3,445.2L363.8,445.9L367.3,445.7L370.8,446.4L374.3,446L377.8,446.5L381.3,445.9L384.8,446.2L388.3,445.7L391.8,446.1L394.8,445.6L398.3,446.2L401.8,445.8L405.3,446.4L408.9,446L412.4,446.5L415.9,446.1L419.4,446.7L422.9,446.3L426.4,446.7L429.9,446.2L433.4,446.6L436.9,446L440.4,446.6L443.9,446.4L446.9,447.3L450.9,447.3L453.9,448.2L457.9,447.9L460.9,448.5L464.4,447.9L468.4,448.2L471.4,447.5L474.9,447.8L478.4,447L481.9,447.1L485.4,446.2L488.9,446.4L492.5,445.7L496,446.2L499,445.8L503,446.6L506.5,446.5L510,447.3L513.5,447.2L517,448L520,447.8L523.5,448.5L527,448.1L531,448.6" fill="none" stroke="#404040" stroke-opacity="0.111" stroke-width="0.9"/>
<path d="M37.9,515.3L40.9,515.2L41.9,514.2L42.4,511L43.9,483.9L44.4,480.1L45.4,481.3L45.9,482.6L47.4,489.4L48.9,494L50.9,497.2L53.4,500L57.4,503.5L62.4,506.3L68.4,507.8L69.9,507.8L71.4,507.3L73.5,506.5L75.5,504.4L79.5,498.3L83.5,490.8L85.5,485.4L88,473.5L89,470.7L90.5,464.1L91,463.5L93.5,465.7L94.5,468.1L96,473.6L99,487.9L101,495.6L102.5,500.5L104,503.1L107,506.2L109.5,509.9L110.5,510.6L112,510.1L117,506.6L118.5,505.2L120,503L122.5,495.8L124.5,483L125,480.4L125.5,479.3L126,479.6L127,481.1L131,489.1L132,490.2L132.5,490.3L136.5,488.8L137.5,487.8L141,482.8L143,480.8L144,480.3L146.5,479.7L148.5,477.8L150,477.9L150.5,476.7L151,466.9L153.5,386.2L154.5,367.8L155,364.1L155.5,364.6L156.1,366.5L157.1,372.3L157.6,376.9L159.1,398.9L161.1,441.8L162.6,465.7L164.1,480.1L164.6,483.3L165.1,484.6L165.6,482.3L166.1,476.4L168.6,438.8L169.1,433.8L170.1,429.3L170.6,428.3L171.1,428.8L171.6,430.7L173.1,439.7L175.1,449.6L175.6,451.3L177.1,454.6L178.1,456.3L178.6,456.7L179.6,456.5L182.1,453.6L183.1,453.1L184.1,453L187.1,453.5L190.6,453.4L194.1,454.6L197.6,455.1L201.1,456.5L204.1,456.9L208.1,457.9L211.6,456.9L214.6,456.4L218.6,454.8L221.6,454.8L225.6,454L228.6,454.5L232.6,454.3L235.6,454.8L239.2,454.3L242.7,454.4L246.2,453.4L249.7,453.3L253.7,452.3L256.7,452.6L260.2,452.6L263.7,454L267.2,454.5L270.7,455.6L274.2,455.3L277.7,455.6L280.7,454.8L284.2,454.7L286.2,454L286.7,454.3L287.7,456.6L288.7,460.2L292.2,482.5L293.2,487.1L293.7,487.7L294.7,487.3L295.7,486.3L296.2,484L298.2,465.3L300.7,446.4L301.2,444.3L301.7,443.3L302.7,442.4L303.2,442.2L304.2,442.6L304.7,443.4L308.2,454.2L308.7,455L310.2,455.4L311.2,455.2L314.7,454L318.7,454.6L319.7,454.4L322.8,453.3L326.3,453.4L329.3,452.8L333.3,453.5L336.8,453.3L340.3,454.2L343.8,453.8L346.8,454.1L350.8,453L354.3,452.8L357.3,451.6L360.8,451.5L364.3,450.9L367.8,451.7L371.3,451.9L374.8,453.3L378.3,453.6L380.8,454.4L382.3,454.6L385.3,454.3L388.8,454.6L391.8,453.7L395.8,453.6L399.3,452.7L402.8,453L406.4,452.5L409.4,453.2L412.9,452.9L416.9,453.6L419.9,453.2L423.4,453.6L426.9,452.9L430.4,453.2L433.9,452.7L437.4,453.4L440.9,453.6L444.4,455L447.9,455.4L450.4,456.2L451.9,456.5L454.9,456.1L458.4,456.1L461.4,454.9L464.9,454.4L468.9,453L472.4,453.1L474.9,452.8L476.4,452.9L479.4,453.7L482.4,453.7L486.4,454.8L489.5,454.5L493,454.9L496.5,454.1L500,454.1L503.5,453.2L507,453.4L510,453L514,453.8L517.5,453.8L521,454.8L524.5,454.8L528,455.4L531,455" fill="none" stroke="#404040" stroke-opacity="0.116" stroke-width="0.9"/>
<path d="M37.9,515.3L40.4,515.2L41.4,514.2L41.9,510.8L43.4,482.9L43.9,480.2L44.9,481.6L45.4,482.9L46.9,489.5L48.4,493.9L50.4,497.1L52.4,499.4L57.9,503.8L60.4,505.2L62.9,506.3L65.9,507.2L67.9,507.6L69.9,507.5L72.5,506.8L73.5,506.2L74.5,505.1L78.5,499.2L81,494.8L84,488.3L85.5,483.3L87.5,471.9L90,461L90.5,460.9L93,466.7L95.5,473.7L99,489.6L101,497.3L102,500.3L103.5,502.9L106.5,506.2L109,509.9L110,510.5L111.5,510L116,506.8L118,504.8L119.5,502.6L120.5,500.2L122,495.3L124,482L124.5,479.3L125,478L125.5,478.2L126.5,479.7L130,486.7L131,488L132,488.5L135,488.6L135.5,488.5L136.5,487.7L139,484L140.5,482.7L144,480.8L146.5,480.1L148,479.2L149.5,478.9L150,477.2L150.5,466.6L153,384.6L154,367L154.5,364L155,365.1L155.5,367.2L157.1,377.5L158.6,398.6L160.6,441.4L162.1,465.5L163.6,479.7L164.1,482.7L164.6,483.8L165.1,481.2L165.6,474.8L168.1,436.5L168.6,431.7L169.6,427.4L170.1,426.6L170.6,427.2L171.1,429.2L172.6,437.9L175.1,450L177.1,455.1L178.1,456.3L179.1,456L181.1,453.8L182.1,453.4L185.1,454L188.6,453.8L192.1,454.6L195.6,454.4L198.6,455.2L202.1,455.3L205.1,456.3L206.6,456.5L209.1,456.2L212.6,456.1L216.1,454.9L219.6,454.8L223.1,453.9L226.6,454L230.1,453.3L233.6,453.6L237.1,453L240.7,453.3L244.2,452.8L247.7,453.2L250.7,452.8L254.2,453.3L257.7,452.9L261.2,453.7L264.7,453.6L268.2,454.2L271.7,453.6L275.7,453.7L278.7,453.1L282.2,453.6L285.7,453.2L286.2,453.7L286.7,454.9L288.2,460.7L291.7,482.7L292.7,487.2L293.2,487.9L294.2,487.6L295.2,486.7L295.7,484.4L297.7,465.2L300.2,446.3L300.7,444.3L301.2,443.4L302.2,442.4L303.2,442.1L303.7,442.2L304.7,444L307.7,453.4L308.2,454.2L309.2,454.6L310.2,454.4L313.2,452.7L314.2,452.8L317.2,453.7L320.7,453L324.3,453.1L327.3,452.6L330.8,453.1L334.3,452.6L337.8,453L341.3,452.5L344.8,452.9L348.3,452.1L351.8,452.4L355.3,451.7L358.8,452L362.3,451.4L365.8,452L369.3,451.6L372.8,452.4L376.3,452.1L379.8,452.8L383.3,452.5L386.8,453.1L390.3,452.7L393.3,453.3L396.8,452.8L400.8,453.2L403.8,452.6L407.4,453L410.9,452.3L414.4,452.7L417.9,452.2L421.4,452.7L424.9,452.3L428.4,452.9L431.9,452.5L435.4,453.2L438.9,452.9L442.4,453.8L445.9,453.8L448.9,454.6L452.4,454.5L455.9,455.1L459.4,454.5L462.9,454.7L466.4,453.8L469.9,454L473.4,453.2L476.9,453.5L480.4,452.9L483.9,453.3L487.4,452.8L491,453.3L494.5,452.8L498,453.4L501.5,453L505,453.5L508,453.1L511.5,453.6L515.5,453.2L518.5,453.8L522,453.5L525.5,454.3L529,454.1L531,454.6" fill="none" stroke="#404040" stroke-opacity="0.088" stroke-width="0.9"/>
<path d="M37.9,515.3L40.9,515.2L41.9,514.1L42.4,510.5L43.9,478.9L44.4,475.2L45.4,476.4L45.9,477.7L47.4,484.8L49.4,490.8L52.4,495.5L54.4,497.9L56.4,499.7L58.4,501.1L62.9,503.7L68.9,505.3L70.9,505.2L73.5,504.3L74.5,503.4L76,501.5L78.5,497.5L81.5,491.4L84,485.3L85.5,480.1L87,471.2L90,442.5L90.5,438.5L91,437L91.5,437.6L92,439.3L93,444.1L95.5,463.2L96.5,469.2L98.5,480L101.5,492.7L102.5,496L103.5,498.3L110,507.5L111,507.7L112,507.3L116,503.9L118.5,501.1L120,498.3L122.5,489.7L124.5,475.7L125,472.8L125.5,471.3L126,471.1L127,471.2L129,472.1L131.5,475.5L132.5,476L134,475.5L136.5,474L142,467.9L143.5,466.8L145,466.7L147,467.3L148.5,468.7L150,471L150.5,469.7L151,458.8L153.5,368.5L154.5,347.4L155,343.7L155.5,344.5L156.1,346.9L157.6,360.3L159.1,385.5L160.6,421.6L162.1,450.4L163.6,469.4L164.6,477.2L165.1,478.4L165.6,475.7L166.1,469.1L168.6,428L169.6,419.4L170.1,417L170.6,415.9L171.1,416.3L171.6,418.3L175.1,437.6L175.6,439.3L177.1,442.6L178.6,444.6L179.6,444.6L182.6,442.1L184.6,441.7L188.1,442.2L191.6,441.7L195.1,442.4L198.6,442.2L202.1,443.3L205.1,443.5L209.1,444.7L212.6,444L215.6,444L219.1,443.1L223.1,443.2L226.6,442.2L229.6,442.3L233.1,441.4L236.6,441.5L240.2,440.6L243.7,440.8L247.2,440.3L250.7,440.8L254.2,440.5L257.7,441.3L261.2,441.5L264.7,442.6L268.2,442.5L271.2,442.9L275.2,442.1L278.7,442.1L281.7,441.4L286.2,441.4L286.7,442L287.2,443.2L288.7,449.5L292.2,475.1L293.2,480L293.7,480.6L294.7,480L295.7,478.6L296.2,476.1L298.2,456.8L300.7,437.5L301.2,435.2L301.7,434.1L302.7,432.6L303.7,432L304.2,432.1L304.7,432.7L307.7,441.3L308.7,442.7L314.2,441.5L316.2,441.5L319.7,442.2L323.8,441.1L327.3,441.1L330.8,440.2L333.8,440.3L337.3,439.5L341.3,439.8L344.3,439.2L347.8,439.8L351.3,439.4L354.8,440.1L358.3,439.8L361.8,440.4L365.3,440L368.8,440.5L372.3,439.9L375.8,440.3L379.3,439.6L382.8,440L386.3,439.5L389.8,440.1L393.3,439.9L396.8,440.7L400.3,440.6L403.8,441.3L406.9,440.9L410.9,441.3L414.4,440.6L417.4,440.9L420.9,440.1L424.4,440.4L427.9,439.7L431.4,440.2L434.9,439.8L438.4,440.5L441.9,440.6L445.4,441.8L448.9,442L452.4,443.1L455.9,442.9L458.9,443.4L462.9,442.5L465.9,442.6L469.4,441.5L472.9,441.4L476.4,440.6L479.9,440.8L483.4,440.2L486.9,440.7L490.5,440.4L494,441.2L497.5,441L501,441.8L504.5,441.5L508,442.1L511.5,441.6L515,441.9L518.5,441.3L522,441.8L525.5,441.4L528.5,442L531,441.9" fill="none" stroke="#404040" stroke-opacity="0.094" stroke-width="0.9"/>
<path d="M37.9,515.3L40.4,515.3L41.4,514.9L41.9,514.3L42.4,511.8L43.9,485.6L44.4,480.9L45.4,481.9L45.9,483L47.4,489.5L48.9,494.1L50.4,496.8L52.4,499.1L57.9,503.8L63.4,506.5L68.4,507.7L70.4,507.7L71.9,507.3L73.5,506.7L74.5,505.8L78,501.2L80.5,497.2L84,490.5L85.5,486.6L88,475.1L89,472.4L90.5,466.2L91,465.6L92.5,467.1L93.5,467L94,467.5L95,469.7L96,473.3L99,487.8L101,495.4L102.5,500.1L104,502.9L107,506.3L109.5,509.8L110.5,510.6L112,510.2L117,506.8L119,505L120,503.7L121,501.3L122.5,496.4L124.5,483.5L125,480.9L125.5,479.7L126.5,480.9L128.5,484.8L131.5,489.4L132.5,490.2L133.5,490.4L134.5,490.2L136,489.3L139,485.3L144,480.7L145,480.4L146.5,480.6L147,480.5L148.5,479.1L150,478.7L150.5,478L151,469.1L153.5,389.5L154.5,371.7L155,367.5L155.5,367.8L156.1,369.3L157.1,374.1L158.1,383.7L159.1,398.8L161.1,441.7L162.6,465.6L164.1,479.8L164.6,483.1L165.1,484.5L165.6,482.6L166.1,476.9L169.1,434L170.1,429.1L170.6,427.8L171.1,427.9L171.6,429.5L174.6,446.1L175.6,450.6L177.1,454.1L178.1,455.6L178.6,455.9L179.6,455.7L182.1,454L185.6,454L187.1,454.3L190.1,455.6L193.6,456L196.6,457L200.6,457L204.1,457.7L207.1,457.3L210.6,457.2L214.6,455.6L217.6,455.4L220.6,454.8L224.6,455.3L228.1,455L232.1,455.6L235.1,455L238.6,455L242.2,454L245.7,453.9L249.2,453.1L252.7,453.6L256.2,453.4L259.2,454.4L262.7,454.8L266.7,456L269.7,455.6L273.2,455.7L276.7,454.6L280.2,454.5L283.7,453.7L286.2,453.9L286.7,454.3L287.2,455.3L288.7,460.4L292.7,485.5L293.2,487.7L293.7,488.6L294.7,488.4L295.7,487.4L296.2,485.3L298.2,466.5L300.7,448.1L301.2,445.9L301.7,444.9L302.7,443.7L303.7,443.2L304.2,443.3L304.7,444L305.7,446.8L307.7,454L308.7,456L309.2,456.2L313.2,454.4L321.7,454.3L325.3,453.6L328.8,454.1L332.8,453.8L336.3,454.3L339.3,453.8L342.8,454.1L346.3,453.3L349.8,453.5L353.3,452.8L356.8,453.2L360.3,452.7L363.3,453.3L367.3,453L370.8,453.6L374.3,453.2L377.3,453.7L380.8,453.2L384.8,453.8L387.8,453.5L391.3,454.2L394.8,454.1L398.8,454.8L401.8,454.3L405.3,454.5L408.9,453.6L412.4,453.7L415.9,452.9L419.4,453.4L422.4,453.1L426.4,454L429.9,454L433.4,454.8L436.9,454.5L440.4,455L443.9,454.5L447.4,455L450.4,454.6L453.9,455.3L457.4,455.1L460.9,455.9L464.4,455.6L467.9,456.2L471.4,455.5L474.9,455.5L478.4,454.4L481.9,454.2L485.4,453.2L488.9,453.4L492,453L496,454L499.5,454.2L503,455.2L506.5,455L510,455.5L513,454.8L516.5,454.8L520.5,454L523.5,454.4L527,454.2L531,455.4" fill="none" stroke="#404040" stroke-opacity="0.110" stroke-width="0.9"/>
<path d="M37.9,515.3L40.9,515.3L41.4,515.1L41.9,514.6L42.4,513.5L44.4,480.3L44.9,479.5L45.9,481L47.9,489.3L49.4,493.4L51.9,497.2L55.4,500.8L58.4,503.1L60.9,504.6L63.4,505.7L67.4,506.9L69.4,507.2L71.4,506.9L73.5,506.3L75,505L78.5,500L80.5,496.7L83.5,490.7L85,486.9L86,483.6L89,468.9L90.5,459.1L91,456.8L91.5,456.3L92,456.8L93,458.7L94,461.3L99,485L102.5,498.6L104,501.7L107,505.2L109.5,509L110.5,509.9L111,510L112,509.7L117,506.2L119,504L120.5,501.5L122,497.3L123,493.5L125,479.7L125.5,477.6L126,477.1L127.5,478.8L131,484.5L132,485.5L132.5,485.7L136.5,485.3L137.5,484.3L140,480.6L141.5,479.3L143,478.5L146.5,477.3L148.5,476.3L149,476.3L150.5,477L151,472.5L151.5,459L154,378.5L155,361.8L155.5,360.5L156.1,361.9L157.1,367.3L158.1,376.5L159.6,400.3L161.1,434L162.6,459.8L163.6,471.8L164.6,480.1L165.1,482.6L165.6,482.5L166.1,478L169.1,432.8L170.1,426.8L170.6,425.1L171.1,424.7L171.6,425.9L172.1,428.3L175.6,446.6L177.6,452L178.6,453.5L179.1,453.7L180.1,453.2L182.1,450.9L183.1,450.6L186.1,451.2L189.6,451.1L193.1,452.1L196.6,452.2L199.6,453.2L203.1,453.4L207.1,454.6L213.6,453.9L217.1,452.5L220.6,452.3L224.1,451.2L227.6,451.3L231.1,450.6L234.6,451L238.1,450.6L241.7,451.1L245.2,450.7L248.7,451.2L251.7,450.7L255.2,451.1L258.7,450.6L262.2,451.3L265.7,451.1L269.2,451.7L272.7,451.1L276.2,451.4L279.7,450.8L283.2,451.3L286.7,451L287.7,453.2L289.2,459.4L292.7,482.4L293.7,486.3L294.2,486.5L295.7,485.7L296.2,484.5L297.2,476.9L298.7,461.8L301.2,443.6L301.7,442L302.2,441.4L303.7,440.3L304.2,440.3L304.7,440.6L305.2,441.5L308.2,450.5L308.7,451.5L309.2,452.1L309.7,452.2L311.2,451.9L313.2,450.6L314.2,450.3L315.2,450.4L318.2,451.4L321.7,450.7L325.3,450.9L328.3,450.3L331.8,450.7L335.3,450.1L338.8,450.5L342.3,449.8L345.8,450.2L349.3,449.5L352.8,449.9L356.3,449.3L359.8,449.7L363.3,449.2L366.8,449.8L369.8,449.4L373.8,450L376.8,449.6L380.8,450.2L384.3,449.8L387.3,450.4L390.8,450.1L394.3,450.8L397.8,450.4L401.3,450.9L404.8,450.4L408.4,450.7L411.9,450L415.4,450.3L418.9,449.7L422.4,450.2L425.9,449.7L429.4,450.3L432.9,450L436.4,450.8L439.4,450.5L443.4,451.5L446.9,451.5L449.9,452.4L453.4,452.2L456.9,452.6L460.4,451.9L463.9,452.1L467.4,451.3L470.9,451.4L474.4,450.8L477.9,451.2L481.4,450.6L484.9,451.1L488.4,450.6L492,451L495,450.5L499,450.9L502.5,450.4L505.5,450.9L509,450.5L512.5,451.1L516,450.8L519.5,451.5L523,451.3L526.5,452.2L529.5,452L531,452.2" fill="none" stroke="#404040" stroke-opacity="0.115" stroke-width="0.9"/>
<path d="M37.9,515.3L40.9,515.2L41.9,514L42.4,509.1L43.9,478.6L44.4,476.7L45.4,478.1L45.9,479.6L47.4,486.4L49.4,492.3L51.9,496.3L56.4,500.9L58.9,502.7L62.4,504.5L64.4,505.3L67.4,506L69.9,506.1L71.9,505.7L73.5,505L75,503.4L78.5,498.2L80.5,494.4L84,486.3L85.5,481.5L87,472.9L90,448.2L90.5,445.2L91,444.7L91.5,445.8L93,451.7L98,479.7L101.5,494.6L102.5,497.6L103.5,499.6L107,504.2L109,507.4L110,508.4L111,508.5L112,508.1L115.5,505.4L118.5,502.2L120,499.7L121,497L122.5,491.5L124.5,477.3L125,474.8L125.5,473.8L126.5,474.4L131.5,480L132.5,480.6L133.5,480.7L135,480.4L136,479.8L139.5,474.9L144.5,471L145.5,470.9L147,471.3L148,471.9L150,473.7L150.5,471.1L151,458.5L153.5,372L154.5,353.3L155,351.1L155.5,352.4L156.6,358.1L157.6,367.3L159.1,391.5L160.6,427.1L162.1,454.7L163.6,472.5L164.6,479.5L165.1,480.1L165.6,476.5L166.1,469.5L168.6,429.6L169.6,422.3L170.1,420.2L170.6,419.3L171.1,420L171.6,422L174.6,438.5L175.6,442.6L177.1,446.2L178.1,447.6L178.6,447.8L179.1,447.7L181.1,446L182.1,445.5L187.1,445.8L190.6,447L193.6,447.1L197.6,448.2L201.1,448.2L203.6,448.9L205.1,449.1L207.6,448.7L211.1,448.5L215.1,446.7L218.6,446.3L222.1,445.4L225.1,445.6L228.6,445.1L232.1,445.7L235.6,445.3L239.2,445.7L242.7,445.2L246.2,445.6L249.7,445.1L253.2,445.6L256.7,445.3L260.2,446.2L263.7,446.2L267.2,447L270.7,446.3L274.2,446.3L277.7,445.2L281.2,445.1L284.2,444.4L286.2,444.6L287.2,447L288.7,453.3L292.2,477.9L293.2,482.5L293.7,483L294.2,482.9L295.2,482.2L295.7,481.3L296.2,478.4L298.2,458.7L300.7,440.4L301.2,438.6L301.7,437.8L302.7,436.6L303.7,435.9L304.2,436L305.2,437.9L307.7,446L308.7,447.6L309.7,447.4L312.2,445.8L313.2,445.5L316.7,445.9L319.2,445.5L322.8,445.5L326.3,444.6L329.8,445L332.8,444.5L336.3,444.9L340.3,444.3L343.3,444.5L346.8,443.6L350.3,443.7L354.3,442.9L357.3,443.3L361.3,442.9L364.3,443.8L367.8,443.8L371.3,444.9L374.8,444.8L378.3,445.5L381.8,445L385.3,445.3L388.8,444.6L392.3,444.8L395.8,444.2L398.8,444.7L402.8,444.3L406.4,444.7L409.4,444.2L412.9,444.6L416.4,443.9L419.9,444.3L423.9,443.8L426.9,444.4L430.4,444.2L434.4,445.2L437.4,445.2L440.9,446.3L444.4,446.4L447.9,447.3L451.4,446.9L454.9,447.2L458.4,446.2L461.9,446.1L464.9,445.2L468.9,445.3L471.9,444.7L475.9,445.3L479.4,445L482.4,445.5L485.9,445L489.5,445.4L493,444.8L496.5,445.3L500,444.9L503.5,445.6L507,445.5L510.5,446.3L514,446L517.5,446.6L521,446.1L524.5,446.4L528,445.8L531,446.2" fill="none" stroke="#404040" stroke-opacity="0.119" stroke-width="0.9"/>
<path d="M37.9,515.3L40.9,515.3L41.4,515L41.9,514.4L42.4,512.8L44.4,481.7L44.9,481.7L45.9,483.5L47.4,490.1L48.9,494.6L50.4,497.1L52.9,499.9L56.9,503.3L61.9,506.2L67.9,508L69.4,508.1L71.4,507.7L73.5,507L75,505.7L78.5,500.8L81.5,496L83.5,492.2L85,488.7L86,485.5L87.5,478.4L89.5,473.8L90.5,469.3L91,468L92.5,468.2L93.5,468L94.5,469.3L95.5,472L99,488L102.5,500.8L104,503.6L107,506.7L109.5,510.4L110.5,511.2L111,511.2L112,510.8L117.5,507L119.5,504.8L120.5,503L122,498.8L123,495.1L124.5,484.7L125.5,480.2L126,480.3L127,481.8L131,490L132,491.2L132.5,491.4L136.5,491.2L137.5,490.3L140,487L141.5,485.6L143.5,484.5L146.5,483.6L149,480.3L150.5,480L151,473.1L153.5,394.3L154.5,375.1L155,369.6L155.5,369.2L156.1,370.5L157.1,375.1L158.1,384.2L159.1,398.6L161.1,440.3L162.6,464.4L164.1,479.4L165.1,484.9L165.6,483.8L166.1,478.6L169.1,435.1L170.1,430.1L170.6,428.8L171.1,428.9L171.6,430.5L173.1,439.4L175.6,451.7L177.6,456.8L178.6,458.3L179.1,458.6L180.1,458.1L181.6,456.5L182.6,455.8L183.6,455.9L186.6,456.7L190.1,456.8L193.6,457.8L197.1,457.8L200.1,458.6L203.6,458.6L207.6,459.4L211.1,458.6L214.1,458.2L217.6,456.8L221.1,456.8L225.1,456L228.1,456.3L231.6,456L235.1,456.6L238.6,456.2L242.2,456.7L245.7,456.1L249.2,456.3L252.7,455.5L255.7,455.7L259.7,455.2L262.7,455.8L266.7,455.7L269.7,456.4L273.2,456L276.7,456.5L280.7,456.3L283.7,456.9L286.7,456.7L287.7,458.8L289.2,464.6L292.7,486.4L293.2,488.6L293.7,489.7L294.7,489.5L295.7,488.7L296.2,487L298.7,464.2L300.2,452.4L301.2,446.5L302.2,444.7L303.2,444L303.7,443.9L304.2,444.1L304.7,444.7L305.2,445.7L308.2,455L308.7,456L309.2,456.4L310.2,456.5L311.2,456.4L313.7,455.1L314.7,455L318.7,456.4L322.2,455.9L325.3,456.4L329.3,456.1L332.3,456.6L336.3,456L339.3,456.2L342.8,455.3L346.8,455.2L349.8,454.3L353.3,454.4L356.8,453.7L360.3,454.2L363.8,454L367.3,454.9L370.8,454.9L374.3,455.9L377.8,455.7L380.8,456.3L384.8,455.8L388.3,456.1L391.8,455.3L395.3,455.5L398.3,454.9L401.8,455.2L405.8,454.7L408.9,455.2L412.9,455L416.4,455.7L419.4,455.6L422.9,456.3L426.4,456L429.9,456.5L433.4,455.8L436.9,456L440.4,455.4L443.9,455.9L446.9,455.7L450.9,456.6L453.9,456.5L457.4,457.4L461.4,457.2L464.4,457.8L467.9,457.4L471.9,457.6L475.4,456.8L478.4,456.9L481.9,455.9L485.4,455.8L488.9,454.8L492.5,455L496,454.5L499.5,455.2L503,455.1L506,456.1L510,456.3L513.5,457.2L517,457L520,457.6L524,457.1L527.5,457.4L531,456.8" fill="none" stroke="#404040" stroke-opacity="0.102" stroke-width="0.9"/>
<path d="M37.9,515.3L40.9,515.1L41.9,513.8L42.4,508.4L43.9,481.5L44.4,480.2L45.4,481.6L47.4,489.8L48.9,493.9L50.9,496.9L53.9,500L57.9,503.1L60.9,504.8L63.4,505.9L67.4,507.1L68.9,507.3L70.4,507.1L73,506.4L74,505.8L75,504.7L78.5,499.6L81.5,494.4L84,489.3L85.5,484.8L87.5,474.3L89,469L90.5,462.2L91,462.2L93,464.5L94.5,468.2L96,473.8L99,487.9L101,495.6L102.5,500.3L104,502.8L106.5,505.3L109,509L110,510L110.5,510.1L111.5,509.8L117,505.7L119,503.4L120,501.6L122.5,493.8L124.5,480.3L125,478L125.5,477.3L126.5,478.3L127.5,479.9L131,486.9L132,488L132.5,488.1L135.5,488L136.5,487.7L137.5,486.8L140,483.6L142,481.7L143.5,481L146.5,480.2L148.5,478.3L150,478.1L150.5,474.9L151,462L153.5,381.8L154.5,364.5L155,362.5L155.5,363.5L156.6,368.4L157.6,376.9L159.1,400L160.6,433.5L162.1,459.2L163.1,471.4L164.1,479.8L164.6,482.5L165.1,482.9L166.1,472L168.6,433.5L169.6,426.9L170.1,425.1L170.6,424.6L171.1,425.6L171.6,428L173.1,437L175.1,446.9L177.1,452.2L178.1,454L178.6,454.4L179.6,454.3L181.6,452.3L182.6,451.9L184.1,452.2L187.1,453.2L190.6,453.6L193.6,454.7L197.1,454.8L200.6,455.7L204.1,455.6L207.1,456.1L208.1,456L211.1,454.9L214.1,454.2L218.1,452.4L221.6,452.3L225.1,451.4L228.6,451.8L231.6,451.5L235.1,452.3L238.6,452.2L242.2,453L245.7,452.7L249.2,453.3L252.7,452.8L256.2,453.1L259.7,452.5L263.7,453L266.7,452.3L270.2,452.4L273.7,451.4L277.2,451.4L280.2,450.9L284.2,451.7L286.2,451.7L287.2,453.7L288.7,459.7L292.2,483.1L293.2,487.3L293.7,487.6L295.2,486.8L295.7,485.9L296.2,483.1L298.2,464L300.7,445.7L301.2,443.9L301.7,443.2L302.7,442.3L303.2,442.1L303.7,442.2L304.2,442.6L304.7,443.5L307.7,452.6L308.2,453.5L308.7,454L309.2,454.1L310.7,453.9L313.7,452.2L314.7,452L318.7,452.4L322.2,451.2L325.8,451.2L329.3,450.5L332.8,450.9L336.3,450.5L339.8,451.2L343.3,451L346.3,451.7L350.3,451.6L353.3,452.3L357.3,451.9L360.3,452.3L363.8,451.6L367.8,451.6L371.3,450.6L374.3,450.7L378.3,449.9L381.3,450.3L384.8,450L388.3,450.9L391.8,451L395.3,452.1L398.8,452.1L402.3,453L405.8,452.6L409.4,453L412.9,452.2L415.9,452.5L419.4,451.7L422.9,451.8L426.4,451L429.9,451.2L433.4,450.5L436.9,451L440.4,450.7L443.9,451.8L447.4,452.2L450.9,453.7L454.4,454L457.9,454.9L461.4,454.5L464.9,454.8L468.4,453.7L471.9,453.5L475.4,452.3L478.9,452.1L482.4,451.1L485.4,451.2L488.9,450.6L492.5,451.1L496.5,450.9L499.5,451.7L503.5,451.7L506.5,452.6L510,452.7L513.5,453.6L517,453.5L520.5,454.2L524,453.7L527.5,454L531,453.3" fill="none" stroke="#404040" stroke-opacity="0.105" stroke-width="0.9"/>
<path d="M37.9,515.3L40.9,515.2L41.9,514.2L42.4,510.8L43.9,483.8L44.4,480.2L45.4,481.4L45.9,482.7L47.4,489.3L48.9,493.7L51.4,497.6L54.9,501L57.9,503.4L60.4,504.9L63.4,506.1L66.9,507.2L68.9,507.4L70.9,507.2L73.5,506.4L74.5,505.5L78.5,499.8L80.5,496.4L83.5,490.2L85,486.3L86,482.8L87.5,474.5L89,467.8L90.5,458.9L91,458.1L91.5,458.6L93,461.6L94.5,466.1L96,472.3L99,486.9L101,495L102.5,499.9L104,502.6L107,506.1L109.5,509.8L110.5,510.5L112,510L116.5,507L118.5,505.1L120,503L121,500.6L122.5,495.7L124.5,482.4L125,479.8L125.5,478.6L126.5,479.5L130.5,486.9L131.5,488.1L132.5,488.5L136,488.2L137,487.2L139.5,483.3L141,482L144.5,479.8L146.5,479.1L148.5,477.8L150,478L150.5,476.6L151,466.5L153.5,384.9L154.5,366.5L155,363L155.5,363.7L156.1,365.7L157.1,371.4L157.6,375.9L159.1,397.5L161.1,440.5L162.6,464.8L164.1,479.3L164.6,482.4L165.1,483.6L165.6,481.1L166.1,474.9L168.6,436.6L169.1,431.7L170.1,427.3L170.6,426.3L171.1,426.8L171.6,428.7L173.1,437.3L175.6,449.3L177.6,454.3L178.6,455.4L179.6,455L181.6,452.7L182.6,452.2L185.1,452.6L189.1,452.4L192.6,453.1L195.6,452.9L199.1,453.9L202.6,454.2L206.6,455.6L209.6,455.5L212.6,455.8L216.6,454.7L220.1,454.9L223.1,454.2L227.1,454.4L230.6,453.7L234.1,454L237.1,453.3L240.7,453.4L244.2,452.7L247.7,452.9L251.7,452.1L254.7,452.4L258.2,451.8L261.7,452.6L265.2,452.5L268.7,453.1L272.2,452.6L275.7,453L279.2,452.4L282.7,452.9L286.2,452.4L286.7,452.9L287.2,454.1L288.7,459.7L292.2,481.9L293.2,486.6L293.7,487.3L294.7,487.1L295.7,486.1L296.2,483.8L298.2,464.5L300.7,445.6L301.2,443.5L301.7,442.6L302.7,441.6L303.7,441.2L304.2,441.3L305.2,443L308.2,452.4L308.7,453.2L309.7,453.6L310.7,453.4L312.7,452.2L313.7,451.8L314.7,452L317.7,453.1L320.7,452.7L324.3,453.1L327.8,452.8L331.3,453.4L334.8,453L338.3,453.4L341.8,452.8L345.3,453L348.8,452.2L352.3,452.2L355.3,451.3L359.3,451.3L362.3,450.5L366.3,450.8L369.3,450.3L372.8,450.9L376.8,450.7L379.8,451.4L383.3,451.2L386.8,452L390.3,451.8L393.8,452.5L397.3,452.1L400.8,452.6L404.3,452L407.9,452.3L410.9,451.6L414.9,451.9L417.9,451.3L421.9,451.9L424.9,451.6L428.9,452.4L432.4,452.3L435.4,453.1L438.9,453.1L442.4,454.1L445.9,454.1L449.9,455L452.9,454.7L456.4,455.1L459.9,454.2L463.4,454.1L466.9,453L470.4,452.9L473.4,452L477.4,452L480.9,451.3L484.4,451.7L487.9,451.3L491.5,451.9L494.5,451.6L498,452.3L502,452.2L505,452.9L508.5,452.7L512,453.3L515.5,453L519,453.6L522.5,453.2L526,453.9L529,453.6L531,453.9" fill="none" stroke="#404040" stroke-opacity="0.103" stroke-width="0.9"/>
<path d="M37.9,515.3L40.4,515.1L41.4,513.8L41.9,508.4L43.4,482.6L44.9,484.7L46.9,492.6L47.9,495.5L48.9,497.5L50.9,500L57.4,505L60.9,506.8L63.9,508L66.4,508.7L68.4,508.9L70.4,508.7L73,507.8L74.5,506.2L79,499.9L83,492.8L85,487.9L87.5,475.4L89.5,472.5L90,472.8L91,477L91.5,478.5L92,479.1L94.5,477.7L95,477.8L95.5,478.3L99.5,494.8L101,500.1L102,502.7L103,504.3L106.5,508.1L108.5,511L109.5,511.9L110,512L111.5,511.4L116.5,508.2L118.5,506.5L119.5,505.1L120.5,502.9L122,498.1L124,485L124.5,482.8L125,482.4L126,484.2L130,494.3L131.5,496L133,496.4L134.5,496.4L135.5,495.9L139,490.9L143.5,487.3L145,486.7L146.5,486.7L147,486.3L149.5,482.7L150,478.8L152.5,399.2L153.5,381L154,375.6L154.5,375.3L156.6,384.6L157.6,394.6L158.6,409.4L160.1,441.9L161.6,466.2L162.6,477.3L164.1,486.9L164.6,487L165.1,482.9L168.1,440.1L169.1,435L169.6,433.7L170.1,433.5L170.6,434.6L171.1,436.8L174.6,455.9L176.6,461.3L177.6,462.6L178.1,462.8L178.6,462.6L180.6,460.5L181.6,459.8L183.6,459.8L186.6,459.4L190.6,460.2L194.1,460.2L197.1,461.3L201.1,461.9L204.6,463.5L210.6,464L212.1,463.7L215.1,462.6L218.1,462.3L221.6,461L225.1,460.7L228.6,459.6L232.1,459.7L235.6,459L239.2,459.4L242.7,459.1L246.2,459.8L249.7,459.6L253.2,460.4L256.7,460.1L259.7,460.9L263.2,460.7L266.7,461.3L270.7,460.5L274.2,460.5L277.2,459.7L280.7,459.9L284.2,459.3L285.7,459.6L286.7,461.8L288.2,467L291.7,487.6L292.7,491.5L293.2,491.8L294.7,491.1L295.2,490.1L295.7,487.2L297.7,467.9L300.2,450.5L300.7,448.9L301.7,447.9L302.7,447.3L303.2,447.4L303.7,447.7L304.2,448.7L307.7,460.8L308.2,461.5L309.2,461.8L312.7,460.4L316.7,461.1L319.2,460.6L322.2,460.5L325.8,459.5L329.3,459.6L332.8,458.9L336.3,459.2L340.3,458.7L343.8,459.3L346.8,459L350.3,459.6L353.8,459.3L357.3,459.8L360.8,459.3L364.3,459.7L367.8,459L371.3,459.3L374.8,458.6L378.3,458.9L381.3,458.4L385.3,459.1L388.8,458.9L391.8,459.8L395.3,459.9L398.8,460.8L402.3,460.5L405.8,460.9L409.4,460.1L412.9,460.2L416.4,459.2L419.9,459.3L423.4,458.5L426.9,458.9L430.4,458.5L433.9,459.4L437.4,459.4L440.4,460.5L444.4,461L447.9,462.1L450.9,462.1L454.4,462.6L458.4,461.8L461.4,461.8L464.9,460.6L468.4,460.5L471.9,459.5L475.4,459.8L478.9,459.3L482.4,459.9L485.9,459.6L489.5,460.3L493,460L496.5,460.7L499.5,460.2L503.5,460.6L507,460L510,460.3L513.5,459.7L517,460.2L520.5,459.8L524,460.5L528,460.5L531,461.3" fill="none" stroke="#404040" stroke-opacity="0.103" stroke-width="0.9"/>
<path d="M37.9,515.3L40.9,515.2L41.9,514L42.4,509.2L43.9,480.6L44.4,478.8L45.4,480.2L45.9,481.7L47.4,488.4L48.9,492.7L51.4,496.7L54.4,499.7L57.4,502.1L59.9,503.6L62.9,504.9L66.9,506.2L68.9,506.5L70.9,506.2L73.5,505.5L74.5,504.6L78,499.6L80.5,495.5L83.5,489.1L85,485L86.5,478.4L89,463.9L90.5,453.6L91,453L92,454.8L93.5,459.3L98.5,483.4L102,497.2L103.5,500.5L106.5,504.1L109,508L110,509L110.5,509.2L111.5,508.9L116,505.8L118.5,503.2L120,500.8L121,498.2L122.5,493.1L124.5,479.3L125,476.8L125.5,475.8L126,476.1L127,477.2L130.5,482.7L132,484L135,483.5L136,483.1L137,482L140,477.2L142,475.5L144.5,473.9L146,473.4L148,473.5L150,475L150.5,472.5L151,460.2L153.5,375.4L154.5,357.1L155,355L156.1,359L157.1,366L157.6,371.5L159.1,395.2L160.6,429.8L162.1,456.8L163.6,474.4L164.6,481.4L165.1,482.1L165.6,478.5L166.1,471.6L168.6,432.7L169.6,425.8L170.1,424L170.6,423.3L171.1,424.1L171.6,426.2L175.1,444.4L177.1,449.8L178.1,451.2L178.6,451.5L179.6,450.8L181.1,448.8L182.1,447.8L185.6,447.9L188.1,447.5L189.6,447.7L192.1,448.4L195.6,448.8L199.1,450.3L202.1,451L205.6,452.6L207.1,452.9L212.6,452.5L216.6,450.6L220.1,449.9L223.6,448.3L227.1,447.9L230.6,447L234.1,447.5L237.6,447.4L240.7,448.4L244.2,448.5L248.2,449.5L251.2,449.2L254.7,449.5L258.2,448.7L261.7,448.8L265.2,448.1L268.7,448.2L272.2,447.5L275.7,447.9L279.2,447.7L282.7,448.8L286.2,448.9L287.2,451.2L288.7,457.5L292.2,480.8L293.2,485.2L293.7,485.6L295.2,484.9L295.7,484L296.2,481.2L298.2,461.4L300.7,442.4L301.2,440.5L301.7,439.7L302.7,438.6L303.7,438L304.2,438.1L305.2,439.7L308.2,448.1L308.7,448.7L309.2,448.8L310.2,448.5L312.7,446.9L313.7,446.6L314.7,446.7L317.7,447.9L321.2,447.8L324.3,448.5L327.8,448.4L330.8,449.1L332.3,449L334.8,448.6L337.8,448.7L341.8,447.5L345.3,447.2L348.8,446L352.3,446L355.3,445.5L359.3,446.2L362.3,446.2L365.8,447.4L369.3,447.6L373.3,448.6L376.3,448.2L379.8,448.5L383.3,447.5L386.8,447.5L390.8,446.5L393.8,446.9L397.3,446.5L400.8,447.4L404.3,447.4L407.9,448.4L411.4,448.3L414.9,448.9L418.4,448.3L421.9,448.4L424.9,447.4L428.4,447.4L431.9,446.5L435.4,446.9L438.4,446.7L439.9,447L442.9,448.1L445.9,448.6L449.4,450.1L452.9,450.4L456.4,451.1L459.9,450.4L463.4,450.2L466.9,448.8L470.4,448.3L473.4,447.3L477.4,447.4L480.4,447L484.4,447.9L487.9,447.9L491,448.9L494.5,448.8L498,449.5L501.5,448.8L505,448.9L508.5,447.9L512,448L516,447.2L519,447.8L522.5,447.8L526,449L529,449.4L531,450.1" fill="none" stroke="#404040" stroke-opacity="0.110" stroke-width="0.9"/>
<path d="M37.9,515.3L40.9,515.3L41.4,515.1L41.9,514.6L42.4,513.3L44.4,475.9L44.9,475.1L45.9,476.6L47.9,485.3L48.9,488.7L49.9,491.1L51.4,493.8L52.9,495.8L57.4,500.3L59.4,501.6L63.9,503.9L66.9,504.7L69.4,505.1L71.4,504.9L73.5,504.2L75,502.9L76.5,500.8L79,496.7L81.5,491.4L84.5,483.7L86,478.3L87.5,468.1L90.5,436.4L91,433.8L91.5,434L92.5,438.6L96,464.2L99,480.9L101.5,491.7L103,496.6L104,498.6L109.5,506.6L110.5,507.6L111.5,507.6L112.5,507.1L115.5,504.5L118,501.8L120,498.7L121.5,494.4L123,488.1L125,473.4L125.5,471L126,470.1L127,470.2L129.5,471L132.5,473.9L134.5,473.9L136.5,472.7L139.5,468.9L143.5,465.8L145,465.2L146,465.4L147,466.2L150,470.6L150.5,470.9L151,465.5L151.5,450.6L154,361.8L155,344.4L155.5,343.5L156.1,345.4L157.1,352.1L158.1,363.1L159.1,379.5L161.1,426.1L162.6,453.9L163.6,466.6L164.6,475.3L165.1,477.7L165.6,477.2L166.1,472.4L169.1,424.2L170.1,417.3L170.6,415.4L171.1,414.8L171.6,415.9L172.1,418.1L175.6,437.1L177.6,442L178.6,443.2L179.1,443.3L180.1,442.9L182.1,441.4L186.1,441L190.1,441.9L193.6,441.7L197.1,442.5L200.6,442.3L204.1,443.4L207.6,443.3L210.6,443.7L214.6,442.4L218.1,442.1L221.6,441.1L225.1,441.1L228.6,440.2L232.1,440.5L235.6,440L239.2,440.5L242.2,440.1L245.7,440.8L249.2,440.4L252.7,441L256.2,440.5L259.7,441.1L263.2,440.9L266.7,441.6L270.2,441L273.7,441.2L277.2,440.4L280.7,440.7L284.2,440.2L286.2,440.5L286.7,440.8L287.2,441.9L288.7,448L292.7,476.1L293.7,480.1L294.2,480.3L295.7,479L296.2,477.5L298.7,454.1L301.2,435.9L302.2,433.3L303.2,431.9L304.2,431.1L304.7,431.3L305.2,432L308.2,440.9L308.7,441.7L309.2,441.9L311.7,440.6L313.2,440.1L316.2,440.6L321.7,440.8L325.8,439.9L329.3,440.2L332.8,439.6L336.3,439.9L339.8,439.3L343.3,439.6L346.3,438.9L350.3,439.2L353.3,438.4L356.8,438.7L360.8,438L363.8,438.4L367.3,438L370.8,438.7L374.8,438.6L377.8,439.3L381.3,439.1L384.8,439.9L388.3,439.6L391.8,440.2L395.3,439.8L398.8,440.4L402.3,439.9L405.8,440.3L409.4,439.6L412.9,439.8L416.4,439.1L419.4,439.4L422.9,438.8L426.4,439.3L429.9,438.8L433.4,439.4L436.9,439.2L440.4,440L443.9,440.1L447.4,441.1L450.9,441.2L454.4,442L457.9,441.6L461.4,442L464.9,441.3L468.4,441.5L471.9,440.8L475.4,441.1L478.9,440.4L482.4,440.7L485.9,439.9L488.9,440.1L492.5,439.4L496,439.8L499.5,439.4L503,440L506.5,439.7L510,440.4L513.5,440.2L517,440.9L520.5,440.7L524,441.5L527.5,441.3L531,442.2" fill="none" stroke="#404040" stroke-opacity="0.093" stroke-width="0.9"/>
<path d="M37.9,515.3L40.9,515.2L41.9,513.9L42.4,508.8L43.9,479.1L44.4,477.5L45.4,478.8L45.9,480.3L47.4,487L49.4,492.7L51.9,496.5L56.4,500.9L58.4,502.4L62.9,504.7L64.9,505.5L67.9,506.2L70.4,506.2L72.5,505.7L73.5,505.2L75,503.6L78,499.3L80,495.7L83.5,487.9L85,483.7L86.5,476.6L90,449.6L90.5,446.9L91,446.6L93,453.2L98.5,482.8L101.5,495.1L102.5,498.1L103.5,500.1L107,504.7L109,507.8L110,508.8L111,508.9L112,508.4L115.5,505.6L118.5,502.4L120,499.9L121,497.1L122.5,491.4L124.5,477.2L125,474.6L125.5,473.7L126.5,474.3L129,476.8L132,480.4L134,480.8L135,480.7L136,480.1L139,476.4L144,472.7L145,472.5L146,472.7L148.5,473.5L150,474.5L150.5,471.7L151,458.8L153.5,373.6L154.5,355.3L155,353.3L155.5,354.5L156.6,360L157.6,369L159.1,393.1L160.6,428.5L162.1,455.7L163.6,473.1L164.6,480L165.1,480.5L166.1,469.6L168.6,430.2L169.6,423.2L170.1,421.1L170.6,420.3L171.1,421L171.6,423.1L175.1,442.3L175.6,444L177.1,447.5L178.1,448.8L178.6,449L179.6,448.5L181.1,447.1L182.1,446.6L186.1,446.3L190.1,447.1L193.6,447L197.1,448.1L200.6,448.2L204.6,449.6L207.6,449.7L210.1,450L211.6,449.8L214.6,448.6L218.1,448.2L221.1,447.2L225.1,447L228.6,446.2L232.1,446.5L235.6,446L239.2,446.4L242.7,446L245.7,446.4L249.2,445.9L252.7,446.3L256.2,445.8L259.7,446.5L263.2,446.4L267.2,447.3L270.2,447L273.7,447.3L277.2,446.6L280.7,446.9L284.2,446.3L286.2,446.6L287.2,448.9L288.7,454.9L292.2,479L293.2,483.5L293.7,483.9L295.2,482.9L295.7,481.9L296.2,478.9L298.2,459.1L300.7,440.8L301.2,439L301.7,438.2L302.7,436.9L303.7,436.2L304.2,436.3L304.7,437L307.7,446.4L308.2,447.4L308.7,447.9L309.7,447.6L312.2,446.1L313.2,445.9L316.2,446.3L319.2,446.1L322.2,446.2L325.8,445.5L329.3,445.9L332.8,445.4L336.3,445.9L339.8,445.4L343.3,445.8L346.8,445.1L349.8,445.4L353.3,444.6L357.3,444.8L360.8,444.3L363.8,444.8L367.8,444.5L370.8,445.1L374.3,444.8L377.8,445.5L381.3,445.1L384.8,445.6L388.3,445.2L391.8,445.9L395.3,445.6L398.8,446.2L402.3,445.8L405.8,446.2L409.4,445.6L412.9,445.8L416.4,445.1L419.4,445.4L422.9,444.9L426.4,445.4L429.9,445.1L433.4,445.8L436.9,445.6L440.4,446.4L443.9,446.4L447.4,447.3L450.9,447.1L454.4,447.8L457.9,447.3L461.4,447.7L464.9,447L468.4,447.3L471.9,446.6L475.4,446.9L478.4,446.2L481.9,446.4L485.4,445.7L488.9,446L493,445.4L496,445.9L500,445.6L503,446.3L506.5,446L510,446.7L513.5,446.3L517,446.9L520.5,446.6L524,447.3L527.5,447.1L531,447.9" fill="none" stroke="#404040" stroke-opacity="0.099" stroke-width="0.9"/>
<path d="M37.9,515.3L40.9,515.2L41.9,514.2L42.4,511.2L43.9,481.2L44.4,476.9L45.4,478.1L45.9,479.3L47.4,486.3L49.4,492.2L51.9,496L55.9,500.2L58.4,502L62.4,504.3L68.4,506L70.4,506L73,505.2L74,504.6L75.5,503L78.5,498.4L81.5,492.6L84,486.9L85.5,482L87,473.7L90.5,447.3L91,445.9L91.5,446.3L92,447.5L93,451L98,479.4L102,496L103,498.7L104,500.5L107,504.1L109.5,508L110.5,508.7L112,508.3L117,504.1L118.5,502.4L120,499.7L122.5,491.5L124.5,477.9L125.5,473.4L126,473.2L126.5,473.4L128.5,474.9L129.5,476L131.5,479.2L132.5,479.9L136.5,478.5L141.5,473.4L143.5,472.1L148,472.3L148.5,472.4L150,473.9L150.5,472.9L151,463.1L153.5,376.5L154.5,356L155,351.7L155.5,352.1L156.1,354.2L157.1,360.9L157.6,366L159.1,389.5L161.1,434.6L162.6,460L164.1,475.4L164.6,478.8L165.1,480.2L165.6,477.9L166.1,471.7L169.1,425.6L170.1,420.1L170.6,418.8L171.1,419.2L171.6,421.1L173.1,430L175.6,442L177.6,446.4L178.6,447.7L179.1,447.8L180.1,447.4L182.1,445.5L183.6,445.1L187.6,446.1L191.1,446.1L194.6,447.1L198.1,447.2L201.6,448.2L204.6,448.4L208.6,449.2L212.1,448.2L215.1,447.8L219.1,446.4L222.1,446.3L226.1,445.2L229.1,445.4L232.6,444.9L236.1,445.3L240.2,445L243.2,445.5L246.7,445.2L250.2,445.8L253.7,445.3L257.2,445.8L260.7,445.5L264.2,446.2L267.7,445.8L271.2,446.1L274.2,445.3L278.2,445.4L281.2,444.9L284.7,445.3L286.2,445.3L286.7,445.7L287.2,446.9L288.7,452.9L292.2,477.6L293.2,482.5L293.7,483.3L294.7,482.8L295.7,481.7L296.2,479.4L298.2,460.4L300.7,441.1L301.2,438.7L301.7,437.6L302.7,436.3L303.7,435.8L304.2,435.9L305.2,437.7L307.7,445.2L308.7,446.7L309.2,446.8L315.2,445.1L319.2,445.8L323.3,444.7L326.8,444.8L330.3,444.1L333.8,444.4L337.3,443.8L340.8,444.3L343.8,443.8L347.3,444.3L350.8,443.9L354.3,444.4L357.8,443.9L361.8,444.4L364.8,443.9L368.3,444.4L371.8,443.9L375.3,444.4L378.8,443.8L382.3,444.3L385.8,443.9L389.3,444.5L392.8,444.1L395.8,444.8L399.8,444.5L403.3,445.1L406.9,444.6L410.4,445.1L413.9,444.5L417.4,445L420.4,444.4L423.9,444.9L427.4,444.4L430.9,444.8L434.4,444.3L437.9,444.8L441.4,444.6L444.9,445.5L448.4,445.5L451.9,446.5L455.4,446.3L458.9,446.9L462.4,446.4L465.9,446.7L469.4,446L472.9,446.2L476.4,445.5L479.4,445.7L482.9,445L486.4,445.1L490,444.4L493.5,444.8L497,444.3L500.5,444.9L504,444.6L507.5,445.3L511,445.2L514.5,446L518,445.8L521.5,446.6L525,446.4L528.5,447.1L531,446.8" fill="none" stroke="#404040" stroke-opacity="0.096" stroke-width="0.9"/>
<path d="M37.9,515.3L40.9,515.2L41.9,514L42.4,509.6L43.9,482.3L44.4,480L45.4,481.2L45.9,482.6L47.4,489.4L48.9,493.8L50.9,496.9L54.4,500.5L57.9,503.2L61.4,505.2L63.4,506.1L68.9,507.4L70.4,507.3L73,506.4L74,505.8L75,504.7L78,500.5L81,495.3L84,489.2L86,482.5L87.5,473.9L89,467.7L90,462.2L90.5,460.1L91,459.8L93,462.1L94,464.6L96,472.8L99,487.3L101,495.1L102.5,499.9L104,502.6L107,505.9L109.5,509.7L110.5,510.3L112,509.8L117,506.1L118.5,504.7L120,502.3L122.5,494.6L124.5,481.4L125,479L125.5,478.1L126.5,479L127.5,480.5L131,487L132,488.2L132.5,488.3L136.5,487L141.5,481.4L143,480.2L144,479.9L146.5,479.7L148.5,477.8L150,477.8L150.5,475.6L151,464L153.5,383.5L154.5,365.6L155,362.8L155.5,363.5L156.6,368.1L157.6,376.2L159.1,398.9L160.6,432.6L162.1,458.5L163.6,475.4L164.6,482.4L165.1,483.3L165.6,480.1L166.1,473.5L168.6,435.2L169.6,428.1L170.1,426.2L170.6,425.4L171.1,426.2L171.6,428.4L173.1,437.5L175.1,447.6L177.1,452.7L178.1,454.4L178.6,454.8L179.6,454.7L182.1,452.4L183.6,452L187.6,452.8L191.1,452.6L194.6,453.4L198.1,453.4L201.1,454.3L204.6,454.5L208.6,455.4L212.1,454.6L215.1,454.4L218.6,453.3L222.1,453.3L226.1,452.5L229.1,452.8L232.6,452.3L236.1,452.7L239.7,452.2L243.2,452.7L246.7,452.2L250.2,452.6L253.7,452.1L257.2,452.6L260.7,452.3L264.2,453.1L267.2,452.8L270.7,453.3L274.7,452.6L277.7,452.8L281.2,452.3L284.2,452.7L286.2,452.5L286.7,453L287.2,454.1L288.7,459.6L292.2,482.6L293.2,486.9L293.7,487.3L295.2,486.4L295.7,485.5L296.7,478.8L298.2,463.8L300.7,445.1L301.2,443.1L301.7,442.2L303.2,440.8L303.7,440.8L304.2,441.1L304.7,442L307.7,451.2L308.2,452.2L308.7,452.7L309.2,452.8L311.2,452.6L314.7,451.5L316.2,451.6L319.2,452.3L323.3,451.5L326.8,451.8L330.3,451.3L333.3,451.8L337.3,451.4L340.3,451.9L343.8,451.3L347.3,451.7L350.8,451.1L354.3,451.5L357.8,450.8L361.3,451.3L364.8,450.8L368.3,451.4L371.8,451L375.3,451.7L378.8,451.4L381.8,452L385.3,451.7L388.8,452.3L392.3,451.9L396.3,452.4L399.3,451.9L402.8,452.2L406.4,451.5L409.9,451.7L413.4,450.9L416.9,451.2L420.4,450.7L423.9,451.2L427.4,450.9L430.9,451.6L434.4,451.3L437.9,452L441.4,451.9L444.9,452.9L448.4,452.9L451.4,453.7L455.4,453.4L458.4,453.9L461.9,453.2L465.9,453.4L468.9,452.7L472.4,453L475.9,452.4L479.4,452.8L482.9,452.2L486.4,452.7L490,452.1L493.5,452.6L497,452.1L500.5,452.6L503.5,452.2L507.5,452.7L510.5,452.2L514,452.7L517.5,452.3L521,452.9L524.5,452.5L528,453.2L531,453" fill="none" stroke="#404040" stroke-opacity="0.117" stroke-width="0.9"/>
<path d="M37.9,515.3L40.4,515.3L40.9,515L41.4,514.4L41.9,512.6L43.4,482.5L43.9,476.2L44.4,476.4L45.4,478.1L47.4,486.8L48.4,490.1L49.4,492.3L51.9,496.1L55.9,500.2L57.9,501.7L62.9,504.3L67.9,505.6L69.9,505.6L72.5,504.9L73.5,504.3L75,502.6L78,498.1L80,494.3L83.5,486.2L85,481.5L86.5,473.5L90,443.5L90.5,441.6L91,442.1L91.5,443.6L92.5,447.8L97.5,477.9L99,485.1L101.5,494.9L102.5,497.8L103.5,499.7L106.5,503.5L109,507.3L110,508.1L111,508.1L112,507.5L115,505L117.5,502.4L119.5,499.4L121,495L122.5,488.7L124,477.5L125,472.5L125.5,472.2L126,472.4L128.5,474.1L131.5,477.6L132,478L133,478.1L134,478L135.5,477.2L139,473.1L143,469.6L144,469L145.5,469.1L147,469.8L148,470.4L149.5,472.3L150,472.4L150.5,464.5L151,448.5L153,375.5L154,353.7L154.5,348.2L155,348.3L155.5,350.2L157.1,361.3L158.6,384.6L160.6,431L162.1,457.5L163.6,473.7L164.1,477.4L164.6,479.3L165.1,478L165.6,472.3L168.6,425.5L169.6,419.6L170.1,418L170.6,417.8L171.1,419.3L175.1,440.6L176.6,444.3L177.6,445.8L178.1,446.1L179.1,446L181.6,444L185.6,443.5L189.1,444.2L193.1,444.2L196.6,445.1L199.6,445.1L203.6,446.4L206.6,446.4L209.6,446.9L211.1,446.7L213.6,445.7L217.1,445.4L220.1,444.5L224.1,444.4L227.6,443.6L231.1,443.9L234.6,443.4L238.1,443.7L241.7,443L244.7,443.4L248.2,442.8L251.7,443.2L255.2,442.7L259.2,443.5L262.2,443.5L265.7,444.5L269.2,444.3L272.7,444.6L276.2,443.9L279.7,444L283.2,443.3L285.7,443.5L286.2,443.9L286.7,445L288.2,450.8L292.2,478.5L292.7,480.9L293.2,482L294.2,481.7L295.2,480.6L295.7,478.6L298.2,455.1L299.7,443.5L300.7,437.6L301.2,436.3L302.2,434.9L303.2,434L303.7,433.9L304.2,434.3L304.7,435.3L307.7,444.5L308.2,445.2L308.7,445.3L312.2,443.7L320.7,443.6L324.8,442.4L328.3,442.5L331.8,441.8L335.3,442.3L338.8,441.9L342.3,442.5L345.8,442.2L349.3,442.7L352.8,442.1L356.3,442.4L359.8,441.7L363.3,441.9L366.8,441.3L370.3,441.8L373.8,441.5L377.3,442.2L380.3,441.9L383.8,442.7L387.3,442.5L390.8,443.1L394.3,442.8L397.8,443.3L401.3,442.7L404.8,443L408.4,442.3L411.9,442.7L415.4,442.1L418.9,442.5L422.4,442L425.9,442.6L429.4,442.2L432.4,442.8L435.9,442.5L439.9,443.3L442.9,443.3L446.4,444.3L449.9,444.3L453.4,445.1L456.9,444.6L460.4,444.8L463.9,443.9L467.4,443.9L470.9,443.1L474.4,443.4L477.9,442.9L481.4,443.5L484.9,443.1L488.4,443.7L492,443.2L495.5,443.6L499,443L502.5,443.3L505.5,442.7L509,443.1L512.5,442.8L516,443.6L519.5,443.5L523,444.5L526.5,444.6L529.5,445.4L531,445.4" fill="none" stroke="#404040" stroke-opacity="0.087" stroke-width="0.9"/>
<path d="M37.9,515.3L40.9,515.2L41.9,514L42.4,509.6L43.9,479.1L44.4,476.6L45.4,478L45.9,479.5L47.4,486.5L48.9,491.1L51.9,496.1L55.4,499.9L57.9,501.7L61.4,503.8L63.9,504.8L67.9,505.9L69.9,505.9L73,505.1L74,504.4L75,503.3L78,498.8L80.5,494.2L83.5,487.5L85,483L86.5,475.9L89,457.7L90,448.5L90.5,445.1L91,444.1L91.5,444.8L92,446.3L93,450.5L95.5,466.3L97.5,477.1L99,484.2L102,496.2L103.5,499.8L107,504.1L109,507.3L110,508.4L111,508.5L112,508L116.5,504.4L118.5,502L120,499.2L122.5,491L124.5,477L125,474.2L125.5,472.9L126.5,473L127.5,473.8L129,475.4L131,478.4L132,479.2L136,478.4L136.5,478.1L137.5,477.1L140,473.7L141.5,472.4L143,471.6L146,471.1L147.5,471.2L148.5,471.8L150,473.6L150.5,471.5L151,459.7L153.5,372.7L154.5,352.9L155,350.1L155.5,351.1L156.1,353.7L157.1,361L157.6,366.6L159.1,390.9L160.6,425.9L162.1,453.5L163.6,471.7L164.6,479.1L165.1,480L165.6,476.6L166.1,469.8L168.6,429.2L169.6,421.5L170.1,419.4L170.6,418.5L171.1,419.3L171.6,421.4L175.1,440.1L177.1,445.5L178.1,447.3L178.6,447.8L179.6,447.6L181.6,445.5L182.6,445L186.6,445.8L189.6,445.7L193.1,446.4L196.6,446.2L200.1,446.9L203.6,446.9L207.6,447.9L210.6,447.3L214.1,447.3L217.6,446.2L221.1,446.4L224.6,445.6L228.1,445.8L231.6,445L235.1,445.2L238.1,444.5L242.2,444.7L245.2,444.2L248.7,444.6L252.2,444.2L255.7,444.7L259.2,444.5L262.7,445.4L266.2,445.3L269.7,445.8L273.2,445.3L276.7,445.5L280.2,444.9L283.7,445.4L286.2,445L286.7,445.6L287.2,446.9L288.7,453.3L292.2,477.8L293.2,482.3L293.7,482.7L295.2,481.8L295.7,480.9L296.2,478.3L298.2,458.7L300.7,439.5L301.2,437.4L301.7,436.5L302.7,435.4L303.7,434.9L304.2,435.1L305.2,436.9L308.2,445.2L308.7,445.8L309.2,445.9L310.7,445.8L313.2,444.6L314.2,444.4L315.2,444.5L317.7,445.5L318.7,445.6L322.2,444.8L325.8,444.8L328.8,444L332.3,444.1L335.8,443.3L339.3,443.6L342.8,443.1L346.3,443.6L349.8,443.2L353.3,443.7L356.8,443.2L360.3,443.7L363.8,443.2L367.3,443.6L370.3,443.2L374.3,443.7L377.8,443.3L381.3,443.8L384.3,443.4L387.8,444L391.3,443.7L394.8,444.3L398.3,444L401.8,444.6L405.3,444.1L408.9,444.6L412.4,444L415.9,444.4L419.4,443.7L422.9,444L426.4,443.4L429.9,443.8L433.4,443.4L436.4,444.1L440.4,444.1L443.4,445.2L446.9,445.4L450.4,446.5L453.9,446.3L456.9,446.7L458.4,446.5L460.9,445.8L464.4,445.8L467.9,444.9L471.4,445L474.9,444.3L478.4,444.8L481.9,444.3L485.4,444.8L488.9,444.3L492.5,444.8L495.5,444.3L499.5,444.8L502.5,444.5L506,445L509.5,444.6L513,445.2L516.5,444.8L520,445.3L523.5,445L527,445.7L531,445.7" fill="none" stroke="#404040" stroke-opacity="0.118" stroke-width="0.9"/>
<path d="M37.9,515.3L39.9,515.3L40.4,515.1L40.9,514.6L41.4,513.4L43.4,477.7L43.9,476.8L44.9,478.4L46.9,486.9L48.4,491.3L49.9,494L51.4,496.1L54.9,499.7L57.4,501.6L60.4,503.3L63.9,504.8L67.4,505.8L69.9,505.7L72.5,505.1L73.5,504.4L75,502.5L78,497.8L80.5,492.9L83,486.8L85,480.1L86,474.5L87.5,463.2L89.5,443.9L90,440.6L90.5,440L91,440.9L91.5,442.8L92.5,447.9L95,465.6L97,477L98.5,484.4L101,494.9L102,497.9L103,499.9L106,503.8L108.5,507.7L109.5,508.6L110.5,508.5L111.5,508L115.5,504.6L118,501.4L119.5,498.5L121,493.7L122,489.6L124,475L124.5,472.6L125,471.8L126,472.1L127,472.9L131,477.6L131.5,477.9L135,478.5L135.5,478.3L136.5,477.4L139,474L144.5,470.7L146,470.4L147,470.7L149.5,473.1L150,468.2L150.5,454L153,367.3L154,349.3L154.5,348L155,349.6L156.1,356.1L157.1,366.6L158.6,392.2L160.1,427.8L161.6,455.3L162.6,468.1L163.6,476.9L164.1,479.4L164.6,479.2L165.1,474.6L168.1,427.6L169.1,421.2L169.6,419.5L170.1,419.1L170.6,420.2L171.1,422.6L174.6,440.8L176.6,446L177.6,447.3L178.1,447.4L179.1,446.6L181.1,444.2L182.1,443.9L184.1,444.1L188.1,443.9L191.1,444.8L194.6,445.2L198.1,446.6L201.6,446.9L204.6,447.9L205.6,448L211.6,447L216.1,445.1L219.1,445L222.6,444.4L226.1,445L229.6,444.7L233.1,445.3L236.6,444.5L240.2,444.4L243.7,443.2L246.7,443.3L250.2,442.7L254.2,443.6L257.2,443.7L261.2,445.3L264.2,445.5L267.2,446.1L268.7,445.9L271.7,444.9L274.7,444.6L278.2,443.3L281.7,443.5L285.2,443.2L285.7,443.4L286.2,444.5L287.7,450.8L291.7,478.3L292.7,482.5L293.2,482.7L294.7,482L295.2,480.7L296.2,472.9L297.7,457.6L300.2,439.2L300.7,437.6L301.2,436.8L302.2,435.7L303.2,435.1L303.7,435.2L304.2,435.9L307.2,444.1L307.7,445L308.2,445.3L309.2,445.1L312.2,443L313.2,442.7L316.7,443.8L319.7,443.6L323.3,444.1L326.8,443.8L330.3,444.2L333.8,443.3L337.3,443.2L340.8,442.3L344.3,442.5L347.8,442.1L351.3,443L354.8,442.9L358.3,443.5L361.8,442.9L365.3,443L368.8,442L371.8,442.1L375.3,441.6L379.3,442.5L382.3,442.7L386.3,444.1L389.3,444.1L392.8,444.8L396.3,444L399.8,443.9L403.3,442.6L406.9,442.6L409.9,442L410.9,442.1L413.9,442.8L417.4,443L420.9,444L424.4,443.8L427.4,444.2L431.4,443.3L434.4,443.5L438.4,442.8L441.9,443.6L444.9,443.8L448.9,445.3L451.9,445.5L455.4,446.3L458.9,445.5L462.4,445.4L465.9,444.2L469.4,444.1L472.4,443.5L476.4,444.2L479.9,444.1L483.4,444.8L486.9,444.2L490,444.3L494,443.2L497,443.3L500.5,442.6L504.5,443.4L507.5,443.5L511,444.8L514.5,445L518,445.8L521.5,445.3L525,445.4L528.5,444.5L531,444.7" fill="none" stroke="#404040" stroke-opacity="0.106" stroke-width="0.9"/>
<path d="M37.9,515.3L40.9,515.2L41.9,514L42.4,509.1L43.9,479.5L44.4,477.6L45.4,479L45.9,480.5L47.4,487.4L48.4,490.8L49.4,493.1L51.9,496.8L55.9,500.9L57.9,502.3L62.4,504.8L64.4,505.5L68.4,506.4L70.4,506.4L73,505.5L74,504.8L75,503.7L78,499.3L80,495.7L83.5,488.3L85,484L86.5,477L90,452.6L90.5,450.1L91,449.7L92,451.8L93.5,456.8L98,481L102,497.1L103,499.7L104,501.3L107,504.8L109,507.9L110,509L111,509.1L112,508.7L116.5,504.9L118.5,502.8L120,500.2L122.5,491.8L124.5,478L125,475.5L125.5,474.6L126.5,475L128.5,477L131.5,481.7L132.5,482.3L134,482L136.5,480.8L142,475.1L143.5,474L144.5,473.8L146.5,474.1L148.5,473.8L150,474.8L150.5,472.2L151,459.8L153.5,375.3L154.5,356.4L155,353.9L155.5,354.9L156.6,360.2L157.6,369.4L159.1,393.7L160.6,428.8L162.1,455.7L163.6,473.1L164.6,480.2L165.1,480.9L165.6,477.4L166.1,470.5L168.6,431.1L169.6,423.8L170.1,421.8L170.6,421L171.1,421.8L171.6,424L175.1,443.5L177.1,448.4L178.1,449.9L178.6,450.3L179.6,450.2L182.1,448L184.6,447.5L188.1,448L191.6,447.7L195.1,448.4L198.6,448.3L202.1,449.5L205.1,449.8L209.1,451L212.6,450.2L215.6,450.1L219.6,448.9L222.6,448.8L226.1,447.6L229.6,447.5L233.6,446.6L236.6,446.9L240.2,446.4L243.7,447.1L247.2,446.9L250.7,447.6L254.2,447.3L257.7,447.9L261.2,447.6L264.7,448.2L268.2,447.6L271.7,447.7L275.2,446.9L278.2,447.2L281.7,446.9L286.2,447.7L287.2,449.6L288.7,455.6L292.2,480L293.2,484.4L293.7,484.8L295.2,483.7L295.7,482.7L296.2,479.9L298.2,460.6L300.7,441.8L301.2,439.8L301.7,438.8L302.7,437.5L303.7,437L304.2,437.2L304.7,438L307.2,445.6L308.2,447.7L308.7,448.1L313.2,446.7L315.2,446.4L319.7,447.3L323.8,446.6L326.8,447.2L330.8,446.8L334.3,447.2L337.3,446.6L341.3,446.8L344.8,445.9L347.8,446.1L351.3,445.3L354.8,445.6L358.3,445.1L361.8,445.8L365.3,445.6L368.8,446.3L372.3,446.1L375.8,446.7L379.3,446.2L382.8,446.6L385.8,446.1L389.8,446.5L392.8,446.1L396.3,446.7L399.8,446.4L403.3,447L406.9,446.6L410.4,447.1L413.9,446.5L417.9,446.8L420.9,446.2L424.4,446.6L427.9,446L431.4,446.5L434.9,446.1L438.4,446.9L441.9,446.9L445.4,448L448.9,448.1L452.4,449.1L455.9,448.7L459.4,449L462.9,448.1L466.4,448.1L469.4,447.2L472.9,447.3L476.4,446.7L479.9,447.2L483.4,446.8L486.9,447.4L490.5,447L494,447.5L497.5,447L501,447.4L504.5,446.8L508,447.2L511.5,446.7L515,447.3L518.5,447.1L522,448L525,448L528.5,448.9L531,448.9" fill="none" stroke="#404040" stroke-opacity="0.092" stroke-width="0.9"/>
<path d="M37.9,515.3L40.9,515.2L41.9,514L42.4,509.1L43.9,477.8L44.4,476L45.4,477.5L45.9,479.1L47.4,486.1L48.9,490.8L51.9,495.9L55.4,499.6L57.9,501.5L60.9,503.3L63.9,504.5L67.9,505.6L69.9,505.5L73,504.7L74,504.1L75.5,502.3L78.5,497.6L81,492.8L83.5,486.9L85.5,480.4L86.5,475.2L87.5,467.9L90,445.2L90.5,441.5L91,440.5L91.5,441.2L92.5,445.3L96.5,470.8L99,483.4L101.5,493.9L102.5,497.1L103.5,499.1L107,503.7L109,507.1L110,508.2L111,508.2L112,507.8L116,504.6L118,502.4L120,499L122.5,490.6L124.5,476.2L125,473.4L125.5,472.2L126.5,472.1L127.5,472.6L129,473.9L131,476.1L132,476.6L136,475.5L137,474.6L140,470.6L141.5,469.6L143,469.1L145.5,468.9L147,469.3L148,470.1L150,473L150.5,470.6L151,458L153.5,370.5L154.5,351.2L155,348.9L155.5,350.2L156.1,353L157.1,360.5L157.6,366.3L159.1,390.7L160.6,425.9L162.1,453.5L163.6,471.6L164.6,478.8L165.1,479.5L165.6,475.7L166.1,468.6L168.6,427.6L169.6,420L170.1,417.9L170.6,417.1L171.1,417.9L171.6,420L175.1,438.4L177.1,443.9L178.1,445.7L178.6,446L179.6,445.7L181.6,443.6L182.6,443.3L186.1,444.2L189.1,444.1L192.6,444.8L196.6,444.5L199.6,445.1L203.1,445.1L207.1,446.3L210.1,446.1L213.1,446.3L217.1,445.4L220.6,445.6L224.1,444.6L227.6,444.4L231.1,443.2L234.1,443.1L238.1,442.2L241.7,442.5L244.7,442.3L248.7,443.2L251.7,443.1L255.2,443.9L258.7,443.7L262.2,444.3L265.7,443.8L269.2,444.1L273.2,443.2L276.2,443.5L279.7,443.1L283.2,443.8L286.2,443.7L287.2,446L288.7,452.7L292.2,477.4L293.2,481.8L293.7,482.1L295.2,481.2L295.7,480.3L296.2,477.4L298.2,457.5L300.7,438.2L301.2,436.2L301.7,435.3L302.7,434.1L303.7,433.5L304.2,433.6L305.2,435.2L308.2,443.3L308.7,443.8L309.2,443.9L310.7,443.7L313.7,442.4L314.7,442.5L317.2,443.8L318.2,444L321.7,443.6L324.8,443.9L328.3,443.1L331.8,443L335.3,441.9L338.8,441.9L342.3,441.2L345.8,441.7L349.3,441.4L352.8,442.1L356.3,441.8L359.3,442.3L363.3,441.7L366.8,441.9L369.8,441.3L373.3,441.7L376.8,441.4L380.3,442.3L383.8,442.2L387.3,443.2L390.8,443L394.3,443.4L397.8,442.6L401.3,442.7L404.8,441.7L408.4,441.9L411.4,441.3L415.4,442.1L418.9,442.1L422.4,443.1L425.9,442.9L428.9,443.5L432.4,442.8L435.9,443L439.9,442.3L442.9,442.9L446.4,442.9L449.9,444.1L453.4,444.2L456.9,445.1L460.4,444.6L463.9,444.7L467.4,443.6L470.9,443.5L474.4,442.7L477.9,443L481.4,442.7L484.4,443.4L487.9,443.2L492,443.8L495,443.3L498.5,443.5L502,442.6L505.5,442.8L509,442.2L512.5,442.8L516,442.8L519.5,443.9L523,444.1L526.5,445.2L529.5,445L531,445.2" fill="none" stroke="#404040" stroke-opacity="0.116" stroke-width="0.9"/>
<path d="M37.9,515.3L40.9,515.3L41.4,514.9L41.9,514.3L42.4,512.3L43.9,487L44.4,481.8L44.9,482.2L45.9,484L47.4,490.6L48.9,495L50.4,497.3L52.4,499.6L56.9,503.4L61.9,506.3L67.9,508.2L69.4,508.3L70.9,508.1L73.5,507.2L74.5,506.5L78,501.8L80.5,498L83,493.7L84.5,490.6L86,486.1L87.5,479.2L88,478L89,477.2L90.5,472.5L91,471.6L92,471.5L93.5,470.4L94,470.5L95,472L96,475L99,488.9L102.5,501.3L104,504L107,507L109.5,510.7L110.5,511.5L112,511L117,507.8L118.5,506.5L120,504.5L121,502.2L122.5,497.6L123,495.5L124.5,485.1L125,482.4L125.5,481L126,481.3L127,483L131,491.5L132,492.7L132.5,492.9L136.5,492.2L137.5,491.3L140,487.8L141.5,486.3L143.5,485L146.5,484.1L148.5,481.1L149,480.6L150,480.3L150.5,480L151,471.9L153.5,393.6L154.5,375.2L155,370.5L155.5,370.5L156.1,371.9L157.1,376.7L158.1,386.1L159.1,400.7L161.1,442.4L162.6,466L164.1,480.5L164.6,483.9L165.1,485.6L165.6,484.1L166.1,478.6L169.1,436.1L170.1,431.5L170.6,430.4L171.1,430.7L171.6,432.5L173.1,441.5L175.6,453.7L177.6,458.6L178.6,460.1L179.1,460.3L180.1,459.7L182.1,457.5L183.1,457.2L186.6,457.9L190.6,457.8L193.6,458.6L197.1,458.6L200.6,459.5L204.1,459.7L206.6,460.5L208.1,460.7L211.1,460L214.1,459.8L218.1,458.4L221.1,458.4L224.6,457.4L228.6,457.4L232.1,456.8L235.1,457.1L238.6,456.6L242.2,457L245.7,456.6L249.2,457L252.7,456.6L256.2,457.1L259.7,456.9L263.2,457.7L266.7,457.6L270.2,458.1L273.2,457.5L277.2,457.8L280.2,457.2L283.7,457.7L286.2,457.3L286.7,457.5L287.7,459.7L289.2,465.5L290.7,475.8L292.7,487.3L293.2,489.4L293.7,490.3L294.7,490L295.7,489.3L296.2,487.4L298.7,464.7L300.7,449.8L301.2,447.5L301.7,446.4L303.2,445.3L304.2,445.5L304.7,446.2L308.2,457L308.7,457.9L309.2,458.2L310.2,458.4L311.2,458.3L313.7,457L314.7,456.8L318.7,457.7L322.8,456.8L325.8,457L329.3,456.3L332.8,456.7L336.3,456.1L339.8,456.5L343.3,456L346.8,456.4L350.3,455.9L353.3,456.3L356.8,455.8L360.3,456.3L363.8,455.9L367.3,456.5L371.3,456.3L374.3,456.9L377.8,456.5L381.8,457.1L384.8,456.7L388.3,457.3L391.8,456.8L395.3,457.3L398.3,456.7L402.3,457L405.8,456.3L408.9,456.6L412.4,455.9L416.4,456.2L419.4,455.7L422.9,456.2L426.9,455.9L430.4,456.6L433.4,456.4L436.9,457.1L440.4,457L443.9,458.1L447.4,458.1L450.9,459.1L454.4,459L457.4,459.5L461.4,458.8L464.9,459L468.4,458.1L471.9,458.2L475.4,457.4L478.4,457.6L481.9,456.8L485.4,457L488.9,456.3L492.5,456.6L496,456L499.5,456.5L503.5,456.2L506.5,456.8L510,456.5L513.5,457.3L517,457.1L520.5,457.9L524,457.8L527.5,458.6L531,458.5" fill="none" stroke="#404040" stroke-opacity="0.090" stroke-width="0.9"/>
<path d="M37.9,515.3L40.4,515.3L40.9,515.1L41.4,514.6L41.9,513.3L43.9,476.2L44.4,475.4L45.4,477L47.4,485.7L48.9,490.3L51.9,495.3L55.4,499.3L57.9,501.2L61.4,503.4L63.4,504.3L67.9,505.7L69.9,505.7L73,504.8L74,504.1L75.5,502.3L78.5,497.5L81.5,491.3L84,484.9L85.5,479.4L87.5,465.8L90,441.3L90.5,438L91,437.3L91.5,438.1L92,440L93,445.3L95,461.3L97,473.5L99,483.4L101.5,493.9L102.5,497L103.5,499.1L107,503.7L109,507.1L110,508.1L110.5,508.2L111.5,507.9L116,504.4L118,502.2L119.5,499.7L121,495.5L122.5,489.7L124.5,475.4L125,473L125.5,472.2L127,472.4L128.5,473.4L131,476.4L132,476.9L136.5,474.5L140.5,469.3L142,467.9L143,467.5L144.5,467.3L146.5,467.4L147,467.7L148,468.6L149.5,471.2L150,471.7L150.5,466.7L151,452.3L153.5,365.1L154.5,347.1L155,346.1L155.5,347.8L156.6,354.8L157.6,366.1L158.6,382.5L160.6,428.1L162.1,455.2L163.1,467.9L164.1,476.7L164.6,479.2L165.1,478.9L165.6,474.1L168.6,426.6L169.6,419.9L170.1,418.1L170.6,417.7L171.1,418.9L173.1,430L175.1,439.4L177.1,444.1L178.1,445.5L178.6,445.7L179.6,445.3L182.1,442.4L183.6,442.1L186.6,442.5L190.1,442.1L193.6,443L197.1,443.2L200.6,444.6L203.6,445.1L206.6,446.5L208.1,446.8L211.1,446.5L214.1,446.4L217.6,445.2L221.1,444.9L224.6,443.5L228.1,443.1L231.6,441.9L235.1,441.9L238.6,441.1L242.2,441.6L245.7,441.4L249.2,442.3L252.7,442.3L256.2,443.3L259.7,443.3L263.7,444.3L266.7,444L270.2,444.1L273.7,443L277.2,442.8L280.7,441.8L283.7,442L286.2,441.8L287.2,444.3L288.7,451.4L290.7,467.3L292.2,477.2L293.2,481.1L293.7,481.2L295.2,480.2L295.7,478.8L296.7,471.2L298.2,456.1L300.7,437.7L301.2,436.1L301.7,435.3L303.2,434.1L303.7,434L304.2,434.4L304.7,435.3L307.2,442.5L308.2,444.5L308.7,444.8L310.7,444.5L314.2,442.9L315.2,442.9L317.7,443.4L318.7,443.4L322.2,442L325.8,441.7L328.8,440.7L332.8,440.8L336.3,440.3L339.8,440.9L343.3,440.8L346.8,441.6L350.3,441.5L353.8,442.2L356.8,441.7L360.8,442.1L363.8,441.4L367.3,441.5L370.8,440.6L374.3,440.8L377.8,440.1L381.3,440.7L384.3,440.4L388.3,441.4L391.8,441.6L395.3,442.7L398.8,442.7L402.3,443.4L405.8,442.8L409.4,442.9L412.4,442L415.9,441.8L419.4,440.8L422.9,440.9L426.9,440.2L429.9,440.8L433.9,440.8L436.9,441.7L440.4,442L443.9,443.4L447.4,443.8L449.9,444.6L451.4,444.9L454.4,444.6L457.9,444.8L461.4,443.7L464.9,443.5L468.4,442.2L471.4,442.2L475.4,441.4L478.4,441.8L482.4,441.5L485.4,442.3L488.9,442.2L492.5,443.1L496,442.9L499.5,443.6L503,443.1L506.5,443.3L510,442.5L513.5,442.6L517,441.9L520.5,442.3L524,442L527.5,442.9L531,443.1" fill="none" stroke="#404040" stroke-opacity="0.109" stroke-width="0.9"/>
<path d="M37.9,515.3L40.9,515.2L41.9,514L42.4,509L43.9,480.7L44.4,479.1L45.4,480.3L45.9,481.8L47.4,488.4L48.4,491.6L49.4,493.9L51.9,497.5L55.9,501.2L57.9,502.7L60.4,504L63.9,505.6L66.9,506.4L69.4,506.7L71.4,506.4L73.5,505.7L74.5,504.7L78,499.9L80,496.5L83.5,489.2L85,485.3L86,481.4L90.5,454.4L91,454.3L91.5,455.3L93,459.1L94,462.4L99,486.3L102,497.6L103,500L104,501.6L107,505.3L109,508.3L110,509.3L111,509.4L112,509L115.5,506.3L118.5,503.4L120,501.1L121,498.5L122.5,493.1L124.5,479.2L125,476.8L125.5,476L126.5,477L131.5,484L132.5,484.6L134,484.8L135,484.6L136,484L139,479.8L144,475.6L145,475.2L148,475.2L150,475.8L150.5,473.1L151,460.4L153.5,377.1L154.5,359.4L155,357.4L155.5,358.6L156.6,363.8L157.6,372.3L159.1,395.8L160.6,430.7L162.1,457.5L163.6,474.6L164.6,481.4L165.1,482L165.6,478.3L166.1,471.4L168.6,432.9L169.6,426.2L170.1,424.3L170.6,423.5L171.1,424.3L171.6,426.4L175.1,445.6L175.6,447.4L177.1,450.9L178.1,452.2L178.6,452.4L179.6,451.9L181.1,450.4L182.1,449.8L186.6,449.2L190.1,449.8L194.1,449.6L197.1,450.5L200.6,450.7L204.6,452.2L207.6,452.4L210.6,453L212.1,452.8L215.1,451.8L218.6,451.6L221.6,450.6L225.1,450.4L228.6,449.3L232.1,449.3L235.6,448.5L239.2,448.8L242.7,448.4L245.7,449L249.7,448.9L253.2,449.6L256.7,449.3L259.7,450.1L263.2,449.9L266.7,450.5L270.2,449.8L273.7,449.8L277.2,448.8L280.7,449.1L284.2,448.6L286.2,449L287.2,451.3L288.7,457.2L292.2,480.8L293.2,485.3L293.7,485.8L294.2,485.7L295.2,485L295.7,484L296.2,481.1L298.2,461.6L300.7,443.5L301.2,441.6L301.7,440.9L302.7,439.7L303.7,439.1L304.2,439.3L304.7,440L307.7,449.6L308.7,451.2L309.7,451L312.2,449.4L313.2,449L316.2,449.3L319.2,448.9L322.2,448.9L325.8,448L329.3,448.4L332.8,448.1L336.8,448.8L339.8,448.5L343.8,449.1L346.8,448.6L350.3,448.9L353.8,448.1L357.3,448.2L360.8,447.3L364.3,447.6L367.8,447.1L371.3,447.7L374.8,447.5L378.3,448.4L381.3,448.3L384.8,449.1L388.3,448.9L391.8,449.6L395.3,449.1L398.8,449.4L402.3,448.6L406.4,448.6L409.4,447.8L412.9,448.1L416.4,447.6L419.9,448.3L423.4,448.2L426.9,449.1L430.4,448.9L433.9,449.6L437.4,449.2L440.9,449.8L444.4,449.4L447.9,450.1L451.4,449.7L454.4,450.3L457.9,449.8L461.9,450.3L464.9,449.8L468.4,450.3L471.9,449.8L475.4,450.2L478.9,449.6L482.4,449.8L485.9,449L489.5,449.1L493,448.3L496.5,448.6L499.5,448.2L503.5,448.9L507,448.8L510.5,449.7L514,449.6L517,450.4L520.5,450.2L524,450.8L528,450.4L531,450.8" fill="none" stroke="#404040" stroke-opacity="0.114" stroke-width="0.9"/>
<path d="M37.9,515.3L40.9,515.3L41.4,515L41.9,514.4L42.4,512.6L43.9,485.8L44.4,480.3L44.9,480.6L45.9,482.3L47.4,489L49.4,494.5L51.4,497.3L54.4,500.3L56.4,501.9L59.4,503.9L61.9,505.2L63.9,506L68.9,507.3L70.9,507.1L73.5,506.4L74.5,505.6L75.5,504.5L79,499.4L82,494.2L84.5,488.8L86,484L87.5,476.1L89,470.5L90.5,462L91,460.4L91.5,460.3L93,461.6L94,463.7L96,471.7L99,486.1L102.5,499.2L104,502.1L107,505.5L109.5,509.4L110.5,510.2L112,509.9L117,506.5L118.5,505.1L120,502.9L121.5,499.1L123,493.6L124.5,483L125.5,478.4L126,478.5L127,479.6L131,486.3L132,487.3L132.5,487.3L136.5,485.9L137.5,484.9L140,481.2L142.5,479.1L144,478.5L146.5,478.2L148.5,477L150.5,477.5L151,469.6L153.5,387.8L154.5,368.4L155,363.4L155.5,363.5L156.6,367.9L157.6,375L158.1,381L159.1,396.1L161.1,439L162.6,463.4L164.1,478.5L164.6,482L165.1,483.9L165.6,482.5L166.1,476.9L169.1,432.4L170.1,427.3L170.6,426L171.1,426L171.6,427.7L173.1,436.4L175.6,448.1L177.6,452.7L178.6,454.1L179.1,454.2L180.1,453.6L182.1,451.3L183.1,451L186.6,451.9L190.1,452.2L193.6,453.6L197.1,454.1L200.6,455.4L204.1,455.6L207.6,456.4L214.1,454.8L218.1,452.9L221.1,452.7L225.1,451.8L228.1,452.2L231.6,451.9L235.1,452.8L238.6,452.5L242.2,453.1L245.7,452.4L249.2,452.5L252.7,451.6L256.2,451.6L259.7,451.1L263.2,451.9L266.7,452L270.2,452.9L273.7,452.8L276.7,453.5L280.7,453.1L283.7,453.5L286.2,452.9L286.7,453L287.7,455.3L289.2,461.4L292.2,481.2L293.2,486.1L293.7,487L294.7,486.6L295.7,485.8L296.2,483.9L298.7,460.7L300.2,448.8L301.2,443L302.2,441.2L303.2,440.4L303.7,440.4L304.2,440.5L305.2,442.2L307.7,450.3L308.7,452.5L309.2,452.8L310.7,453.1L313.7,452.2L314.7,452.2L318.7,453.7L322.2,453L325.8,453L329.3,452L332.8,451.8L336.3,450.7L339.8,450.8L343.3,450.2L346.8,450.8L350.3,450.6L353.8,451.4L357.3,451.3L360.3,451.9L363.8,451.3L367.3,451.6L370.8,450.8L374.3,450.9L377.8,450.2L381.3,450.7L384.3,450.5L388.3,451.5L391.8,451.7L395.3,452.8L398.8,452.7L401.8,453.2L405.8,452.3L409.4,452.1L412.9,450.9L415.9,450.8L419.9,450L422.9,450.5L426.4,450.4L429.9,451.6L433.9,451.9L436.9,452.9L440.4,452.9L443.9,453.8L447.4,453.4L450.9,453.8L454.4,453L457.9,453L461.4,452.2L464.9,452.6L468.4,452.2L471.4,452.8L474.9,452.6L478.9,453.3L481.9,452.7L485.4,452.9L488.9,451.9L492.5,451.9L496.5,450.9L499.5,451.3L503,450.9L506.5,451.8L510,452L513.5,453.1L517,453.1L520.5,453.9L524,453.5L527.5,453.8L531,453.1" fill="none" stroke="#404040" stroke-opacity="0.119" stroke-width="0.9"/>
<path d="M37.9,515.3L40.9,515.3L41.4,515L41.9,514.5L42.4,512.9L43.9,482.7L44.4,475.6L44.9,475.4L45.9,477.1L47.9,485.9L49.4,490.5L50.9,493.2L52.4,495.3L54.4,497.7L56.4,499.6L58.4,501.1L62.9,503.6L68.9,505.3L70.9,505.2L73.5,504.3L74.5,503.6L76,501.7L79,496.9L82.5,489.4L84.5,484.2L86,478.6L87.5,468.4L90.5,439.8L91,437.4L91.5,437.6L92,439L93,443.8L95.5,462.4L97,471.3L99,481.8L102,494.2L103,497.2L104,499.2L107.5,503.7L109.5,507L110.5,507.9L111.5,507.9L112.5,507.3L116.5,503.7L118.5,501.4L120,498.7L121.5,494.2L123,488L125,473.4L125.5,471.2L126,470.5L127.5,470.5L129,471L130,472L132,474.7L133,474.9L136.5,473.3L142,467.8L143.5,466.9L144.5,466.7L146.5,467.3L147.5,468L148.5,468.9L150,471.3L150.5,471.5L151,464.8L151.5,449.3L153.5,374.9L154.5,352L155,345.8L155.5,345.4L156.1,347.3L157.1,354.2L158.1,365.9L159.1,382.6L161.1,428.8L162.6,455.7L164.1,472.5L165.1,478.5L165.6,477.6L166.1,472.3L169.1,424.5L170.1,417.9L170.6,416.2L171.1,416L171.6,417.4L174.6,434L175.6,438.5L177.6,442.9L178.6,444.2L179.1,444.4L180.1,444.1L182.6,441.9L184.6,441.5L188.1,442.2L191.6,441.9L195.1,442.7L198.6,442.7L202.1,443.7L205.1,443.9L209.1,444.8L212.6,443.9L216.1,443.6L219.1,442.7L222.6,442.8L226.1,441.9L230.1,442.1L233.1,441.6L236.6,442L240.7,441.4L243.7,441.8L247.2,441.3L250.7,441.7L254.2,441.1L257.7,441.5L261.2,441.3L264.7,442L268.2,441.7L271.2,442.1L275.2,441.4L278.7,441.7L281.7,441.3L286.2,441.8L286.7,442L287.7,444.7L289.2,451.8L292.2,474.3L293.2,479.9L293.7,481L294.7,480.7L295.7,479.7L296.2,478L298.7,454.9L300.7,439.3L301.7,435L302.7,433.4L303.7,432.5L304.2,432.4L304.7,432.8L305.2,433.7L307.7,441L308.7,442.6L309.2,442.8L313.7,441.3L315.2,441L316.7,441.1L319.7,441.7L323.8,440.6L327.3,440.9L330.8,440.2L334.3,440.6L337.8,440L341.3,440.5L344.8,439.9L348.3,440.3L351.3,439.8L354.8,440.2L358.3,439.6L361.8,440.1L365.8,439.7L368.8,440.2L372.3,439.8L375.8,440.4L379.3,440L382.8,440.6L386.3,440.2L389.8,440.7L393.3,440.3L396.8,440.9L399.8,440.5L403.8,440.9L406.9,440.4L410.4,440.7L413.9,440.2L417.4,440.6L420.9,440.2L424.4,440.8L427.9,440.5L431.4,441.1L434.9,440.7L438.4,441.4L441.9,441.1L445.4,442L448.9,441.8L452.4,442.6L455.9,442.2L459.4,442.6L462.9,441.9L466.4,442.1L469.9,441.4L473.4,441.7L476.9,441.1L480.4,441.6L483.9,441.1L486.9,441.5L490.5,441L494,441.5L498,441.1L501,441.6L504.5,441.2L508,441.8L511,441.4L515,441.9L518.5,441.5L522,442.1L525,441.8L528.5,442.4L531,442.3" fill="none" stroke="#404040" stroke-opacity="0.094" stroke-width="0.9"/>
<path d="M37.9,515.3L40.4,515.2L41.4,514.2L41.9,511.1L43.4,482.6L43.9,479L44.9,480.1L45.4,481.3L46.9,488L48.9,493.9L51.4,497.5L55.9,501.8L57.9,503.3L62.4,505.6L64.4,506.3L66.9,506.9L68.9,507.1L70.9,506.8L73,506L74,505.1L77.5,500.3L79,497.8L83,489.7L84.5,485.8L86,479.5L89.5,457.8L90,455.5L90.5,455.2L93,461.8L94,465.3L95.5,471.4L98.5,486.3L100.5,494.2L102,499.1L104,502.6L106.5,505.5L109,509.1L110,509.8L111,509.7L112,509.1L116,506L118,504.1L119.5,501.9L120.5,499.4L122,494.1L124,480.7L124.5,477.9L125,476.6L126,477.3L131,484.6L132,485.4L133,485.6L134,485.4L135.5,484.6L138.5,480.9L143.5,476.7L144.5,476.4L146.5,476.9L148,476.6L149.5,476.8L150,475.5L150.5,465.4L153,382L154,363.7L154.5,360.2L155,361L155.5,363L156.6,368.7L157.1,373.1L158.6,395.1L160.6,439.3L162.1,463.8L163.6,478.2L164.1,481.3L164.6,482.6L165.1,480.2L165.6,474L168.1,435.4L168.6,430.2L169.6,425.3L170.1,424.2L170.6,424.5L171.1,426.2L174.1,443L175.1,447.5L176.6,451L177.6,452.5L178.1,452.8L179.1,452.5L181.6,450.6L185.1,450.3L186.6,450.4L189.6,451.2L193.1,451.2L196.6,452.1L199.6,452.1L203.6,453.3L206.6,453.4L209.6,453.9L211.1,453.6L213.6,452.7L217.1,452.5L220.6,451.6L224.1,451.6L227.6,450.6L231.1,450.8L234.6,450L238.1,450.2L241.2,449.6L245.2,450.1L248.7,449.7L252.2,450.4L255.7,450.1L258.7,450.9L262.2,450.8L265.7,451.6L269.2,451L272.7,451.2L276.7,450.3L279.7,450.6L283.2,450.1L285.7,450.5L286.2,451.1L286.7,452.3L288.2,457.8L292.2,483.6L292.7,485.6L293.2,486.4L294.2,486L295.2,484.8L295.7,482.5L297.7,463.3L300.2,444.6L300.7,442.4L301.2,441.4L302.2,440L303.2,439.4L303.7,439.4L304.2,440.1L305.2,442.8L307.2,449.7L308.2,451.6L308.7,451.7L311.7,450.4L312.7,450.3L315.2,450.6L321.2,450.9L324.8,450.1L328.3,450.3L331.8,449.5L335.3,449.8L338.8,449L342.3,449.4L345.8,448.8L349.3,449.3L352.8,448.9L356.3,449.5L359.8,449L363.3,449.5L366.8,449L370.3,449.5L373.3,449L377.3,449.5L380.8,449.1L383.8,449.7L387.3,449.4L390.8,450.1L394.3,449.7L397.8,450.3L401.3,449.8L404.8,450.2L408.4,449.5L411.9,449.9L415.4,449.4L418.9,450L422.4,449.5L425.9,450.1L428.9,449.6L432.9,450L436.4,449.5L439.9,450.2L443.4,450.1L446.4,451L449.9,451.1L453.4,452.1L456.9,451.8L460.4,452.3L463.9,451.5L467.4,451.6L470.9,450.6L474.4,450.8L477.9,450L481.4,450.3L484.9,449.7L488.4,450.2L492,449.7L495.5,450.2L498.5,449.8L502.5,450.4L506,450L509,450.7L512.5,450.4L516,451.1L519.5,450.9L523,451.6L526.5,451.3L529.5,451.9L531,451.8" fill="none" stroke="#404040" stroke-opacity="0.117" stroke-width="0.9"/>
<path d="M37.9,515.3L40.9,515.3L41.4,515.1L41.9,514.5L42.4,513.2L44.4,479.1L44.9,478.5L45.9,480.1L47.9,488.6L49.4,493.1L51.9,497.1L56.4,501.5L58.4,503L62.4,505L64.4,505.8L67.4,506.5L69.4,506.7L71.4,506.4L73.5,505.6L75,504.2L78.5,499.2L80,496.5L84,488L85.5,483.8L86.5,479.5L90.5,453.3L91,451.6L91.5,452L92,453.2L94,459.5L99,485L101,493.2L102.5,498.3L103.5,500.6L104.5,502.1L107.5,505.6L109.5,508.6L110.5,509.4L111.5,509.4L112.5,508.9L116.5,505.5L119,502.8L120.5,500.1L122,495.3L123,491.2L125,477L125.5,475L126,474.6L127,475.4L129.5,478.3L132,482L133,482.8L134.5,483.2L135.5,483.1L136.5,482.7L139.5,479.7L141.5,478.6L144.5,476.5L147,476.7L149,476L150.5,476.4L151,470.8L151.5,456.6L153.5,387.2L154.5,365.9L155,359.5L155.5,358.4L156.1,359.6L157.1,364.6L158.1,373.8L159.1,388.8L161.1,432.8L162.6,458.8L163.6,470.5L164.6,478.7L165.1,480.9L165.6,480.4L166.1,475.5L169.1,429.6L170.1,423.4L170.6,421.7L171.1,421.2L171.6,422.4L172.1,424.8L175.6,444.2L177.6,449.4L178.6,450.7L179.1,450.9L180.1,450.6L181.6,449.6L182.6,449.3L186.6,449.7L190.6,450.9L193.6,450.8L197.1,451.4L201.1,450.9L204.6,451.3L207.6,450.8L211.1,450.7L215.1,449.2L218.1,449.1L221.6,448.6L225.1,449.2L228.6,449L232.1,449.9L235.6,449.6L238.6,450L242.7,449.2L245.7,449.2L249.2,448L252.7,447.9L256.7,446.9L259.7,447.5L263.2,447.6L266.7,448.8L270.2,449L273.7,450L277.2,449.9L280.7,450.5L284.2,450L286.7,450.3L287.7,452.5L289.2,458.3L292.7,481.4L293.7,485.2L294.2,485.3L295.7,484L296.2,482.4L298.7,459.1L301.2,441.1L301.7,439.6L302.7,438L303.7,437.1L304.2,436.9L304.7,437.2L305.2,438.1L307.7,446.3L308.7,448.6L309.2,449L309.7,448.9L312.2,447.9L313.2,447.8L316.2,448.7L322.2,449.8L325.8,449.3L329.8,449.5L332.8,448.6L336.3,448.4L339.8,447.1L343.3,446.8L346.8,445.8L350.3,446L353.3,445.6L357.3,446.6L360.8,446.7L364.3,448L367.3,448L371.3,449L374.3,448.5L377.8,448.8L381.3,447.8L385.3,447.7L388.3,446.8L391.8,447L395.3,446.6L398.8,447.4L402.3,447.4L405.8,448.5L409.4,448.6L412.4,449.3L416.4,449L419.4,449.4L423.4,448.4L426.9,448.3L430.4,447.3L433.4,447.3L437.4,446.6L440.4,447.2L443.9,447.3L447.4,448.8L450.9,449.4L454.4,450.8L457.9,450.8L460.9,451.4L462.4,451.2L464.9,450.5L468.4,450.2L471.9,448.8L475.4,448.4L478.9,447.2L482.4,447.2L485.4,446.6L489.5,447.3L492.5,447.3L496,448.5L499.5,448.8L503,449.9L506.5,449.8L509.5,450.2L511,450.1L513.5,449.5L517,449.5L521,448.5L524,448.7L527.5,448.1L531,448.9" fill="none" stroke="#404040" stroke-opacity="0.096" stroke-width="0.9"/>
<path d="M37.9,515.3L40.4,515.3L40.9,515L41.4,514.4L41.9,512.7L43.4,482.5L43.9,476.1L44.4,476.2L45.4,478.1L46.9,485.2L48.9,491.5L50.4,494.2L51.9,496.3L55.9,500.5L57.9,502L62.4,504.5L68.4,506L70.4,505.8L73,504.8L74,504L75.5,502.1L78.5,497.2L81,492.1L83.5,486.1L85,481.1L86,476.2L87,469.2L90,442L90.5,439.7L91,439.8L91.5,441.1L92.5,445.3L95,463.1L97,475.1L98.5,482.7L101.5,495L102.5,498L103.5,500L106.5,503.7L109,507.7L110,508.6L111,508.5L112,507.9L116.5,504.1L118,502.4L119.5,499.8L121,495.3L122.5,489.2L124,478L125,472.9L125.5,472.5L126,472.5L128.5,473.7L131,477L132,477.6L133,477.4L136,475.8L141,470.7L143,469.4L144.5,469.4L147.5,470.3L148,470.6L149.5,472.6L150,472.8L150.5,465.2L151,449.4L153,377.2L154,355.5L154.5,349.8L155,349.7L155.5,351.6L157.1,363L158.6,386.2L160.6,431.8L162.1,457.9L163.6,474.1L164.1,477.8L164.6,479.8L165.1,478.5L165.6,472.9L168.6,425.8L169.6,419.7L170.1,418.1L170.6,418L171.1,419.5L172.6,428.3L175.1,440.3L177.1,444.6L178.1,445.8L178.6,446L179.6,445.6L182.1,443.3L184.1,443L187.6,443.8L191.1,443.9L194.1,445L198.1,445.5L201.6,446.9L204.6,447.3L207.6,448.3L208.6,448.4L212.1,447.5L215.1,447.1L218.6,445.6L222.1,445.2L225.6,443.8L229.1,443.5L232.6,442.5L236.1,442.7L239.7,442.2L243.2,442.9L246.7,442.9L250.2,443.9L253.7,444L256.7,444.9L260.7,445.1L264.2,446.1L267.2,445.7L271.2,445.7L274.2,444.6L277.7,444.3L281.7,443.1L284.2,443.1L285.7,442.9L286.2,443.1L287.2,445.7L288.7,452.7L291.7,475.1L292.7,480.5L293.2,481.5L294.2,481.1L295.2,480.1L295.7,478.3L298.2,455.2L300.2,439.9L300.7,437.3L301.2,436L302.2,434.6L303.2,434L303.7,434L304.2,434.6L305.2,437.1L307.2,443.5L308.2,445.3L308.7,445.5L314.7,444.7L318.2,445.5L319.7,445.6L323.3,444.5L326.3,444.5L330.3,443.2L333.8,443L337.3,441.9L340.3,442L343.8,441.1L347.3,441.5L350.8,441L354.3,441.7L357.8,441.6L361.3,442.5L364.8,442.5L368.3,443.4L371.8,443.2L375.3,443.8L378.8,443.2L382.3,443.5L385.8,442.7L389.3,443L392.8,442.3L395.8,442.8L399.8,442.3L403.3,442.8L406.4,442.5L409.9,443.1L413.4,442.8L416.9,443.4L420.4,443.1L423.9,443.6L427.4,443.1L430.9,443.5L434.4,442.9L437.9,443.3L440.9,442.9L444.9,443.7L448.4,443.7L451.9,444.7L455.4,444.7L458.9,445.4L462.4,445L465.4,445.5L468.9,444.9L472.4,445.1L475.9,444.3L479.4,444.3L482.9,443.3L486.4,443.2L490,442.3L493.5,442.5L497,442L500.5,442.7L504,442.7L507.5,443.7L510.5,443.8L514,444.9L518,445.1L521,446L524.5,445.8L528,446.3L531,445.8" fill="none" stroke="#404040" stroke-opacity="0.108" stroke-width="0.9"/>
<path d="M37.9,515.3L40.9,515.2L41.9,514.1L42.4,510L43.9,479.4L44.4,476.4L45.4,477.6L45.9,478.9L47.4,485.8L49.4,491.7L51.9,495.7L56.4,500.3L58.9,502.1L63.4,504.4L65.9,505.2L68.4,505.7L70.4,505.7L73,504.9L74,504.3L75.5,502.5L78.5,497.9L80.5,494.1L84,485.8L85.5,481L87,472.3L90,445.7L90.5,442.3L91,441.4L91.5,442.4L93,448.8L95.5,464.9L98,478.8L101.5,493.9L102.5,497L103.5,499.2L107,503.9L109,507L110,508.1L111,508.2L112,507.8L115,505.4L118,502.3L120,499.1L121,496.2L122.5,490.5L124.5,476.3L125,473.5L125.5,472.3L126.5,472.5L129,474.2L132,477.6L133.5,478L134.5,477.9L136,477.1L139,473.4L143.5,469.8L144.5,469.3L145.5,469.4L147,470L148.5,471.1L150,472.8L150.5,470.9L151,459.5L153.5,371.5L154.5,351.7L155,348.6L155.5,349.6L156.1,351.9L157.1,358.8L157.6,364.2L159.1,388.5L160.6,424.3L162.1,452.6L163.6,471L164.6,478.4L165.1,479.3L165.6,476.2L166.1,469.5L168.6,429.2L169.6,421.2L170.1,418.9L170.6,417.8L171.1,418.3L171.6,420.2L174.6,437L175.6,441.3L177.1,444.8L178.1,446.2L178.6,446.4L179.6,446.1L182.1,444.3L186.1,443.9L189.6,444.7L193.1,444.5L197.1,445.3L200.1,445.2L204.1,446.4L207.1,446.5L210.1,447L211.6,446.8L214.6,445.7L218.1,445.5L221.1,444.7L224.6,444.8L228.1,443.9L231.6,444.2L235.1,443.5L238.6,443.8L242.2,443.1L245.7,443.5L248.7,443L252.7,443.5L256.2,443.1L259.7,443.8L263.2,443.8L266.7,444.7L270.2,444.3L273.2,444.6L276.7,443.9L280.2,444.1L283.7,443.6L286.2,443.9L287.2,446L288.7,452.2L292.2,476.8L293.2,481.7L293.7,482.3L294.2,482.1L295.2,481.3L295.7,480.4L296.2,477.7L298.2,458.1L300.7,439.3L301.2,437.2L301.7,436.2L302.7,434.7L303.7,433.9L304.2,433.9L305.2,435.6L307.7,443.6L308.7,445.1L309.7,444.9L312.2,443.5L313.2,443.4L315.7,443.8L321.7,443.9L325.3,443L328.8,443.2L332.3,442.5L335.8,442.8L339.8,442.1L342.8,442.5L346.3,442L349.8,442.4L353.3,441.9L356.8,442.4L360.3,441.9L363.8,442.4L367.3,442L370.8,442.5L374.3,442.1L377.8,442.6L380.8,442.1L384.8,442.7L387.8,442.3L391.3,442.9L394.8,442.7L398.3,443.3L401.8,442.9L405.3,443.4L408.9,442.8L412.9,443.1L415.9,442.5L419.4,442.9L422.9,442.3L426.4,442.8L429.9,442.3L432.9,442.9L436.9,442.6L440.4,443.5L443.4,443.4L446.9,444.5L450.4,444.5L454.4,445.3L457.4,444.9L461.4,445.1L464.4,444.4L468.4,444.4L471.4,443.5L474.9,443.7L478.4,443.1L481.9,443.4L485.4,442.9L488.9,443.4L492.5,443L496,443.6L499.5,443.2L503,443.8L506,443.5L510,444L513,443.6L516.5,444.1L520,443.7L523.5,444.4L527.5,444.2L531,445" fill="none" stroke="#404040" stroke-opacity="0.093" stroke-width="0.9"/>
<path d="M37.9,515.3L40.9,515.2L41.9,514.1L42.4,510.2L43.9,484.8L44.4,482L45.4,483.2L45.9,484.4L47.4,490.8L48.9,495.1L50.4,497.6L51.9,499.3L57.9,504.2L62.9,506.7L64.9,507.4L67.9,508L69.9,508.1L71.4,507.9L73.5,507.1L75.5,504.9L79.5,499.3L84,491L85,488.6L86,485.3L87.5,477.7L88,476.1L89,474.3L90.5,469.2L91,469.3L92,470.6L92.5,470.8L93.5,470.3L94,470.5L95,471.9L96,474.9L99,489.1L101,496.7L102.5,501.2L104,503.7L107,507L109,509.9L110,510.9L110.5,511.1L112,510.7L116.5,507.6L118.5,506L120,504L121,501.7L122.5,496.7L124.5,483.6L125,481.2L125.5,480.4L126.5,482L128.5,486.4L131,490.8L132.5,492.4L134.5,492.8L136,492.3L139,488.4L143.5,484.6L144.5,484L146.5,483.7L147,483.4L148.5,481.3L150,480.2L150.5,478.2L151,467.3L153.5,389.5L154.5,372.8L155,370L155.5,370.6L156.6,374.4L157.6,381L159.1,402L160.6,435L162.6,467.7L164.1,481.2L164.6,484.1L165.1,485L165.6,482.1L166.1,475.8L168.6,439L169.1,434.6L170.1,430.5L170.6,429.6L171.1,430.1L171.6,432.1L174.6,449.1L175.6,453.6L177.1,457.4L178.1,458.9L178.6,459.2L179.6,458.8L181.1,457.5L182.1,457L184.1,457.1L186.1,456.9L187.6,457L190.6,457.7L193.6,457.5L197.6,458.3L200.6,458.2L204.6,459.3L207.6,459.2L210.6,459.6L212.1,459.3L215.1,458.2L218.6,458.1L221.6,457.2L225.1,457.3L228.6,456.6L232.1,456.9L235.6,456.3L239.2,456.7L242.7,456.1L246.2,456.6L249.7,456L253.2,456.4L256.7,455.9L260.2,456.6L263.7,456.4L267.2,457.2L270.2,456.7L274.2,457L277.2,456.4L280.7,456.9L284.2,456.5L286.2,456.8L287.2,458.5L288.7,463.5L292.7,487.6L293.2,489.5L293.7,490.1L294.7,489.8L295.7,488.6L296.2,486.1L298.2,466.8L300.7,448.7L301.2,446.8L301.7,445.9L302.7,444.8L303.7,444.4L304.2,444.6L305.2,446.6L308.2,456.8L308.7,457.5L309.2,457.6L310.2,457.4L312.2,456.3L313.2,456L316.7,456.6L319.2,456.4L322.2,456.7L325.8,456.1L329.3,456.6L332.8,456.1L336.3,456.5L339.8,455.9L343.3,456.2L346.8,455.5L350.3,455.7L353.8,455L357.3,455.3L360.8,454.7L364.3,455.2L367.8,454.9L371.3,455.5L374.8,455.2L378.3,455.9L381.8,455.6L384.8,456.3L388.3,456L391.8,456.6L395.3,456.2L398.8,456.7L402.3,456.1L406.4,456.3L409.4,455.6L412.9,455.9L416.4,455.2L419.9,455.7L423.4,455.3L426.9,456L430.4,455.8L433.9,456.6L437.4,456.3L440.9,457.1L443.9,457L447.4,457.8L451.4,457.6L454.4,458.1L457.9,457.5L461.9,457.7L464.9,457L468.4,457.2L471.9,456.6L475.4,457L478.9,456.4L482.4,456.8L485.9,456.2L489.5,456.6L492.5,456.1L496.5,456.5L500,456L503.5,456.5L506.5,456.1L510,456.7L513.5,456.3L517,456.9L520.5,456.6L524,457.3L528,457.2L531,457.9" fill="none" stroke="#404040" stroke-opacity="0.096" stroke-width="0.9"/>
<path d="M37.9,515.3L41.4,515.3L41.9,515L42.4,514.3L42.9,511.9L44.4,480.2L44.9,474.3L45.4,474.5L46.4,476.5L47.9,483.7L49.9,490.1L52.9,495.2L56.4,499.1L58.9,501L62.9,503.5L64.9,504.3L69.4,505.5L71.4,505.3L74,504.5L75,503.7L76.5,501.8L79.5,496.8L82,491.7L84.5,485.5L86,480.3L87.5,471.4L90.5,442.3L91,438L91.5,436L92,436.5L92.5,438.3L93.5,443.7L96,462.6L98.5,476.7L102.5,494.1L103.5,497.1L104.5,499L107.5,502.8L110,506.8L111,507.7L112,507.6L113,507L117,503.3L119,500.9L120.5,498L123,489.5L125.5,472.1L126,469.9L126.5,469.3L128,468.9L129.5,469.5L132,472.7L133,473.2L137,471.6L138,470.8L140.5,467.8L142,466.4L143,465.7L144.5,465.4L146,465.7L147,466.2L148.5,467.8L150.5,470.9L151,470.8L151.5,462.5L152,446L154,371.5L155,349.7L155.5,344.4L156.1,344.8L156.6,347.2L158.1,359.9L159.6,383.8L161.6,430.2L163.1,456.8L164.6,473.2L165.1,476.9L165.6,478.8L166.1,477.3L166.6,471.6L169.6,423.7L170.6,417.8L171.1,416.3L171.6,416.3L172.1,418L173.6,426.8L176.1,438.7L178.1,443.1L179.1,444.5L179.6,444.6L180.6,444.1L182.6,441.9L184.1,441.4L188.1,441.8L191.6,441.5L195.1,442.3L198.1,442.1L201.6,443.1L205.1,443.2L208.1,444.1L209.1,444.1L212.1,443.3L215.6,442.8L219.1,441.4L222.6,441.2L226.1,440L229.6,440L233.1,439.4L236.6,439.8L240.2,439.5L243.7,440.3L246.7,440.2L250.7,441.2L253.7,441.1L257.2,441.9L260.7,441.9L264.7,442.9L267.7,442.6L271.2,442.9L274.7,442L278.2,442L281.7,441.1L284.7,441.4L286.7,441.2L287.2,441.5L287.7,442.7L289.2,449L292.7,474.3L293.7,479.5L294.2,480.5L295.2,480L296.2,479L296.7,477.1L299.2,453.6L301.2,437.9L301.7,435.2L302.2,433.9L303.2,432.3L304.2,431.5L304.7,431.5L305.2,431.9L306.2,434L308.2,439.6L309.2,441.2L309.7,441.3L311.7,440.7L315.2,439.3L316.7,439.3L319.7,439.9L323.8,438.8L326.8,439.1L330.3,438.5L333.8,439.1L337.3,438.8L340.8,439.6L344.3,439.4L347.8,440.3L351.3,440L354.8,440.7L358.3,440.2L361.8,440.7L365.3,440.1L368.8,440.4L372.3,439.8L375.8,440.1L379.3,439.5L382.3,439.9L385.8,439.4L389.3,440L392.8,439.5L396.3,440.1L399.8,439.6L403.3,439.9L406.9,439.2L410.4,439.3L413.9,438.5L417.4,438.7L420.9,438.1L424.4,438.7L427.9,438.4L431.4,439.3L434.9,439.4L437.9,440.4L441.4,440.6L444.9,442L448.4,442.3L452.4,443.4L455.4,443.2L458.9,443.6L462.4,442.7L465.9,442.7L469.4,441.6L472.9,441.6L476.4,440.7L479.9,440.8L483.4,440.1L486.9,440.4L490.5,439.8L493.5,440.2L497.5,439.6L500.5,440.1L504,439.6L507.5,440L511,439.5L514.5,440L518,439.7L521.5,440.5L525,440.5L528.5,441.5L531,441.6" fill="none" stroke="#404040" stroke-opacity="0.119" stroke-width="0.9"/>
<path d="M362.3,444.8L381.3,445.5L389.8,446.2L393.8,446.8L396.8,447.4L399.3,448.2L401.8,449.3L405.3,451.8L407.4,453.7L408.9,455.5L411.9,459.8L418.9,471.4L422.4,476L424.4,478L426.9,479.8L429.4,481L431.9,481.8L435.9,482.3L440.4,482.2L445.4,481.6L461.4,479.4L466.9,479L471.9,478.8L476.9,479L482.4,479.5L502.5,482.6L511,483.4L516,483.5L520.5,483.4L525.5,483L531,482.3" fill="none" stroke="#3a3a3a" stroke-opacity="0.06" stroke-width="0.85"/>
<path d="M362.3,444.9L373.3,445.4L377.8,446L381.8,446.7L384.8,447.5L387.8,448.6L399.3,454.3L402.3,455.5L405.3,456.4L411.4,457.7L427.4,460.6L439.4,462.3L447.9,462.8L455.9,462.6L463.4,461.7L482.4,458.8L488.4,458.3L494,458.1L499.5,458.3L505,458.8L523.5,461.6L531,462.5" fill="none" stroke="#3a3a3a" stroke-opacity="0.06" stroke-width="0.85"/>
<path d="M362.3,441L369.3,441.3L375.3,442L379.8,443L383.8,444.4L386.8,446.2L389.8,448.6L392.3,451.2L398.3,457.9L401.8,461.2L403.8,462.6L405.8,463.6L407.9,464.3L410.4,464.8L415.4,465L430.9,463.8L435.9,463.7L440.4,463.8L449.4,464.7L470.4,467.8L475.9,468.3L481.4,468.4L486.9,468.2L492.5,467.7L510.5,465L517,464.2L524,463.8L531,464" fill="none" stroke="#3a3a3a" stroke-opacity="0.06" stroke-width="0.85"/>
<path d="M362.3,445.1L364.8,445.7L367.3,446.6L369.3,447.7L371.3,449.1L373.3,450.8L375.3,452.9L383.3,463L386.8,466.6L388.8,468.2L390.8,469.4L392.8,470.2L395.3,470.8L399.8,471.1L413.9,470.6L421.9,470.8L429.9,471.7L448.9,474.6L453.9,475.1L458.9,475.4L464.4,475.3L470.4,474.8L493,471.5L498,471L503,470.7L509,470.7L515,471.2L521,472L531,473.6" fill="none" stroke="#3a3a3a" stroke-opacity="0.06" stroke-width="0.85"/>
<path d="M362.3,446L367.3,447L371.8,448.8L375.8,451L384.8,456.9L387.8,458.4L391.3,459.8L396.3,461.3L402.8,462.8L411.4,464.4L418.4,465.4L426.9,465.9L435.4,465.7L442.9,464.8L461.9,461.9L467.4,461.4L472.9,461.2L478.4,461.4L483.9,461.9L504,464.9L512,465.7L521,465.9L526,465.5L531,465" fill="none" stroke="#3a3a3a" stroke-opacity="0.06" stroke-width="0.85"/>
<path d="M362.3,449.5L365.3,450.5L368.3,451.9L376.8,457.4L379.3,458.8L381.8,459.9L384.8,460.8L389.8,461.5L400.8,462.2L407.4,462.8L431.4,466.4L439.9,466.9L447.9,466.7L455.4,465.8L474.9,462.9L480.9,462.3L486.4,462.2L492,462.4L497.5,462.9L520.5,466.3L526,466.7L531,466.8" fill="none" stroke="#3a3a3a" stroke-opacity="0.06" stroke-width="0.85"/>
<path d="M362.3,444.2L371.8,444.5L381.8,445.3L386.8,446.1L391.3,447.4L394.8,449.1L398.3,451.6L401.3,454.2L409.4,462.1L411.9,464.1L414.4,465.8L417.4,467.5L420.9,468.9L424.9,470.1L429.4,471L433.4,471.5L437.9,471.9L442.4,471.9L446.9,471.8L454.9,470.9L474.9,467.9L480.9,467.4L486.4,467.3L492,467.5L497.5,468L520.5,471.4L526,471.9L531,472" fill="none" stroke="#3a3a3a" stroke-opacity="0.06" stroke-width="0.85"/>
<path d="M362.3,444.5L366.8,445.1L370.3,446L373.3,447.2L376.3,449L378.8,451L381.3,453.7L383.8,456.9L391.3,467.5L393.8,470.4L396.3,472.7L399.3,474.9L402.8,476.7L407.4,478.3L412.9,479.7L419.9,481.1L426.9,482.1L432.9,482.5L438.9,482.6L443.9,482.3L448.9,481.8L471.4,478.4L477.4,478L483.4,477.9L488.4,478.2L493.5,478.7L510.5,481.3L517,482.2L524,482.6L531,482.5" fill="none" stroke="#3a3a3a" stroke-opacity="0.06" stroke-width="0.85"/>
<path d="M362.3,442.3L369.3,442.7L375.3,443.4L379.8,444.6L383.8,446.4L386.8,448.6L389.8,451.6L392.3,454.7L398.8,463.4L402.3,467.2L404.3,468.8L406.9,470.3L409.4,471.3L411.9,471.9L415.4,472.2L419.4,472.1L440.4,469.4L445.9,469L451.4,468.9L456.4,469.2L461.9,469.7L478.9,472.4L484.9,473.2L491,473.6L496.5,473.6L501.5,473.4L506.5,472.8L524,470.2L531,469.3" fill="none" stroke="#3a3a3a" stroke-opacity="0.06" stroke-width="0.85"/>
<path d="M49.2,505.9L51.3,508.5L53.2,510.3L56.2,512.3L58.4,513.2L63.7,513.8L67.3,513.6L70.7,512.6L71.9,511.7L73.1,510.4L74.3,508.6L75,506.8L78.7,489.2L80.3,484L81.7,481.4L84.1,479.8L85.3,478.2L86.7,475.7L88.1,472.2L89.1,467.9L91.7,453.6L92.1,452.2L92.3,451.9L92.7,452.8L93.1,454.9L96.6,480.7L98.1,488.5L99.6,494.6L101.5,500.2L104.2,506.2L105.2,507.6L106.9,509.4L108.1,510.5L109.1,511L110,511.2L113,511L114.5,510.8L115.5,510.4L116.8,509.5L118.1,508L119.5,506.1L120.3,504.6L121.6,500.5L122.8,495.8L125.9,473.2L126.6,469.7L127,469.7L127.6,470.2L129.1,472.4L132.5,476.3L134.6,479.4L135.3,479.9L135.8,479.8L136.3,479L136.9,477.1L138.8,469.3L141.5,459.6L142.3,457.7L142.7,457.1L143,456.9L143.5,457.2L144.2,457.9L145.7,460.8L147.7,469.3L148,470.2L148.4,470.5L148.9,468.1L149.4,462.8L150.8,439.2L153.8,329.1L154.4,314.7L154.5,313.8L154.7,313.8L154.8,314.3L155.2,318.2L156.6,346.2L157.9,367L158.2,368.9L158.4,369.4L159.7,364.2L159.9,363.8L160.2,364.9L161.8,391.5L163.3,404.9L163.8,407.6L164.3,408.6L164.7,405L165.1,395.6L166.3,349.8L167.8,304.8L168.3,294.6L168.7,291.9L169.2,295.1L169.7,303.4L173.8,399.1L176.1,441.7L177.3,458.3L178.7,468.4L179.6,472.1L180,472.6L180.2,472.2L181,467.5L183.2,436.8L184,420.4L186.1,360.8L186.7,349.8L187.2,346.2L187.5,346.5L187.8,349L188.5,357.7L190.6,403.6L193.5,452.9L194.1,460.2L194.8,465.9L195.7,471.4L196.5,474.2L196.8,474.6L197.1,474.2L197.6,471.4L199.6,448.2L201.6,428.9L202.4,423.3L202.7,421.6L203.1,421L203.4,421.3L203.7,422.6L204.5,428L208.5,467.4L209.1,470.8L209.4,471.1L209.5,471L209.7,470.3L210.7,461.9L212.6,437.1L215,394.7L215.6,386.9L216.1,384L216.2,383.9L216.4,384.1L216.6,385.6L217.1,392.5L220.3,459.7L220.8,467.9L221.1,470.9L221.3,471.1L221.5,471L222,470.3L223.1,466.9L226.8,452.2L229.4,439.3" fill="none" stroke="#34485a" stroke-width="1.5" stroke-dasharray="1.5 3.5" stroke-linecap="butt"/>
<path d="M294.6,515.2L307.1,515.1L315.6,514.8L322.6,514.2L328.1,513.4L333.1,512L337.1,510.3L340.6,508.2L344.1,505L346.6,502L349.1,498.2L351.6,493.2L353.6,488.4L355.6,482.6L358.1,474.1L364.6,447.5L366.6,440.4L367.6,437.6L368.6,435.5L369.6,434.3L370.6,433.9L371.6,434.2L373.1,435.9L374.1,437.6L375.6,441.1L378.1,448.6L383.6,467.7L386.1,475.7L389.1,484L392.6,491.8L396.1,497.8L399.6,502.3L403.6,506.1L406.1,507.9L408.6,509.3L413.6,511.4L419.6,513L426.6,514.1L435.6,514.7L445.6,515.1L460.1,515.2L530.6,515.3" fill="none" stroke="#f4221a" stroke-width="1.05"/>
<path d="M294.6,515.2L307.6,515.1L316.6,514.7L323.6,514.2L329.6,513.3L334.6,512L339.1,510.2L342.6,508.1L346.1,505.2L349.1,501.8L351.6,498.2L354.1,493.6L356.6,487.9L358.6,482.4L361.1,474.4L367.6,449.9L369.6,443.2L371.1,439.3L372.1,437.4L373.1,436.2L374.1,435.8L375.1,436.1L376.6,437.5L377.6,439.2L379.1,442.5L381.6,449.8L387.1,468.5L389.6,476.3L392.6,484.5L396.1,492.1L399.6,498L403.1,502.5L407.1,506.2L409.6,508L412.1,509.4L417.1,511.5L423.1,513L430.1,514.1L439.1,514.7L449.1,515.1L463.1,515.2L530.6,515.3" fill="none" stroke="#f4221a" stroke-width="1.05"/>
<path d="M294.6,515.2L309.1,515L319.1,514.6L326.6,514L333.1,513L338.6,511.6L343.1,509.7L347.1,507.3L351.1,503.9L354.1,500.5L357.1,496L359.6,491.4L362.1,485.7L364.6,479L367.1,471L374.1,445L376.6,436.7L378.1,432.9L379.1,431L380.6,429.4L381.6,429.1L382.6,429.5L384.1,431.2L385.1,433L386.6,436.6L389.1,444.3L394.6,464.1L397.6,473.9L400.6,482.4L403.6,489.4L407.1,495.9L410.6,500.8L414.6,504.9L417.1,506.9L419.6,508.5L424.6,510.8L430.6,512.6L437.6,513.8L446.1,514.6L455.6,515L469.1,515.2L530.6,515.3" fill="none" stroke="#f4221a" stroke-width="1.05"/>
<path d="M294.6,515.3L309.1,515.1L318.6,514.8L326.1,514.2L332.1,513.4L337.1,512.1L341.6,510.3L345.6,507.8L349.1,504.7L352.1,501L354.6,497L357.1,492L359.6,485.8L361.6,479.7L364.1,470.8L371.1,440.9L373.1,433.4L374.1,430.4L375.1,428.3L376.1,427.2L377.1,426.9L378.1,427L379.1,427.4L381.1,428.8L383.1,431L385.6,434.3L392.1,444.8L398.1,455.9L401.1,461L409.6,474L412.6,478.1L416.1,481.5L420.1,484.7L428.6,490.8L431.1,492.3L433.6,493.5L437.1,494.4L443.1,495.3L447.6,495.6L450.6,495.3L464.1,491.7L471.1,489.4L482.6,485.4L490.6,483.2L495.1,482.5L503.6,482.5L516.6,483.1L522.6,483.7L530.6,484.9" fill="none" stroke="#f4221a" stroke-width="1.05"/>
<path d="M294.6,515.2L310.6,515.1L321.1,514.7L329.1,514.1L335.6,513.1L341.1,511.6L346.1,509.5L350.1,507L354.1,503.4L357.1,499.7L360.1,494.9L363.1,488.7L365.6,482.3L368.1,474.6L370.6,465.6L377.6,436.3L379.6,428.8L381.1,424.4L382.1,422.2L383.1,420.9L384.1,420.4L385.6,420.6L387.1,421.3L388.6,422.6L390.6,424.8L394.6,430.2L404.6,445.5L407.6,449.1L411.1,451.9L415.1,454.2L420.6,456.5L425.1,458L428.1,458.6L433.1,459L444.1,459.4L450.6,459.1L469.6,457.5L479.1,457L485.1,456.9L490.1,457.2L514.6,459.5L522.6,459.6L530.6,459.2" fill="none" stroke="#f4221a" stroke-width="1.05"/>
<path d="M294.6,515.2L310.1,515.1L321.1,514.7L329.6,514.1L336.6,513.1L342.6,511.7L347.6,509.8L352.1,507.4L356.1,504.2L359.6,500.5L362.6,496.4L365.6,491.3L368.1,486L370.6,479.8L373.6,471L380.6,447L383.1,439.2L384.6,435.3L385.6,433.2L387.1,431.2L388.1,430.6L389.6,430.6L391.6,431.7L393.1,433.1L395.1,435.7L397.6,440.4L402.6,452.3L405.6,456.8L409.1,461.2L412.1,464.1L416.1,466.9L421.1,469.8L425.1,471.3L428.1,471.8L436.6,471.5L445.1,470.8L458.1,468.9L475.1,468L500.1,468.1L514.6,469L530.6,469.6" fill="none" stroke="#f4221a" stroke-width="1.05"/>
<path d="M294.6,515.3L324.1,515L332.6,514.6L339.6,514L345.6,513.1L350.6,511.7L354.6,510L358.6,507.6L361.6,505.1L364.6,501.7L367.6,497.4L370.1,492.8L372.6,487.2L375.1,480.6L382.1,458.5L384.1,452.8L385.6,449.5L386.6,447.9L387.6,446.9L388.6,446.6L389.6,446.7L390.6,447.2L391.6,448.1L392.6,449.4L394.1,452.1L398.6,461.7L401.1,465.7L405.1,470.3L410.1,475.1L413.1,477.6L417.6,480.9L424.1,484.9L428.1,486.7L433.6,488.6L437.6,489.7L442.6,490.5L449.6,490.6L452.1,490.3L463.1,487.5L481.1,481.7L488.1,480.4L493.1,479.7L499.6,479.5L515.6,479.8L530.6,480.8" fill="none" stroke="#f4221a" stroke-width="1.05"/>
<path d="M294.6,515.3L341.1,515.2L351.6,515L359.6,514.6L366.6,513.9L372.1,512.8L377.1,511.2L381.1,509.1L384.6,506.4L388.1,502.7L391.1,498.2L394.1,492.4L396.6,486.2L399.1,478.7L406.1,453L408.1,446.4L409.1,443.8L410.1,441.8L411.1,440.6L412.1,440.1L413.1,440.3L414.6,441.5L416.1,443.8L417.6,446.9L420.1,453.6L428.1,477.7L431.1,485.2L434.1,491.5L437.1,496.6L440.6,501.2L444.1,504.7L448.1,507.7L452.6,510.1L457.6,511.9L463.6,513.2L471.1,514.2L479.6,514.7L490.6,515.1L530.6,515.3" fill="none" stroke="#f4221a" stroke-width="1.05"/>
<path d="M294.6,515.3L342.1,515.2L352.6,515L360.6,514.6L367.6,513.9L373.1,512.9L378.1,511.3L382.1,509.3L385.6,506.7L389.1,503L392.1,498.7L395.1,493L397.6,487L400.1,479.7L402.6,471.1L407.1,454.3L409.1,447.6L410.6,443.8L411.6,442.1L412.6,441.1L413.6,440.8L414.6,441.1L416.1,442.6L417.6,445L419.1,448.3L421.6,455.1L429.1,477.5L432.1,485L435.1,491.3L438.1,496.4L441.6,501.1L445.1,504.7L449.1,507.7L453.6,510L458.6,511.8L464.6,513.2L472.1,514.2L480.6,514.7L491.1,515.1L530.6,515.3" fill="none" stroke="#f4221a" stroke-width="1.05"/>
<path d="M294.6,515.3L346.1,515.2L357.1,515L365.1,514.5L372.1,513.6L378.1,512.2L380.6,511.3L383.1,510.1L387.1,507.4L389.1,505.6L391.1,503.3L393.1,500.6L394.6,498.1L397.6,491.9L400.6,483.7L403.1,475L405.6,464.5L412.1,431.3L414.1,422.1L415.1,418.4L416.1,415.8L416.6,415L417.6,414.2L419.1,414.3L420.6,415L422.1,416.2L423.6,417.8L426.6,421.8L432.1,430.4L436.6,436.8L439.6,440.8L442.1,443.6L446.1,447.3L449.1,449.6L451.1,450.7L454.6,452.1L457.6,452.6L461.6,452.3L467.1,451.4L474.6,449.3L477.6,448.7L486.1,447.6L492.1,447.2L497.6,447.5L510.6,449.3L530.6,451" fill="none" stroke="#f4221a" stroke-width="1.05"/>
<line x1="294.6" y1="515.3" x2="531.0" y2="515.3" stroke="#f4221a" stroke-width="1.6" stroke-linecap="round"/>
<rect x="30.4" y="279.5" width="500.6" height="250" fill="none" stroke="#8c8c8c" stroke-width="1.1"/>
<line x1="26.6" y1="515.3" x2="30.4" y2="515.3" stroke="#333333" stroke-width="1.1"/>
<text x="23.8" y="519" font-size="10.4" fill="#4d4d4d" text-anchor="end" >0</text>
<line x1="26.6" y1="456.36" x2="30.4" y2="456.36" stroke="#333333" stroke-width="1.1"/>
<text x="23.8" y="460.06" font-size="10.4" fill="#4d4d4d" text-anchor="end" >2</text>
<line x1="26.6" y1="397.42" x2="30.4" y2="397.42" stroke="#333333" stroke-width="1.1"/>
<text x="23.8" y="401.12" font-size="10.4" fill="#4d4d4d" text-anchor="end" >4</text>
<line x1="26.6" y1="338.48" x2="30.4" y2="338.48" stroke="#333333" stroke-width="1.1"/>
<text x="23.8" y="342.18" font-size="10.4" fill="#4d4d4d" text-anchor="end" >6</text>
<line x1="26.6" y1="279.54" x2="30.4" y2="279.54" stroke="#333333" stroke-width="1.1"/>
<text x="23.8" y="283.24" font-size="10.4" fill="#4d4d4d" text-anchor="end" >8</text>
<line x1="30.4" y1="529.5" x2="30.4" y2="533.1" stroke="#333333" stroke-width="1.1"/>
<text x="30.4" y="544" font-size="10.4" fill="#4d4d4d" text-anchor="middle" >2020</text>
<line x1="92.97" y1="529.5" x2="92.97" y2="533.1" stroke="#333333" stroke-width="1.1"/>
<text x="92.97" y="544" font-size="10.4" fill="#4d4d4d" text-anchor="middle" >2021</text>
<line x1="155.55" y1="529.5" x2="155.55" y2="533.1" stroke="#333333" stroke-width="1.1"/>
<text x="155.55" y="544" font-size="10.4" fill="#4d4d4d" text-anchor="middle" >2022</text>
<line x1="218.13" y1="529.5" x2="218.13" y2="533.1" stroke="#333333" stroke-width="1.1"/>
<text x="218.13" y="544" font-size="10.4" fill="#4d4d4d" text-anchor="middle" >2023</text>
<line x1="280.7" y1="529.5" x2="280.7" y2="533.1" stroke="#333333" stroke-width="1.1"/>
<text x="280.7" y="544" font-size="10.4" fill="#4d4d4d" text-anchor="middle" >2024</text>
<line x1="343.27" y1="529.5" x2="343.27" y2="533.1" stroke="#333333" stroke-width="1.1"/>
<text x="343.27" y="544" font-size="10.4" fill="#4d4d4d" text-anchor="middle" >2025</text>
<line x1="405.85" y1="529.5" x2="405.85" y2="533.1" stroke="#333333" stroke-width="1.1"/>
<text x="405.85" y="544" font-size="10.4" fill="#4d4d4d" text-anchor="middle" >2026</text>
<line x1="468.43" y1="529.5" x2="468.43" y2="533.1" stroke="#333333" stroke-width="1.1"/>
<text x="468.43" y="544" font-size="10.4" fill="#4d4d4d" text-anchor="middle" >2027</text>
<line x1="531" y1="529.5" x2="531" y2="533.1" stroke="#333333" stroke-width="1.1"/>
<text x="531" y="544" font-size="10.4" fill="#4d4d4d" text-anchor="middle" >2028</text>
<text x="11.2" y="404.5" font-size="13.35" fill="#272c34" text-anchor="middle" transform="rotate(-90 11.2 404.5)">Population Infected (%)</text>
<text x="284.6" y="527.75" font-size="10.0" fill="#111" text-anchor="middle" font-weight="bold">X</text>
<text x="294.2" y="527.75" font-size="10.0" fill="#f4221a" text-anchor="middle" font-weight="bold">X</text>
<text x="536.6" y="459.4" font-size="17.0" fill="#f4221a" text-anchor="middle" font-weight="bold">*</text>
<text x="536.6" y="467.8" font-size="17.0" fill="#f4221a" text-anchor="middle" font-weight="bold">*</text>
<text x="536.6" y="478.7" font-size="17.0" fill="#f4221a" text-anchor="middle" font-weight="bold">*</text>
<text x="536.6" y="488.6" font-size="17.0" fill="#f4221a" text-anchor="middle" font-weight="bold">*</text>
<text x="536.6" y="495.8" font-size="17.0" fill="#f4221a" text-anchor="middle" font-weight="bold">*</text>
<text x="551.6" y="289.5" font-size="12.1" fill="#272c34" text-anchor="start" >Virus</text>
<line x1="553.3" y1="308.1" x2="569.6" y2="308.1" stroke="#5a6b7c" stroke-width="1.5" stroke-dasharray="2.8 3.7"/>
<line x1="553.1" y1="328.7" x2="569.6" y2="328.7" stroke="#999" stroke-width="1.5"/>
<line x1="553.1" y1="349.9" x2="569.6" y2="349.9" stroke="#f4221a" stroke-width="1.5"/>
<text x="579.6" y="311.8" font-size="10.6" fill="#272c34" text-anchor="start" >SARS-CoV-2 (Data)</text>
<text x="579.6" y="332.8" font-size="10.6" fill="#272c34" text-anchor="start" >SARS-CoV-2 (Model)</text>
<text x="579.6" y="353.8" font-size="10.6" fill="#272c34" text-anchor="start" >SARS-CoV-X (Model)</text>
<text x="551.6" y="383.3" font-size="12.1" fill="#272c34" text-anchor="start" >SARS-CoV-2 Variant</text>
<rect x="552.1" y="392.3" width="19.7" height="19.4" fill="#e4f8e9"/>
<text x="579.2" y="405.9" font-size="10.6" fill="#272c34" text-anchor="start" >Omicron</text>
<rect x="552.1" y="413.3" width="19.7" height="19.4" fill="#b3ebdb"/>
<text x="579.2" y="426.9" font-size="10.6" fill="#272c34" text-anchor="start" >Delta</text>
<rect x="552.1" y="434.3" width="19.7" height="19.4" fill="#98bfcf"/>
<text x="579.2" y="447.9" font-size="10.6" fill="#272c34" text-anchor="start" >Alpha</text>
<rect x="552.1" y="455.3" width="19.7" height="19.4" fill="#9c99b8"/>
<text x="579.2" y="468.9" font-size="10.6" fill="#272c34" text-anchor="start" >Wuhan</text>
<text x="551.6" y="500.7" font-size="12.1" fill="#272c34" text-anchor="start" >Event</text>
<text x="562" y="518.44" font-size="12.0" fill="#111" text-anchor="middle" font-weight="bold">X</text>
<text x="562" y="534.84" font-size="12.0" fill="#f4221a" text-anchor="middle" font-weight="bold">X</text>
<text x="561.9" y="555.8" font-size="17.0" fill="#f4221a" text-anchor="middle" font-weight="bold">*</text>
<text x="572.2" y="518" font-size="10.6" fill="#272c34" text-anchor="start" >Vaccine Program Start</text>
<text x="572.2" y="534.1" font-size="10.6" fill="#272c34" text-anchor="start" >SARS-CoV-X Exposure</text>
<text x="572.2" y="550.4" font-size="10.6" fill="#272c34" text-anchor="start" >Emergence</text>
</g>
<path d="M51.2,759.6L55.1,759.6L57,758.8L58.4,757.7L59.9,756.1L63.3,751.5L65.5,748.8L66.6,748L67.9,747.4L68.9,747.1L70.3,747L72.1,747.1L74.3,747.5L84.8,750.4L95.5,752.5L112.2,754.9L129.2,756.7L146.8,757.9L164.7,758.6L187.8,759.1L219.2,759.4" fill="none" stroke="#482475" stroke-width="1.3"/>
<path d="M51.2,759.6L55,759.6L55.8,759.2L56.9,758L58.3,755.6L59.8,752.4L63.3,742.4L65.4,737.1L66.5,735.3L67.8,734.1L68.8,733.5L70.2,733.2L72,733.4L74.2,734.3L78.1,736.4L84.8,740.5L89.5,742.6L95.4,744.8L102.9,747.1L112.1,749.7L122,752.1L129.1,753.5L137.2,754.8L146.6,756L164.6,757.6L187.8,758.6L219.2,759.3" fill="none" stroke="#414487" stroke-width="1.3"/>
<path d="M51.2,759.6L55,759.5L55.8,758.8L56.9,757L58.3,753.3L59.8,748.4L63.2,733.5L65.3,725.5L66.4,722.9L67.7,721L68.7,720L70.1,719.6L71.9,719.9L74.1,721.3L78.1,724.5L82.6,728.9L84.7,730.6L89.4,733.8L95.4,737.1L102.9,740.7L112.1,744.6L122,748.2L129.1,750.4L137.2,752.3L146.6,754.1L155.5,755.5L164.6,756.5L175.2,757.4L187.8,758.1L219.2,759.1" fill="none" stroke="#355f8d" stroke-width="1.3"/>
<path d="M51.2,759.6L54.9,759.5L55.7,758.6L56.8,756.2L58.2,751.3L59.7,744.7L63.1,724.8L65.2,714L66.4,710.2L67.7,707.7L68.7,706.5L70.1,706L71.9,706.5L74.1,708.3L78,712.5L82.5,718.4L84.6,720.7L89.3,725L95.2,729.4L102.5,734.1L111.9,739.5L121.9,744.4L129,747.3L137.1,749.8L146.5,752.3L155.4,754L164.5,755.5L175.1,756.6L187.7,757.5L202.4,758.3L219.2,758.9" fill="none" stroke="#2a788e" stroke-width="1.3"/>
<path d="M51.2,759.6L54.8,759.5L55.7,758.2L56.8,755.2L58.2,748.8L59.7,740.5L63,716L65.2,701.6L66.3,697.2L67.6,694.1L68.6,692.4L70,691.7L71.8,692.3L74,694.6L77.9,699.9L82.5,707.5L84.6,710.4L89.3,715.8L95.2,721.4L102.7,727.5L111.9,734.1L121.9,740.3L129,744L137.1,747.2L146.5,750.3L155.4,752.6L164.5,754.4L175.1,755.8L187.7,757L202.4,758L219.2,758.7" fill="none" stroke="#21918c" stroke-width="1.3"/>
<path d="M51.2,759.6L54.7,759.5L55.6,757.9L56.7,754.2L58.1,746.5L59.6,736.3L62.9,706.7L65.1,689.4L66.2,684.1L67.5,680.4L68.5,678.4L69.3,677.8L69.9,677.6L70.8,677.8L71.7,678.3L73.9,681.1L77.8,687.5L82.3,696.5L84.4,700L89.1,706.5L95.1,713.5L102.5,720.8L111.8,728.9L121.8,736.3L125.4,738.8L128.9,740.8L137,744.7L146.4,748.4L155.3,751.1L164.4,753.3L175.1,755L187.7,756.5L202.5,757.7L219.2,758.5" fill="none" stroke="#22a884" stroke-width="1.3"/>
<path d="M51.2,759.6L54.1,759.6L54.6,759.3L55.4,757.6L56.5,753.2L57.9,744.1L59.4,732.1L62.6,697.1L64.9,676.6L66,670.4L67.3,665.9L68.3,663.6L69.1,662.9L69.7,662.7L70.6,662.9L71.5,663.5L73.7,666.8L77.6,674.4L82.1,684.9L84.2,689.1L88.9,696.9L94.9,705.1L102.3,713.7L111.6,723.3L121.5,732.1L125.2,735L128.7,737.3L136.8,742L146.2,746.3L155,749.6L164.2,752.1L174.9,754.2L187.6,755.9L202.5,757.3L219.2,758.3" fill="none" stroke="#44bf70" stroke-width="1.3"/>
<path d="M51.2,759.6L53.6,759.6L54,759.2L55,756.8L56,751.4L57.4,741.4L58.9,727.4L62.1,686.7L64.3,663.1L65.6,655.4L66.8,650.4L67.8,648.1L68.5,647.3L69.2,647L70.1,647.3L70.9,648L73.1,651.8L77,660.7L81.5,673L83.6,677.8L88.4,686.8L94.4,696.3L101.8,706.4L106.7,712.5L111.2,717.5L121.1,727.8L124.8,731.1L128.3,733.8L132.2,736.5L136.4,739.2L145.8,744.3L154.6,748L163.8,750.9L174.5,753.4L187.3,755.4L202.5,757L219.2,758.2" fill="none" stroke="#7ad151" stroke-width="1.3"/>
<path d="M51.2,759.6L53.1,759.6L53.7,758.5L54.7,754.8L55.5,749.4L56.9,737.6L58.2,722.5L61.5,675.7L63.7,648.4L65,639.5L66.2,633.8L67.2,631.1L67.9,630.2L68.5,629.9L69.5,630.3L70.3,631L72.5,635.4L76.4,645.7L80.9,659.8L83,665.4L87.7,675.7L93.7,686.7L101.2,698.3L106.1,705.3L110.5,711.1L120.6,723L124.3,726.8L127.7,730L131.6,733.1L135.8,736.1L140.6,739.2L145.3,742L149.6,744.2L154.2,746.3L158.9,748.2L163.3,749.7L174.2,752.5L187.1,754.8L202.5,756.7L219.2,758" fill="none" stroke="#bddf26" stroke-width="1.3"/>
<path d="M51.2,759.6L51.6,759.1L52.1,757.6L53.1,752.3L54.2,742.3L55.4,729.3L56.9,708.7L60.8,642.7L62,625.8L63.2,616.3L64.4,609.6L65.4,606.4L66.1,605.4L66.7,605L67.8,605.5L68.5,606.4L70.7,611.7L74.6,623.9L79.1,640.7L81.2,647.4L86.1,659.9L92,672.9L95.6,679.8L99.7,687.1L104.6,695.4L109.1,702.3L114.4,710.1L119.1,716.5L122.8,721L126.4,724.8L130.3,728.4L134.5,732L139.3,735.7L144,739L148.2,741.5L153.2,744.1L157.8,746.3L162.2,748L167.5,749.8L173.3,751.3L179.7,752.8L186.6,754.1L194.6,755.3L202.7,756.4L219.2,757.8" fill="none" stroke="#fde725" stroke-width="1.3"/>
<clipPath id="clipE"><rect x="274.7" y="586.6" width="168.6" height="173"/></clipPath>
<g clip-path="url(#clipE)">
<path d="M275.3,759.6L275.8,757.2L276.2,752.3L277.3,729.3L280.6,626.9L281.2,616.3L281.8,609.6L282.3,606.6L282.7,605.4L283,605L283.6,605.7L283.9,606.6L285.2,612.9L287.1,625L289.7,644.2L292.6,659.9L296.9,678L302.7,698L305.3,705.9L308.8,715.8L311,721.2L313.3,726L316.5,731.6L320.1,737.1L323.3,741.2L326.8,744.9L329.6,747.3L332.5,749.3L335.8,751.2L339.5,752.9L343.8,754.4L348.3,755.8L353.3,756.9L358.2,757.7L371.4,758.8L406.1,759.3L443.7,759.6" fill="none" stroke="#440154" stroke-width="1.3"/>
<path d="M300.4,759.6L300.9,757.2L301.3,752.3L302.5,729.3L305.7,626.9L306.3,616.3L307,609.6L307.4,606.6L307.8,605.4L308.1,605L308.7,605.7L309.1,606.6L310.3,612.9L312.2,625L314.8,644.2L317.4,658.4L321.3,675.2L326.1,692.5L328.8,701.2L331.6,709.2L334.4,716.9L336.7,722.4L339.3,727.6L342.1,732.4L345.6,737.6L348.7,741.5L351.8,744.7L354.5,747.1L357.4,749.2L360.8,751.1L364.7,752.9L369.1,754.5L373.6,755.8L378.9,757L384.9,757.9L395.8,758.7L443.7,759.4" fill="none" stroke="#443983" stroke-width="1.3"/>
<path d="M325.5,759.6L326,757.2L326.4,752.3L327.6,729.3L330.8,626.9L331.4,616.3L332.1,609.6L332.5,606.6L332.9,605.4L333.2,605L333.9,605.7L334.2,606.6L335.4,612.9L337.3,625L339.8,643.6L341.9,655.3L345.2,670.2L348.8,684.2L354.4,702.5L357.7,712.1L360.3,719L362.3,723.5L364.8,728.3L367.4,732.8L370.5,737.3L373.1,740.7L375.7,743.6L378.5,746.2L381.2,748.3L384.3,750.3L387.8,752L391.5,753.6L395.9,755L400.7,756.3L405.6,757.3L409.7,757.8L416.4,758.4L421.4,758.8L443.7,759.1" fill="none" stroke="#31688e" stroke-width="1.3"/>
<path d="M350.6,759.6L351.1,757.2L351.5,752.3L352.7,729.3L355.9,626.9L356.6,616.3L357.2,609.6L357.6,606.6L358,605.4L358.3,605L359,605.7L359.3,606.6L360.6,613.5L362.4,625L364.8,642.9L366.5,652.6L368.8,663.8L371.6,675.6L376.3,692.5L380.7,706.2L385.8,719.7L387.8,724.1L390.1,728.5L394.7,735.9L399.3,741.9L402,744.7L404.4,746.9L406.8,748.6L409.6,750.4L412.9,752L416.4,753.5L420.6,754.9L424.8,756L433.1,757.6L443.7,758.6" fill="none" stroke="#21918c" stroke-width="1.3"/>
<path d="M375.7,759.6L376.2,757.2L376.7,752.3L377.8,729.3L381.1,626.9L381.7,616.3L382.3,609.6L382.7,606.6L383.1,605.4L383.5,605L383.9,605.4L384.3,606.2L385.4,611.7L387.4,624.3L390.5,646.1L392.7,657.9L395.3,669.7L398.4,681.9L402.7,696.6L406,706.5L410.4,718.5L413.3,725L416.9,731.6L421.2,738L425.1,742.7L429.1,746.5L433.1,749.4L438,752L443.7,754.3" fill="none" stroke="#35b779" stroke-width="1.3"/>
<path d="M400.8,759.6L401.4,757.2L401.8,752.3L402.9,729.3L406.2,626.9L407.3,610.5L407.8,606.6L408.5,605.1L408.9,605.3L409.4,606.2L410.8,612.9L412.7,625L415.2,643.6L417.2,654.8L420.1,668.4L423.2,680.8L428.9,699.9L434.6,716.3L436.6,721.2L438.7,725.6L441.1,730L443.7,734.2" fill="none" stroke="#90d743" stroke-width="1.3"/>
<path d="M425.9,759.6L426.4,757.9L426.8,753.7L427.7,736.7L428.8,708.7L431.1,631.9L431.9,616.3L432.9,607.2L433.4,605.4L433.6,605.1L433.8,605.1L434.4,605.9L435.1,608.5L437.6,623.5L440.5,644.9L443.7,661.9" fill="none" stroke="#fde725" stroke-width="1.3"/>
</g>
<line x1="350.6" y1="592.8" x2="350.6" y2="759.6" stroke="#111" stroke-width="1.4" stroke-dasharray="1.5 3.7"/>
<path d="M520.8,599.1 L528.2,599.1 M524.5,599.1 L524.5,599.1 M520.8,599.1 L528.2,599.1" stroke="#000" stroke-width="1.3" fill="none"/>
<circle cx="524.5" cy="599.1" r="2.75" fill="#000"/>
<path d="M535.39,609.82 L542.79,609.82 M539.09,609.82 L539.09,619.02 M535.39,619.02 L542.79,619.02" stroke="#000" stroke-width="1.3" fill="none"/>
<circle cx="539.09" cy="614.42" r="2.75" fill="#000"/>
<path d="M549.98,623.61 L557.38,623.61 M553.68,623.61 L553.68,635.87 M549.98,635.87 L557.38,635.87" stroke="#000" stroke-width="1.3" fill="none"/>
<circle cx="553.68" cy="629.74" r="2.75" fill="#000"/>
<path d="M564.57,638.04 L571.97,638.04 M568.27,638.04 L568.27,652.08 M564.57,652.08 L571.97,652.08" stroke="#000" stroke-width="1.3" fill="none"/>
<circle cx="568.27" cy="645.06" r="2.75" fill="#000"/>
<path d="M579.16,652.87 L586.56,652.87 M582.86,652.87 L582.86,667.89 M579.16,667.89 L586.56,667.89" stroke="#000" stroke-width="1.3" fill="none"/>
<circle cx="582.86" cy="660.38" r="2.75" fill="#000"/>
<path d="M593.75,668.04 L601.15,668.04 M597.45,668.04 L597.45,683.36 M593.75,683.36 L601.15,683.36" stroke="#000" stroke-width="1.3" fill="none"/>
<circle cx="597.45" cy="675.7" r="2.75" fill="#000"/>
<path d="M608.34,683.51 L615.74,683.51 M612.04,683.51 L612.04,698.53 M608.34,698.53 L615.74,698.53" stroke="#000" stroke-width="1.3" fill="none"/>
<circle cx="612.04" cy="691.02" r="2.75" fill="#000"/>
<path d="M622.93,699.32 L630.33,699.32 M626.63,699.32 L626.63,713.36 M622.93,713.36 L630.33,713.36" stroke="#000" stroke-width="1.3" fill="none"/>
<circle cx="626.63" cy="706.34" r="2.75" fill="#000"/>
<path d="M637.52,715.53 L644.92,715.53 M641.22,715.53 L641.22,727.79 M637.52,727.79 L644.92,727.79" stroke="#000" stroke-width="1.3" fill="none"/>
<circle cx="641.22" cy="721.66" r="2.75" fill="#000"/>
<path d="M652.11,732.38 L659.51,732.38 M655.81,732.38 L655.81,741.58 M652.11,741.58 L659.51,741.58" stroke="#000" stroke-width="1.3" fill="none"/>
<circle cx="655.81" cy="736.98" r="2.75" fill="#000"/>
<path d="M666.7,752.3 L674.1,752.3 M670.4,752.3 L670.4,752.3 M666.7,752.3 L674.1,752.3" stroke="#000" stroke-width="1.3" fill="none"/>
<circle cx="670.4" cy="752.3" r="2.75" fill="#000"/>
<rect x="51.2" y="591.6" width="168" height="168" fill="none" stroke="#8c8c8c" stroke-width="1.1"/>
<line x1="51.2" y1="759.6" x2="51.2" y2="763.2" stroke="#333333" stroke-width="1.1"/>
<text x="51.2" y="774.4" font-size="10.4" fill="#4d4d4d" text-anchor="middle" >0</text>
<line x1="93.2" y1="759.6" x2="93.2" y2="763.2" stroke="#333333" stroke-width="1.1"/>
<text x="93.2" y="774.4" font-size="10.4" fill="#4d4d4d" text-anchor="middle" >100</text>
<line x1="135.2" y1="759.6" x2="135.2" y2="763.2" stroke="#333333" stroke-width="1.1"/>
<text x="135.2" y="774.4" font-size="10.4" fill="#4d4d4d" text-anchor="middle" >200</text>
<line x1="177.2" y1="759.6" x2="177.2" y2="763.2" stroke="#333333" stroke-width="1.1"/>
<text x="177.2" y="774.4" font-size="10.4" fill="#4d4d4d" text-anchor="middle" >300</text>
<line x1="219.2" y1="759.6" x2="219.2" y2="763.2" stroke="#333333" stroke-width="1.1"/>
<text x="219.2" y="774.4" font-size="10.4" fill="#4d4d4d" text-anchor="middle" >400</text>
<line x1="47.4" y1="759.6" x2="51.2" y2="759.6" stroke="#333333" stroke-width="1.1"/>
<text x="44.6" y="763.3" font-size="10.4" fill="#4d4d4d" text-anchor="end" >0</text>
<line x1="47.4" y1="717.6" x2="51.2" y2="717.6" stroke="#333333" stroke-width="1.1"/>
<text x="44.6" y="721.3" font-size="10.4" fill="#4d4d4d" text-anchor="end" >25</text>
<line x1="47.4" y1="675.6" x2="51.2" y2="675.6" stroke="#333333" stroke-width="1.1"/>
<text x="44.6" y="679.3" font-size="10.4" fill="#4d4d4d" text-anchor="end" >50</text>
<line x1="47.4" y1="633.6" x2="51.2" y2="633.6" stroke="#333333" stroke-width="1.1"/>
<text x="44.6" y="637.3" font-size="10.4" fill="#4d4d4d" text-anchor="end" >75</text>
<line x1="47.4" y1="591.6" x2="51.2" y2="591.6" stroke="#333333" stroke-width="1.1"/>
<text x="44.6" y="595.3" font-size="10.4" fill="#4d4d4d" text-anchor="end" >100</text>
<rect x="274.7" y="591.6" width="168.6" height="168" fill="none" stroke="#8c8c8c" stroke-width="1.1"/>
<line x1="308.74" y1="759.6" x2="308.74" y2="763.2" stroke="#333333" stroke-width="1.1"/>
<text x="308.74" y="774.4" font-size="10.4" fill="#4d4d4d" text-anchor="middle" >-200</text>
<line x1="350.6" y1="759.6" x2="350.6" y2="763.2" stroke="#333333" stroke-width="1.1"/>
<text x="350.6" y="774.4" font-size="10.4" fill="#4d4d4d" text-anchor="middle" >0</text>
<line x1="392.46" y1="759.6" x2="392.46" y2="763.2" stroke="#333333" stroke-width="1.1"/>
<text x="392.46" y="774.4" font-size="10.4" fill="#4d4d4d" text-anchor="middle" >200</text>
<line x1="434.32" y1="759.6" x2="434.32" y2="763.2" stroke="#333333" stroke-width="1.1"/>
<text x="434.32" y="774.4" font-size="10.4" fill="#4d4d4d" text-anchor="middle" >400</text>
<line x1="270.9" y1="759.6" x2="274.7" y2="759.6" stroke="#333333" stroke-width="1.1"/>
<text x="268.1" y="763.3" font-size="10.4" fill="#4d4d4d" text-anchor="end" >0</text>
<line x1="270.9" y1="717.6" x2="274.7" y2="717.6" stroke="#333333" stroke-width="1.1"/>
<text x="268.1" y="721.3" font-size="10.4" fill="#4d4d4d" text-anchor="end" >25</text>
<line x1="270.9" y1="675.6" x2="274.7" y2="675.6" stroke="#333333" stroke-width="1.1"/>
<text x="268.1" y="679.3" font-size="10.4" fill="#4d4d4d" text-anchor="end" >50</text>
<line x1="270.9" y1="633.6" x2="274.7" y2="633.6" stroke="#333333" stroke-width="1.1"/>
<text x="268.1" y="637.3" font-size="10.4" fill="#4d4d4d" text-anchor="end" >75</text>
<line x1="270.9" y1="591.6" x2="274.7" y2="591.6" stroke="#333333" stroke-width="1.1"/>
<text x="268.1" y="595.3" font-size="10.4" fill="#4d4d4d" text-anchor="end" >100</text>
<rect x="513.2" y="591.6" width="168.2" height="168" fill="none" stroke="#8c8c8c" stroke-width="1.1"/>
<line x1="524.5" y1="759.6" x2="524.5" y2="763.2" stroke="#333333" stroke-width="1.1"/>
<text x="524.5" y="774.4" font-size="10.4" fill="#4d4d4d" text-anchor="middle" >0</text>
<line x1="560.98" y1="759.6" x2="560.98" y2="763.2" stroke="#333333" stroke-width="1.1"/>
<text x="560.98" y="774.4" font-size="10.4" fill="#4d4d4d" text-anchor="middle" >25</text>
<line x1="597.45" y1="759.6" x2="597.45" y2="763.2" stroke="#333333" stroke-width="1.1"/>
<text x="597.45" y="774.4" font-size="10.4" fill="#4d4d4d" text-anchor="middle" >50</text>
<line x1="633.92" y1="759.6" x2="633.92" y2="763.2" stroke="#333333" stroke-width="1.1"/>
<text x="633.92" y="774.4" font-size="10.4" fill="#4d4d4d" text-anchor="middle" >75</text>
<line x1="670.4" y1="759.6" x2="670.4" y2="763.2" stroke="#333333" stroke-width="1.1"/>
<text x="670.4" y="774.4" font-size="10.4" fill="#4d4d4d" text-anchor="middle" >100</text>
<line x1="509.4" y1="752.3" x2="513.2" y2="752.3" stroke="#333333" stroke-width="1.1"/>
<text x="506.6" y="756" font-size="10.4" fill="#4d4d4d" text-anchor="end" >0</text>
<line x1="509.4" y1="714" x2="513.2" y2="714" stroke="#333333" stroke-width="1.1"/>
<text x="506.6" y="717.7" font-size="10.4" fill="#4d4d4d" text-anchor="end" >25</text>
<line x1="509.4" y1="675.7" x2="513.2" y2="675.7" stroke="#333333" stroke-width="1.1"/>
<text x="506.6" y="679.4" font-size="10.4" fill="#4d4d4d" text-anchor="end" >50</text>
<line x1="509.4" y1="637.4" x2="513.2" y2="637.4" stroke="#333333" stroke-width="1.1"/>
<text x="506.6" y="641.1" font-size="10.4" fill="#4d4d4d" text-anchor="end" >75</text>
<line x1="509.4" y1="599.1" x2="513.2" y2="599.1" stroke="#333333" stroke-width="1.1"/>
<text x="506.6" y="602.8" font-size="10.4" fill="#4d4d4d" text-anchor="end" >100</text>
<text x="135.2" y="792.4" font-size="13.35" fill="#272c34" text-anchor="middle" >Model days</text>
<text x="358.7" y="792.4" font-size="13.35" fill="#272c34" text-anchor="middle" >Model days (relative to exposure event)</text>
<text x="596.8" y="792.4" font-size="13.35" fill="#272c34" text-anchor="middle" >Vaccine cross-immunity (%)</text>
<text x="20.3" y="675.6" font-size="13.35" fill="#272c34" text-anchor="middle" transform="rotate(-90 20.3 675.6)">Population Protected (%)</text>
<text x="243.5" y="675.6" font-size="13.35" fill="#272c34" text-anchor="middle" transform="rotate(-90 243.5 675.6)">Population Protected (%)</text>
<text x="467.4" y="675.6" font-size="13.35" fill="#272c34" text-anchor="middle" transform="rotate(-90 467.4 675.6)">Infections from 100</text>
<text x="481.7" y="675.6" font-size="13.35" fill="#272c34" text-anchor="middle" transform="rotate(-90 481.7 675.6)">transmissions to vaccinees</text>
<defs><linearGradient id="vg" x1="0" x2="1" y1="0" y2="0"><stop offset="0.00" stop-color="#440154"/><stop offset="0.05" stop-color="#471365"/><stop offset="0.10" stop-color="#482475"/><stop offset="0.15" stop-color="#463480"/><stop offset="0.20" stop-color="#414487"/><stop offset="0.25" stop-color="#3b528b"/><stop offset="0.30" stop-color="#355f8d"/><stop offset="0.35" stop-color="#2f6c8e"/><stop offset="0.40" stop-color="#2a788e"/><stop offset="0.45" stop-color="#25848e"/><stop offset="0.50" stop-color="#21918c"/><stop offset="0.55" stop-color="#1e9c89"/><stop offset="0.60" stop-color="#22a884"/><stop offset="0.65" stop-color="#2fb47c"/><stop offset="0.70" stop-color="#44bf70"/><stop offset="0.75" stop-color="#5ec962"/><stop offset="0.80" stop-color="#7ad151"/><stop offset="0.85" stop-color="#9bd93c"/><stop offset="0.90" stop-color="#bddf26"/><stop offset="0.95" stop-color="#dfe318"/><stop offset="1.00" stop-color="#fde725"/></linearGradient></defs>
<rect x="83.0" y="816.4" width="104.4" height="20.8" rx="10.4" fill="url(#vg)"/>
<line x1="93.44" y1="816.4" x2="93.44" y2="819.3" stroke="#fff" stroke-opacity="0.8" stroke-width="0.9"/>
<line x1="93.44" y1="834.3" x2="93.44" y2="837.2" stroke="#fff" stroke-opacity="0.8" stroke-width="0.9"/>
<line x1="103.88" y1="816.4" x2="103.88" y2="819.3" stroke="#fff" stroke-opacity="0.8" stroke-width="0.9"/>
<line x1="103.88" y1="834.3" x2="103.88" y2="837.2" stroke="#fff" stroke-opacity="0.8" stroke-width="0.9"/>
<line x1="114.32" y1="816.4" x2="114.32" y2="819.3" stroke="#fff" stroke-opacity="0.8" stroke-width="0.9"/>
<line x1="114.32" y1="834.3" x2="114.32" y2="837.2" stroke="#fff" stroke-opacity="0.8" stroke-width="0.9"/>
<line x1="124.76" y1="816.4" x2="124.76" y2="819.3" stroke="#fff" stroke-opacity="0.8" stroke-width="0.9"/>
<line x1="124.76" y1="834.3" x2="124.76" y2="837.2" stroke="#fff" stroke-opacity="0.8" stroke-width="0.9"/>
<line x1="135.2" y1="816.4" x2="135.2" y2="819.3" stroke="#fff" stroke-opacity="0.8" stroke-width="0.9"/>
<line x1="135.2" y1="834.3" x2="135.2" y2="837.2" stroke="#fff" stroke-opacity="0.8" stroke-width="0.9"/>
<line x1="145.64" y1="816.4" x2="145.64" y2="819.3" stroke="#fff" stroke-opacity="0.8" stroke-width="0.9"/>
<line x1="145.64" y1="834.3" x2="145.64" y2="837.2" stroke="#fff" stroke-opacity="0.8" stroke-width="0.9"/>
<line x1="156.08" y1="816.4" x2="156.08" y2="819.3" stroke="#fff" stroke-opacity="0.8" stroke-width="0.9"/>
<line x1="156.08" y1="834.3" x2="156.08" y2="837.2" stroke="#fff" stroke-opacity="0.8" stroke-width="0.9"/>
<line x1="166.52" y1="816.4" x2="166.52" y2="819.3" stroke="#fff" stroke-opacity="0.8" stroke-width="0.9"/>
<line x1="166.52" y1="834.3" x2="166.52" y2="837.2" stroke="#fff" stroke-opacity="0.8" stroke-width="0.9"/>
<line x1="176.96" y1="816.4" x2="176.96" y2="819.3" stroke="#fff" stroke-opacity="0.8" stroke-width="0.9"/>
<line x1="176.96" y1="834.3" x2="176.96" y2="837.2" stroke="#fff" stroke-opacity="0.8" stroke-width="0.9"/>
<text x="82.8" y="853" font-size="10.4" fill="#4d4d4d" text-anchor="middle" >0%</text>
<text x="135.2" y="853" font-size="10.4" fill="#4d4d4d" text-anchor="middle" >50%</text>
<text x="187.4" y="853" font-size="10.4" fill="#4d4d4d" text-anchor="middle" >100%</text>
<text x="135.2" y="874" font-size="12.25" fill="#272c34" text-anchor="middle" >Vaccine Uptake</text>
<rect x="298.6" y="816.4" width="105.1" height="20.8" rx="10.4" fill="url(#vg)"/>
<line x1="316.12" y1="816.4" x2="316.12" y2="819.3" stroke="#fff" stroke-opacity="0.8" stroke-width="0.9"/>
<line x1="316.12" y1="834.3" x2="316.12" y2="837.2" stroke="#fff" stroke-opacity="0.8" stroke-width="0.9"/>
<line x1="333.64" y1="816.4" x2="333.64" y2="819.3" stroke="#fff" stroke-opacity="0.8" stroke-width="0.9"/>
<line x1="333.64" y1="834.3" x2="333.64" y2="837.2" stroke="#fff" stroke-opacity="0.8" stroke-width="0.9"/>
<line x1="351.16" y1="816.4" x2="351.16" y2="819.3" stroke="#fff" stroke-opacity="0.8" stroke-width="0.9"/>
<line x1="351.16" y1="834.3" x2="351.16" y2="837.2" stroke="#fff" stroke-opacity="0.8" stroke-width="0.9"/>
<line x1="368.68" y1="816.4" x2="368.68" y2="819.3" stroke="#fff" stroke-opacity="0.8" stroke-width="0.9"/>
<line x1="368.68" y1="834.3" x2="368.68" y2="837.2" stroke="#fff" stroke-opacity="0.8" stroke-width="0.9"/>
<line x1="386.2" y1="816.4" x2="386.2" y2="819.3" stroke="#fff" stroke-opacity="0.8" stroke-width="0.9"/>
<line x1="386.2" y1="834.3" x2="386.2" y2="837.2" stroke="#fff" stroke-opacity="0.8" stroke-width="0.9"/>
<text x="298.6" y="853" font-size="10.4" fill="#4d4d4d" text-anchor="middle" >-360</text>
<text x="351.15" y="853" font-size="10.4" fill="#4d4d4d" text-anchor="middle" >0</text>
<text x="403.7" y="853" font-size="10.4" fill="#4d4d4d" text-anchor="middle" >360</text>
<text x="359.4" y="874" font-size="12.25" fill="#272c34" text-anchor="middle" >Vaccine Timing (days)</text>
</svg></body></html>
